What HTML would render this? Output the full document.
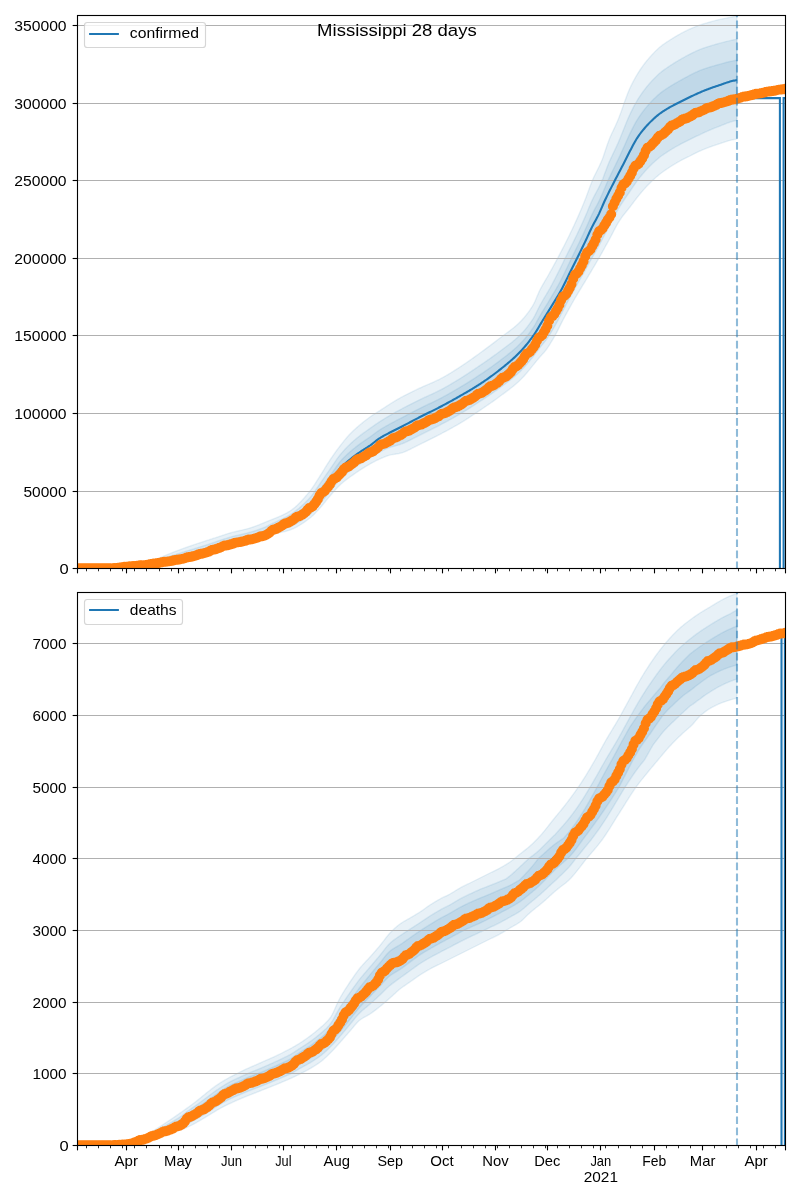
<!DOCTYPE html>
<html><head><meta charset="utf-8"><title>Mississippi 28 days</title>
<style>html,body{margin:0;padding:0;background:#fff}body{width:800px;height:1200px;overflow:hidden}svg{display:block;will-change:transform}text{font-family:"Liberation Sans",sans-serif;fill:#000}</style>
</head><body>
<svg width="800" height="1200" viewBox="0 0 800 1200">
<rect width="800" height="1200" fill="#fff"/>
<clipPath id="c1"><rect x="77.5" y="15.5" width="708" height="553"/></clipPath>
<g clip-path="url(#c1)">
<path d="M150,562 L151,561.56 L152,561.12 L153,560.68 L154,560.25 L155,559.81 L156,559.38 L157,558.95 L158,558.52 L159,558.1 L160,557.67 L161,557.25 L162,556.83 L163,556.41 L164,556 L165,555.59 L166,555.17 L167,554.77 L168,554.36 L169,553.96 L170,553.55 L171,553.16 L172,552.76 L173,552.36 L174,551.97 L175,551.58 L176,551.2 L177,550.81 L178,550.43 L179,550.05 L180,549.68 L181,549.3 L182,548.93 L183,548.57 L184,548.2 L185,547.84 L186,547.48 L187,547.13 L188,546.78 L189,546.43 L190,546.08 L191,545.73 L192,545.39 L193,545.05 L194,544.71 L195,544.38 L196,544.04 L197,543.71 L198,543.38 L199,543.05 L200,542.72 L201,542.4 L202,542.07 L203,541.75 L204,541.42 L205,541.1 L206,540.78 L207,540.45 L208,540.13 L209,539.81 L210,539.49 L211,539.17 L212,538.85 L213,538.52 L214,538.2 L215,537.88 L216,537.55 L217,537.23 L218,536.9 L219,536.58 L220,536.25 L221,535.92 L222,535.58 L223,535.25 L224,534.91 L225,534.57 L226,534.24 L227,533.92 L228,533.6 L229,533.29 L230,533 L231,532.72 L232,532.45 L233,532.19 L234,531.94 L235,531.7 L236,531.46 L237,531.23 L238,531 L239,530.77 L240,530.54 L241,530.32 L242,530.09 L243,529.85 L244,529.61 L245,529.37 L246,529.11 L247,528.85 L248,528.58 L249,528.3 L250,528 L251,527.69 L252,527.36 L253,527.03 L254,526.68 L255,526.32 L256,525.95 L257,525.57 L258,525.18 L259,524.79 L260,524.39 L261,523.98 L262,523.57 L263,523.16 L264,522.75 L265,522.33 L266,521.92 L267,521.5 L268,521.09 L269,520.69 L270,520.29 L271,519.89 L272,519.5 L273,519.1 L274,518.71 L275,518.31 L276,517.91 L277,517.5 L278,517.09 L279,516.66 L280,516.23 L281,515.79 L282,515.33 L283,514.85 L284,514.36 L285,513.86 L286,513.33 L287,512.78 L288,512.21 L289,511.62 L290,511 L291,510.34 L292,509.64 L293,508.88 L294,508.09 L295,507.25 L296,506.37 L297,505.45 L298,504.5 L299,503.51 L300,502.49 L301,501.44 L302,500.36 L303,499.26 L304,498.13 L305,496.98 L306,495.82 L307,494.63 L308,493.43 L309,492.22 L310,491 L311,489.73 L312,488.36 L313,486.93 L314,485.44 L315,483.9 L316,482.33 L317,480.74 L318,479.15 L319,477.56 L320,476 L321,474.43 L322,472.83 L323,471.21 L324,469.57 L325,467.93 L326,466.3 L327,464.68 L328,463.08 L329,461.52 L330,460 L331,458.51 L332,457.05 L333,455.59 L334,454.16 L335,452.75 L336,451.36 L337,449.98 L338,448.63 L339,447.3 L340,446 L341,444.71 L342,443.42 L343,442.15 L344,440.89 L345,439.65 L346,438.44 L347,437.27 L348,436.13 L349,435.04 L350,434 L351,433 L352,432.01 L353,431.05 L354,430.1 L355,429.17 L356,428.26 L357,427.37 L358,426.49 L359,425.63 L360,424.78 L361,423.95 L362,423.13 L363,422.32 L364,421.53 L365,420.75 L366,419.98 L367,419.22 L368,418.47 L369,417.73 L370,417 L371,416.29 L372,415.6 L373,414.94 L374,414.29 L375,413.66 L376,413.03 L377,412.4 L378,411.78 L379,411.14 L380,410.5 L381,409.85 L382,409.19 L383,408.53 L384,407.88 L385,407.22 L386,406.56 L387,405.91 L388,405.27 L389,404.63 L390,404 L391,403.38 L392,402.75 L393,402.13 L394,401.52 L395,400.91 L396,400.31 L397,399.71 L398,399.13 L399,398.56 L400,398 L401,397.45 L402,396.91 L403,396.38 L404,395.85 L405,395.33 L406,394.82 L407,394.31 L408,393.8 L409,393.3 L410,392.81 L411,392.31 L412,391.83 L413,391.34 L414,390.86 L415,390.38 L416,389.9 L417,389.42 L418,388.95 L419,388.47 L420,388 L421,387.53 L422,387.07 L423,386.62 L424,386.18 L425,385.74 L426,385.31 L427,384.88 L428,384.46 L429,384.03 L430,383.6 L431,383.17 L432,382.74 L433,382.3 L434,381.86 L435,381.41 L436,380.95 L437,380.48 L438,380 L439,379.51 L440,379 L441,378.48 L442,377.95 L443,377.4 L444,376.85 L445,376.28 L446,375.71 L447,375.13 L448,374.54 L449,373.94 L450,373.33 L451,372.72 L452,372.1 L453,371.47 L454,370.84 L455,370.21 L456,369.57 L457,368.93 L458,368.29 L459,367.65 L460,367 L461,366.35 L462,365.69 L463,365.03 L464,364.35 L465,363.67 L466,362.99 L467,362.3 L468,361.6 L469,360.9 L470,360.19 L471,359.49 L472,358.77 L473,358.06 L474,357.34 L475,356.62 L476,355.9 L477,355.17 L478,354.45 L479,353.72 L480,353 L481,352.27 L482,351.55 L483,350.82 L484,350.08 L485,349.35 L486,348.61 L487,347.87 L488,347.12 L489,346.37 L490,345.63 L491,344.87 L492,344.12 L493,343.36 L494,342.6 L495,341.84 L496,341.08 L497,340.31 L498,339.54 L499,338.77 L500,338 L501,337.23 L502,336.48 L503,335.73 L504,335 L505,334.27 L506,333.54 L507,332.81 L508,332.07 L509,331.33 L510,330.58 L511,329.82 L512,329.04 L513,328.25 L514,327.44 L515,326.6 L516,325.74 L517,324.86 L518,323.94 L519,322.99 L520,322 L521,320.98 L522,319.92 L523,318.83 L524,317.7 L525,316.52 L526,315.3 L527,314.02 L528,312.7 L529,311.32 L530,309.88 L531,308.37 L532,306.81 L533,305.17 L534,303.35 L535,301.24 L536,298.94 L537,296.54 L538,294.16 L539,291.88 L540,289.8 L541,287.89 L542,286.06 L543,284.29 L544,282.57 L545,280.87 L546,279.19 L547,277.49 L548,275.77 L549,274 L550,272.2 L551,270.39 L552,268.58 L553,266.75 L554,264.92 L555,263.07 L556,261.21 L557,259.34 L558,257.46 L559,255.57 L560,253.67 L561,251.76 L562,249.84 L563,247.91 L564,245.96 L565,243.99 L566,242.01 L567,240 L568,237.98 L569,235.94 L570,233.88 L571,231.81 L572,229.72 L573,227.61 L574,225.47 L575,223.3 L576,221.11 L577,218.88 L578,216.63 L579,214.35 L580,212.04 L581,209.7 L582,207.33 L583,204.92 L584,202.48 L585,200 L586,197.43 L587,194.76 L588,192.01 L589,189.26 L590,186.53 L591,183.88 L592,181.36 L593,179.01 L594,176.8 L595,174.71 L596,172.69 L597,170.7 L598,168.71 L599,166.69 L600,164.58 L601,162.37 L602,160 L603,157.4 L604,154.55 L605,151.57 L606,148.53 L607,145.53 L608,142.65 L609,140 L610,137.57 L611,135.27 L612,133.07 L613,130.94 L614,128.84 L615,126.73 L616,124.58 L617,122.34 L618,120 L619,117.51 L620,114.87 L621,112.13 L622,109.31 L623,106.45 L624,103.58 L625,100.74 L626,97.95 L627,95.25 L628,92.67 L629,90.24 L630,88 L631,85.9 L632,83.88 L633,81.92 L634,80.04 L635,78.22 L636,76.46 L637,74.76 L638,73.12 L639,71.53 L640,70 L641,68.51 L642,67.08 L643,65.68 L644,64.34 L645,63.03 L646,61.75 L647,60.52 L648,59.32 L649,58.14 L650,57 L651,55.88 L652,54.78 L653,53.7 L654,52.64 L655,51.62 L656,50.62 L657,49.66 L658,48.73 L659,47.85 L660,47 L661,46.2 L662,45.42 L663,44.68 L664,43.97 L665,43.28 L666,42.6 L667,41.94 L668,41.29 L669,40.65 L670,40 L671,39.36 L672,38.72 L673,38.1 L674,37.48 L675,36.87 L676,36.28 L677,35.69 L678,35.12 L679,34.55 L680,34 L681,33.46 L682,32.92 L683,32.4 L684,31.88 L685,31.37 L686,30.88 L687,30.39 L688,29.91 L689,29.45 L690,29 L691,28.56 L692,28.12 L693,27.7 L694,27.28 L695,26.87 L696,26.48 L697,26.09 L698,25.71 L699,25.35 L700,25 L701,24.66 L702,24.34 L703,24.02 L704,23.72 L705,23.42 L706,23.13 L707,22.84 L708,22.56 L709,22.28 L710,22 L711,21.72 L712,21.45 L713,21.17 L714,20.9 L715,20.63 L716,20.37 L717,20.12 L718,19.87 L719,19.63 L720,19.4 L721,19.18 L722,18.97 L723,18.76 L724,18.56 L725,18.37 L726,18.17 L727,17.98 L728,17.79 L729,17.6 L730,17.4 L731,17.2 L732,17 L733,16.8 L734,16.6 L735,16.4 L736,16.2 L737,16 L737,139 L736,139.16 L735,139.33 L734,139.52 L733,139.72 L732,139.94 L731,140.16 L730,140.4 L729,140.66 L728,140.94 L727,141.24 L726,141.56 L725,141.89 L724,142.23 L723,142.58 L722,142.92 L721,143.27 L720,143.6 L719,143.93 L718,144.26 L717,144.59 L716,144.92 L715,145.25 L714,145.59 L713,145.93 L712,146.28 L711,146.64 L710,147 L709,147.37 L708,147.74 L707,148.12 L706,148.51 L705,148.9 L704,149.3 L703,149.71 L702,150.13 L701,150.56 L700,151 L699,151.46 L698,151.93 L697,152.42 L696,152.92 L695,153.43 L694,153.95 L693,154.46 L692,154.98 L691,155.5 L690,156 L689,156.5 L688,156.99 L687,157.47 L686,157.96 L685,158.44 L684,158.93 L683,159.43 L682,159.94 L681,160.46 L680,161 L679,161.55 L678,162.12 L677,162.69 L676,163.28 L675,163.87 L674,164.48 L673,165.1 L672,165.72 L671,166.36 L670,167 L669,167.65 L668,168.3 L667,168.97 L666,169.64 L665,170.32 L664,171.02 L663,171.74 L662,172.47 L661,173.22 L660,174 L659,174.8 L658,175.63 L657,176.48 L656,177.35 L655,178.25 L654,179.16 L653,180.1 L652,181.05 L651,182.02 L650,183 L649,184 L648,185.03 L647,186.08 L646,187.15 L645,188.25 L644,189.36 L643,190.5 L642,191.65 L641,192.82 L640,194 L639,195.21 L638,196.46 L637,197.74 L636,199.04 L635,200.36 L634,201.7 L633,203.03 L632,204.37 L631,205.69 L630,207 L629,208.28 L628,209.53 L627,210.77 L626,212 L625,213.23 L624,214.49 L623,215.79 L622,217.13 L621,218.53 L620,220 L619,221.57 L618,223.23 L617,224.97 L616,226.79 L615,228.65 L614,230.54 L613,232.46 L612,234.38 L611,236.28 L610,238.16 L609,240 L608,241.81 L607,243.63 L606,245.45 L605,247.26 L604,249.08 L603,250.89 L602,252.68 L601,254.47 L600,256.24 L599,258 L598,259.74 L597,261.47 L596,263.18 L595,264.88 L594,266.58 L593,268.27 L592,269.95 L591,271.63 L590,273.3 L589,274.98 L588,276.65 L587,278.32 L586,280 L585,281.67 L584,283.33 L583,284.98 L582,286.62 L581,288.27 L580,289.91 L579,291.56 L578,293.21 L577,294.88 L576,296.57 L575,298.27 L574,300 L573,301.75 L572,303.51 L571,305.29 L570,307.08 L569,308.89 L568,310.71 L567,312.55 L566,314.39 L565,316.25 L564,318.12 L563,320 L562,321.92 L561,323.9 L560,325.91 L559,327.92 L558,329.93 L557,331.89 L556,333.79 L555,335.6 L554,337.36 L553,339.09 L552,340.8 L551,342.48 L550,344.11 L549,345.68 L548,347.2 L547,348.64 L546,350 L545,351.26 L544,352.44 L543,353.55 L542,354.64 L541,355.73 L540,356.86 L539,358.03 L538,359.22 L537,360.42 L536,361.65 L535,362.88 L534,364.12 L533,365.37 L532,366.61 L531,367.85 L530,369.09 L529,370.32 L528,371.53 L527,372.72 L526,373.9 L525,375.05 L524,376.17 L523,377.26 L522,378.31 L521,379.33 L520,380.3 L519,381.24 L518,382.15 L517,383.05 L516,383.92 L515,384.77 L514,385.61 L513,386.43 L512,387.24 L511,388.03 L510,388.81 L509,389.58 L508,390.34 L507,391.1 L506,391.85 L505,392.59 L504,393.33 L503,394.07 L502,394.81 L501,395.56 L500,396.3 L499,397.04 L498,397.78 L497,398.51 L496,399.24 L495,399.96 L494,400.67 L493,401.38 L492,402.08 L491,402.78 L490,403.48 L489,404.17 L488,404.86 L487,405.55 L486,406.24 L485,406.92 L484,407.6 L483,408.27 L482,408.95 L481,409.63 L480,410.3 L479,410.97 L478,411.65 L477,412.32 L476,413 L475,413.67 L474,414.34 L473,415.01 L472,415.67 L471,416.34 L470,417 L469,417.65 L468,418.3 L467,418.95 L466,419.59 L465,420.22 L464,420.85 L463,421.48 L462,422.09 L461,422.7 L460,423.3 L459,423.89 L458,424.48 L457,425.06 L456,425.63 L455,426.2 L454,426.77 L453,427.33 L452,427.88 L451,428.43 L450,428.98 L449,429.52 L448,430.06 L447,430.6 L446,431.13 L445,431.67 L444,432.2 L443,432.72 L442,433.25 L441,433.78 L440,434.3 L439,434.82 L438,435.34 L437,435.86 L436,436.38 L435,436.89 L434,437.4 L433,437.91 L432,438.42 L431,438.92 L430,439.43 L429,439.92 L428,440.42 L427,440.92 L426,441.41 L425,441.9 L424,442.38 L423,442.87 L422,443.35 L421,443.82 L420,444.3 L419,444.78 L418,445.28 L417,445.78 L416,446.29 L415,446.81 L414,447.33 L413,447.85 L412,448.36 L411,448.87 L410,449.38 L409,449.87 L408,450.34 L407,450.8 L406,451.24 L405,451.65 L404,452.04 L403,452.41 L402,452.74 L401,453.04 L400,453.3 L399,453.53 L398,453.72 L397,453.89 L396,454.04 L395,454.19 L394,454.34 L393,454.49 L392,454.66 L391,454.86 L390,455.08 L389,455.34 L388,455.64 L387,455.98 L386,456.34 L385,456.73 L384,457.13 L383,457.56 L382,457.99 L381,458.42 L380,458.86 L379,459.31 L378,459.77 L377,460.25 L376,460.75 L375,461.27 L374,461.79 L373,462.33 L372,462.88 L371,463.44 L370,464 L369,464.57 L368,465.15 L367,465.74 L366,466.34 L365,466.94 L364,467.56 L363,468.18 L362,468.81 L361,469.45 L360,470.1 L359,470.76 L358,471.42 L357,472.09 L356,472.77 L355,473.46 L354,474.15 L353,474.85 L352,475.56 L351,476.28 L350,477 L349,477.73 L348,478.46 L347,479.21 L346,479.97 L345,480.75 L344,481.55 L343,482.37 L342,483.21 L341,484.09 L340,485 L339,485.96 L338,486.96 L337,488.01 L336,489.1 L335,490.22 L334,491.36 L333,492.52 L332,493.68 L331,494.85 L330,496 L329,497.17 L328,498.37 L327,499.59 L326,500.83 L325,502.07 L324,503.31 L323,504.53 L322,505.72 L321,506.88 L320,508 L319,509.09 L318,510.19 L317,511.28 L316,512.35 L315,513.4 L314,514.42 L313,515.39 L312,516.32 L311,517.19 L310,518 L309,518.77 L308,519.52 L307,520.26 L306,520.99 L305,521.7 L304,522.4 L303,523.08 L302,523.75 L301,524.39 L300,525.02 L299,525.63 L298,526.21 L297,526.77 L296,527.31 L295,527.83 L294,528.32 L293,528.78 L292,529.21 L291,529.62 L290,530 L289,530.35 L288,530.66 L287,530.95 L286,531.22 L285,531.46 L284,531.7 L283,531.92 L282,532.14 L281,532.35 L280,532.57 L279,532.79 L278,533.03 L277,533.27 L276,533.54 L275,533.83 L274,534.15 L273,534.5 L272,534.94 L271,535.47 L270,536.03 L269,536.56 L268,537 L267,537.36 L266,537.7 L265,538.03 L264,538.34 L263,538.64 L262,538.92 L261,539.2 L260,539.46 L259,539.72 L258,539.96 L257,540.2 L256,540.44 L255,540.67 L254,540.9 L253,541.12 L252,541.35 L251,541.57 L250,541.8 L249,542.02 L248,542.24 L247,542.45 L246,542.65 L245,542.85 L244,543.04 L243,543.23 L242,543.42 L241,543.6 L240,543.79 L239,543.98 L238,544.16 L237,544.36 L236,544.55 L235,544.75 L234,544.95 L233,545.17 L232,545.39 L231,545.62 L230,545.85 L229,546.09 L228,546.33 L227,546.58 L226,546.84 L225,547.1 L224,547.36 L223,547.63 L222,547.9 L221,548.17 L220,548.44 L219,548.72 L218,549 L217,549.28 L216,549.57 L215,549.85 L214,550.14 L213,550.42 L212,550.71 L211,551 L210,551.29 L209,551.57 L208,551.86 L207,552.14 L206,552.43 L205,552.73 L204,553.03 L203,553.33 L202,553.63 L201,553.94 L200,554.25 L199,554.56 L198,554.88 L197,555.19 L196,555.51 L195,555.82 L194,556.13 L193,556.44 L192,556.75 L191,557.06 L190,557.36 L189,557.66 L188,557.96 L187,558.25 L186,558.54 L185,558.82 L184,559.1 L183,559.37 L182,559.63 L181,559.89 L180,560.15 L179,560.41 L178,560.66 L177,560.92 L176,561.17 L175,561.42 L174,561.67 L173,561.92 L172,562.16 L171,562.41 L170,562.65 L169,562.89 L168,563.13 L167,563.36 L166,563.6 L165,563.83 L164,564.06 L163,564.28 L162,564.51 L161,564.73 L160,564.95 L159,565.16 L158,565.38 L157,565.59 L156,565.8 L155,566.01 L154,566.21 L153,566.41 L152,566.61 L151,566.81 L150,567Z" fill="#1f77b4" fill-opacity="0.1" stroke="#1f77b4" stroke-opacity="0.1" stroke-width="1.39" stroke-linejoin="round"/>
<path d="M150,562.51 L151,562.18 L152,561.85 L153,561.52 L154,561.18 L155,560.85 L156,560.53 L157,560.2 L158,559.88 L159,559.56 L160,559.24 L161,558.93 L162,558.62 L163,558.3 L164,557.99 L165,557.69 L166,557.38 L167,557.07 L168,556.77 L169,556.46 L170,556.16 L171,555.85 L172,555.55 L173,555.24 L174,554.94 L175,554.64 L176,554.33 L177,554.03 L178,553.72 L179,553.41 L180,553.1 L181,552.8 L182,552.49 L183,552.18 L184,551.87 L185,551.56 L186,551.26 L187,550.95 L188,550.64 L189,550.33 L190,550.02 L191,549.72 L192,549.41 L193,549.1 L194,548.79 L195,548.48 L196,548.17 L197,547.86 L198,547.55 L199,547.24 L200,546.93 L201,546.62 L202,546.31 L203,545.99 L204,545.68 L205,545.36 L206,545.05 L207,544.73 L208,544.42 L209,544.09 L210,543.76 L211,543.43 L212,543.08 L213,542.74 L214,542.4 L215,542.05 L216,541.7 L217,541.36 L218,541.02 L219,540.68 L220,540.35 L221,540.02 L222,539.69 L223,539.36 L224,539.03 L225,538.7 L226,538.38 L227,538.06 L228,537.76 L229,537.46 L230,537.17 L231,536.89 L232,536.62 L233,536.36 L234,536.11 L235,535.86 L236,535.62 L237,535.39 L238,535.16 L239,534.93 L240,534.71 L241,534.48 L242,534.25 L243,534.02 L244,533.79 L245,533.55 L246,533.31 L247,533.05 L248,532.79 L249,532.52 L250,532.24 L251,531.95 L252,531.65 L253,531.35 L254,531.04 L255,530.72 L256,530.4 L257,530.07 L258,529.73 L259,529.38 L260,529.02 L261,528.65 L262,528.28 L263,527.89 L264,527.49 L265,527.08 L266,526.63 L267,526.14 L268,525.65 L269,525.17 L270,524.68 L271,524.18 L272,523.7 L273,523.22 L274,522.76 L275,522.3 L276,521.84 L277,521.38 L278,520.93 L279,520.47 L280,520 L281,519.53 L282,519.06 L283,518.57 L284,518.07 L285,517.56 L286,517.04 L287,516.5 L288,515.94 L289,515.36 L290,514.76 L291,514.13 L292,513.48 L293,512.81 L294,512.1 L295,511.37 L296,510.62 L297,509.84 L298,509.03 L299,508.21 L300,507.35 L301,506.48 L302,505.58 L303,504.65 L304,503.71 L305,502.74 L306,501.75 L307,500.73 L308,499.7 L309,498.64 L310,497.56 L311,496.41 L312,495.17 L313,493.84 L314,492.44 L315,490.99 L316,489.51 L317,488.01 L318,486.52 L319,485.04 L320,483.6 L321,482.18 L322,480.74 L323,479.3 L324,477.86 L325,476.41 L326,474.96 L327,473.51 L328,472.06 L329,470.63 L330,469.2 L331,467.76 L332,466.29 L333,464.81 L334,463.33 L335,461.85 L336,460.39 L337,458.96 L338,457.58 L339,456.26 L340,455 L341,453.79 L342,452.62 L343,451.46 L344,450.34 L345,449.25 L346,448.18 L347,447.14 L348,446.13 L349,445.15 L350,444.2 L351,443.27 L352,442.37 L353,441.47 L354,440.6 L355,439.74 L356,438.9 L357,438.07 L358,437.26 L359,436.46 L360,435.67 L361,434.89 L362,434.14 L363,433.4 L364,432.67 L365,431.95 L366,431.24 L367,430.53 L368,429.82 L369,429.11 L370,428.4 L371,427.69 L372,426.97 L373,426.27 L374,425.56 L375,424.86 L376,424.17 L377,423.49 L378,422.81 L379,422.15 L380,421.5 L381,420.86 L382,420.23 L383,419.6 L384,418.99 L385,418.38 L386,417.77 L387,417.17 L388,416.58 L389,415.99 L390,415.4 L391,414.82 L392,414.24 L393,413.67 L394,413.1 L395,412.54 L396,411.98 L397,411.43 L398,410.88 L399,410.34 L400,409.8 L401,409.27 L402,408.74 L403,408.21 L404,407.68 L405,407.16 L406,406.64 L407,406.12 L408,405.61 L409,405.1 L410,404.59 L411,404.08 L412,403.57 L413,403.07 L414,402.57 L415,402.07 L416,401.57 L417,401.08 L418,400.58 L419,400.09 L420,399.6 L421,399.12 L422,398.64 L423,398.17 L424,397.7 L425,397.24 L426,396.78 L427,396.33 L428,395.88 L429,395.43 L430,394.97 L431,394.52 L432,394.06 L433,393.6 L434,393.14 L435,392.67 L436,392.19 L437,391.71 L438,391.21 L439,390.71 L440,390.2 L441,389.68 L442,389.15 L443,388.61 L444,388.06 L445,387.51 L446,386.95 L447,386.38 L448,385.81 L449,385.23 L450,384.65 L451,384.06 L452,383.47 L453,382.87 L454,382.27 L455,381.66 L456,381.05 L457,380.44 L458,379.83 L459,379.22 L460,378.6 L461,377.98 L462,377.36 L463,376.73 L464,376.09 L465,375.45 L466,374.81 L467,374.16 L468,373.51 L469,372.86 L470,372.2 L471,371.53 L472,370.87 L473,370.2 L474,369.52 L475,368.84 L476,368.16 L477,367.48 L478,366.79 L479,366.09 L480,365.4 L481,364.73 L482,364.06 L483,363.38 L484,362.7 L485,362.01 L486,361.32 L487,360.63 L488,359.93 L489,359.23 L490,358.53 L491,357.82 L492,357.1 L493,356.38 L494,355.66 L495,354.93 L496,354.2 L497,353.46 L498,352.72 L499,351.98 L500,351.23 L501,350.48 L502,349.74 L503,349 L504,348.26 L505,347.53 L506,346.79 L507,346.05 L508,345.3 L509,344.54 L510,343.77 L511,342.99 L512,342.2 L513,341.39 L514,340.57 L515,339.72 L516,338.85 L517,337.96 L518,337.04 L519,336.09 L520,335.12 L521,334.11 L522,333.07 L523,332 L524,330.86 L525,329.69 L526,328.47 L527,327.22 L528,325.93 L529,324.59 L530,323.21 L531,321.78 L532,320.3 L533,318.78 L534,317.14 L535,315.3 L536,313.32 L537,311.27 L538,309.21 L539,307.2 L540,305.29 L541,303.48 L542,301.72 L543,300 L544,298.33 L545,296.67 L546,295.01 L547,293.35 L548,291.67 L549,289.97 L550,288.25 L551,286.36 L552,284.45 L553,282.54 L554,280.63 L555,278.71 L556,276.78 L557,274.84 L558,272.88 L559,270.9 L560,268.9 L561,266.87 L562,264.8 L563,262.7 L564,260.56 L565,258.4 L566,256.46 L567,254.5 L568,252.54 L569,250.58 L570,248.61 L571,246.63 L572,244.64 L573,242.64 L574,240.62 L575,238.59 L576,236.53 L577,234.45 L578,232.36 L579,230.25 L580,228.12 L581,225.97 L582,223.8 L583,221.61 L584,219.4 L585,217.15 L586,214.85 L587,212.46 L588,210.03 L589,207.6 L590,205.19 L591,202.85 L592,200.6 L593,198.49 L594,196.51 L595,194.61 L596,192.77 L597,190.93 L598,189.05 L599,187.1 L600,185.05 L601,182.89 L602,180.63 L603,178.18 L604,175.54 L605,172.86 L606,170.19 L607,167.55 L608,165 L609,162.58 L610,160.29 L611,158.09 L612,155.95 L613,153.84 L614,151.76 L615,149.67 L616,147.55 L617,145.4 L618,143.19 L619,140.9 L620,138.52 L621,136.09 L622,133.6 L623,131.09 L624,128.57 L625,126.05 L626,123.54 L627,121.08 L628,118.67 L629,116.36 L630,114.19 L631,112.11 L632,110.07 L633,108.09 L634,106.16 L635,104.29 L636,102.49 L637,100.77 L638,99.12 L639,97.54 L640,96.01 L641,94.54 L642,93.11 L643,91.72 L644,90.38 L645,89.07 L646,87.79 L647,86.55 L648,85.34 L649,84.15 L650,83 L651,81.88 L652,80.79 L653,79.71 L654,78.66 L655,77.64 L656,76.64 L657,75.68 L658,74.74 L659,73.84 L660,72.99 L661,72.16 L662,71.37 L663,70.61 L664,69.87 L665,69.16 L666,68.46 L667,67.77 L668,67.09 L669,66.42 L670,65.76 L671,65.11 L672,64.46 L673,63.82 L674,63.19 L675,62.57 L676,61.96 L677,61.35 L678,60.76 L679,60.17 L680,59.59 L681,59.02 L682,58.45 L683,57.88 L684,57.32 L685,56.76 L686,56.21 L687,55.67 L688,55.14 L689,54.62 L690,54.11 L691,53.6 L692,53.1 L693,52.61 L694,52.13 L695,51.65 L696,51.18 L697,50.72 L698,50.27 L699,49.83 L700,49.4 L701,49.03 L702,48.67 L703,48.32 L704,47.98 L705,47.64 L706,47.32 L707,46.99 L708,46.67 L709,46.36 L710,46.05 L711,45.74 L712,45.44 L713,45.14 L714,44.84 L715,44.55 L716,44.27 L717,43.98 L718,43.71 L719,43.43 L720,43.17 L721,42.9 L722,42.64 L723,42.38 L724,42.12 L725,41.86 L726,41.61 L727,41.37 L728,41.13 L729,40.89 L730,40.67 L731,40.44 L732,40.23 L733,40.01 L734,39.8 L735,39.6 L736,39.4 L737,39.2 L737,120.3 L736,120.53 L735,120.77 L734,121.03 L733,121.29 L732,121.58 L731,121.87 L730,122.17 L729,122.5 L728,122.85 L727,123.21 L726,123.6 L725,124 L724,124.4 L723,124.81 L722,125.22 L721,125.62 L720,126.02 L719,126.41 L718,126.8 L717,127.19 L716,127.58 L715,127.97 L714,128.37 L713,128.77 L712,129.17 L711,129.59 L710,130.01 L709,130.44 L708,130.87 L707,131.31 L706,131.76 L705,132.21 L704,132.67 L703,133.14 L702,133.61 L701,134.1 L700,134.59 L699,135.04 L698,135.51 L697,135.98 L696,136.47 L695,136.97 L694,137.47 L693,137.97 L692,138.48 L691,138.98 L690,139.48 L689,139.97 L688,140.46 L687,140.95 L686,141.44 L685,141.93 L684,142.43 L683,142.93 L682,143.44 L681,143.95 L680,144.48 L679,145.02 L678,145.56 L677,146.11 L676,146.68 L675,147.25 L674,147.83 L673,148.42 L672,149.02 L671,149.63 L670,150.25 L669,150.87 L668,151.5 L667,152.15 L666,152.8 L665,153.47 L664,154.15 L663,154.84 L662,155.56 L661,156.3 L660,157.06 L659,157.85 L658,158.67 L657,159.51 L656,160.38 L655,161.27 L654,162.18 L653,163.11 L652,164.06 L651,165.03 L650,166.01 L649,167.02 L648,168.06 L647,169.12 L646,170.2 L645,171.31 L644,172.44 L643,173.59 L642,174.76 L641,175.96 L640,177.18 L639,178.44 L638,179.74 L637,181.09 L636,182.48 L635,183.92 L634,185.38 L633,186.86 L632,188.35 L631,189.84 L630,191.32 L629,192.79 L628,194.25 L627,195.71 L626,197.16 L625,198.6 L624,200.06 L623,201.53 L622,203.03 L621,204.57 L620,206.16 L619,207.83 L618,209.56 L617,211.35 L616,213.2 L615,215.08 L614,217 L613,218.92 L612,220.85 L611,222.77 L610,224.68 L609,226.56 L608,228.43 L607,230.3 L606,232.19 L605,234.09 L604,236.01 L603,237.95 L602,239.89 L601,241.82 L600,243.74 L599,245.61 L598,247.44 L597,249.22 L596,250.97 L595,252.7 L594,254.43 L593,256.18 L592,257.94 L591,259.72 L590,261.52 L589,263.33 L588,265.14 L587,266.96 L586,268.77 L585,270.56 L584,272.34 L583,274.11 L582,275.87 L581,277.62 L580,279.38 L579,281.13 L578,282.9 L577,284.67 L576,286.45 L575,288.24 L574,290.05 L573,291.87 L572,293.7 L571,295.55 L570,297.4 L569,299.26 L568,301.14 L567,303.03 L566,304.94 L565,306.85 L564,308.76 L563,310.67 L562,312.59 L561,314.53 L560,316.48 L559,318.41 L558,320.33 L557,322.2 L556,324.02 L555,325.78 L554,327.5 L553,329.2 L552,330.89 L551,332.54 L550,334.14 L549,335.7 L548,337.21 L547,338.68 L546,340.08 L545,341.42 L544,342.69 L543,343.92 L542,345.14 L541,346.37 L540,347.63 L539,348.92 L538,350.23 L537,351.54 L536,352.85 L535,354.16 L534,355.45 L533,356.72 L532,357.98 L531,359.23 L530,360.47 L529,361.7 L528,362.91 L527,364.1 L526,365.26 L525,366.4 L524,367.51 L523,368.59 L522,369.64 L521,370.65 L520,371.63 L519,372.57 L518,373.49 L517,374.39 L516,375.26 L515,376.12 L514,376.96 L513,377.79 L512,378.6 L511,379.4 L510,380.18 L509,380.96 L508,381.73 L507,382.48 L506,383.23 L505,383.98 L504,384.72 L503,385.46 L502,386.2 L501,386.93 L500,387.67 L499,388.41 L498,389.13 L497,389.86 L496,390.57 L495,391.28 L494,391.99 L493,392.68 L492,393.38 L491,394.06 L490,394.75 L489,395.43 L488,396.1 L487,396.77 L486,397.43 L485,398.1 L484,398.76 L483,399.41 L482,400.06 L481,400.71 L480,401.36 L479,402.02 L478,402.69 L477,403.35 L476,404.01 L475,404.66 L474,405.31 L473,405.96 L472,406.61 L471,407.25 L470,407.89 L469,408.52 L468,409.15 L467,409.77 L466,410.39 L465,411.01 L464,411.62 L463,412.23 L462,412.83 L461,413.43 L460,414.02 L459,414.6 L458,415.18 L457,415.76 L456,416.33 L455,416.9 L454,417.46 L453,418.02 L452,418.58 L451,419.13 L450,419.68 L449,420.22 L448,420.77 L447,421.31 L446,421.84 L445,422.38 L444,422.91 L443,423.44 L442,423.97 L441,424.49 L440,425.02 L439,425.54 L438,426.06 L437,426.57 L436,427.09 L435,427.6 L434,428.1 L433,428.61 L432,429.11 L431,429.61 L430,430.11 L429,430.61 L428,431.1 L427,431.6 L426,432.09 L425,432.58 L424,433.07 L423,433.56 L422,434.04 L421,434.53 L420,435.02 L419,435.51 L418,436.01 L417,436.52 L416,437.04 L415,437.56 L414,438.08 L413,438.6 L412,439.13 L411,439.64 L410,440.15 L409,440.66 L408,441.15 L407,441.64 L406,442.1 L405,442.56 L404,442.99 L403,443.41 L402,443.81 L401,444.18 L400,444.53 L399,444.85 L398,445.15 L397,445.43 L396,445.7 L395,445.96 L394,446.23 L393,446.5 L392,446.78 L391,447.08 L390,447.4 L389,447.75 L388,448.13 L387,448.53 L386,448.94 L385,449.38 L384,449.83 L383,450.3 L382,450.78 L381,451.27 L380,451.77 L379,452.29 L378,452.83 L377,453.41 L376,454 L375,454.6 L374,455.22 L373,455.85 L372,456.47 L371,457.09 L370,457.71 L369,458.32 L368,458.93 L367,459.54 L366,460.14 L365,460.76 L364,461.38 L363,462 L362,462.64 L361,463.29 L360,463.95 L359,464.62 L358,465.3 L357,465.99 L356,466.68 L355,467.39 L354,468.1 L353,468.82 L352,469.56 L351,470.3 L350,471.05 L349,471.81 L348,472.57 L347,473.34 L346,474.13 L345,474.93 L344,475.76 L343,476.61 L342,477.5 L341,478.42 L340,479.39 L339,480.42 L338,481.54 L337,482.72 L336,483.95 L335,485.22 L334,486.5 L333,487.8 L332,489.09 L331,490.35 L330,491.58 L329,492.79 L328,494.01 L327,495.23 L326,496.45 L325,497.67 L324,498.88 L323,500.08 L322,501.26 L321,502.43 L320,503.58 L319,504.73 L318,505.9 L317,507.07 L316,508.24 L315,509.39 L314,510.51 L313,511.58 L312,512.6 L311,513.54 L310,514.4 L309,515.2 L308,515.97 L307,516.73 L306,517.47 L305,518.19 L304,518.89 L303,519.57 L302,520.23 L301,520.87 L300,521.5 L299,522.1 L298,522.69 L297,523.25 L296,523.8 L295,524.34 L294,524.85 L293,525.35 L292,525.83 L291,526.29 L290,526.74 L289,527.16 L288,527.56 L287,527.93 L286,528.29 L285,528.63 L284,528.96 L283,529.28 L282,529.59 L281,529.9 L280,530.22 L279,530.54 L278,530.87 L277,531.21 L276,531.57 L275,531.94 L274,532.34 L273,532.77 L272,533.26 L271,533.82 L270,534.41 L269,534.97 L268,535.47 L267,535.92 L266,536.34 L265,536.73 L264,537.07 L263,537.39 L262,537.7 L261,537.99 L260,538.27 L259,538.54 L258,538.8 L257,539.05 L256,539.3 L255,539.54 L254,539.77 L253,540 L252,540.24 L251,540.47 L250,540.71 L249,540.95 L248,541.18 L247,541.4 L246,541.61 L245,541.82 L244,542.03 L243,542.23 L242,542.43 L241,542.63 L240,542.83 L239,543.02 L238,543.23 L237,543.43 L236,543.64 L235,543.85 L234,544.07 L233,544.3 L232,544.53 L231,544.77 L230,545.02 L229,545.28 L228,545.54 L227,545.8 L226,546.07 L225,546.35 L224,546.63 L223,546.91 L222,547.2 L221,547.49 L220,547.78 L219,548.08 L218,548.39 L217,548.7 L216,549.01 L215,549.33 L214,549.64 L213,549.96 L212,550.28 L211,550.6 L210,550.91 L209,551.21 L208,551.51 L207,551.81 L206,552.1 L205,552.4 L204,552.7 L203,553 L202,553.3 L201,553.6 L200,553.91 L199,554.21 L198,554.51 L197,554.82 L196,555.12 L195,555.42 L194,555.71 L193,556.01 L192,556.3 L191,556.59 L190,556.88 L189,557.16 L188,557.44 L187,557.72 L186,557.99 L185,558.25 L184,558.51 L183,558.77 L182,559.02 L181,559.26 L180,559.5 L179,559.74 L178,559.98 L177,560.21 L176,560.44 L175,560.67 L174,560.9 L173,561.12 L172,561.34 L171,561.55 L170,561.77 L169,561.98 L168,562.19 L167,562.4 L166,562.61 L165,562.81 L164,563.01 L163,563.21 L162,563.41 L161,563.61 L160,563.81 L159,564.01 L158,564.2 L157,564.4 L156,564.59 L155,564.79 L154,564.98 L153,565.17 L152,565.36 L151,565.55 L150,565.73Z" fill="#1f77b4" fill-opacity="0.1" stroke="#1f77b4" stroke-opacity="0.1" stroke-width="1.39" stroke-linejoin="round"/>
<path d="M150,562.89 L151,562.64 L152,562.39 L153,562.14 L154,561.89 L155,561.64 L156,561.39 L157,561.14 L158,560.9 L159,560.66 L160,560.42 L161,560.19 L162,559.96 L163,559.72 L164,559.49 L165,559.26 L166,559.03 L167,558.8 L168,558.57 L169,558.34 L170,558.11 L171,557.87 L172,557.64 L173,557.4 L174,557.17 L175,556.92 L176,556.68 L177,556.43 L178,556.18 L179,555.93 L180,555.67 L181,555.42 L182,555.15 L183,554.89 L184,554.63 L185,554.36 L186,554.09 L187,553.81 L188,553.54 L189,553.26 L190,552.98 L191,552.7 L192,552.42 L193,552.13 L194,551.85 L195,551.56 L196,551.27 L197,550.97 L198,550.68 L199,550.38 L200,550.08 L201,549.78 L202,549.48 L203,549.18 L204,548.87 L205,548.56 L206,548.25 L207,547.94 L208,547.63 L209,547.3 L210,546.97 L211,546.62 L212,546.26 L213,545.9 L214,545.54 L215,545.18 L216,544.82 L217,544.46 L218,544.1 L219,543.76 L220,543.42 L221,543.1 L222,542.77 L223,542.44 L224,542.12 L225,541.8 L226,541.48 L227,541.17 L228,540.87 L229,540.58 L230,540.29 L231,540.01 L232,539.74 L233,539.48 L234,539.23 L235,538.99 L236,538.75 L237,538.51 L238,538.28 L239,538.06 L240,537.83 L241,537.61 L242,537.38 L243,537.15 L244,536.92 L245,536.69 L246,536.45 L247,536.2 L248,535.95 L249,535.69 L250,535.42 L251,535.14 L252,534.87 L253,534.59 L254,534.31 L255,534.03 L256,533.74 L257,533.44 L258,533.14 L259,532.82 L260,532.5 L261,532.16 L262,531.8 L263,531.43 L264,531.05 L265,530.64 L266,530.17 L267,529.63 L268,529.08 L269,528.53 L270,527.97 L271,527.4 L272,526.85 L273,526.31 L274,525.79 L275,525.29 L276,524.79 L277,524.29 L278,523.8 L279,523.32 L280,522.83 L281,522.35 L282,521.86 L283,521.36 L284,520.86 L285,520.35 L286,519.82 L287,519.29 L288,518.74 L289,518.17 L290,517.58 L291,516.98 L292,516.37 L293,515.75 L294,515.11 L295,514.47 L296,513.81 L297,513.13 L298,512.44 L299,511.73 L300,511 L301,510.26 L302,509.49 L303,508.7 L304,507.89 L305,507.05 L306,506.19 L307,505.31 L308,504.39 L309,503.45 L310,502.48 L311,501.43 L312,500.27 L313,499.01 L314,497.69 L315,496.3 L316,494.89 L317,493.46 L318,492.04 L319,490.65 L320,489.3 L321,487.99 L322,486.68 L323,485.37 L324,484.07 L325,482.76 L326,481.45 L327,480.13 L328,478.8 L329,477.46 L330,476.1 L331,474.7 L332,473.23 L333,471.72 L334,470.2 L335,468.67 L336,467.17 L337,465.7 L338,464.3 L339,462.97 L340,461.75 L341,460.61 L342,459.51 L343,458.45 L344,457.43 L345,456.44 L346,455.48 L347,454.54 L348,453.63 L349,452.73 L350,451.85 L351,450.98 L352,450.13 L353,449.3 L354,448.48 L355,447.67 L356,446.88 L357,446.1 L358,445.33 L359,444.58 L360,443.83 L361,443.11 L362,442.4 L363,441.7 L364,441.02 L365,440.35 L366,439.68 L367,439.01 L368,438.33 L369,437.65 L370,436.95 L371,436.23 L372,435.5 L373,434.76 L374,434.01 L375,433.27 L376,432.53 L377,431.8 L378,431.09 L379,430.41 L380,429.75 L381,429.12 L382,428.51 L383,427.91 L384,427.32 L385,426.74 L386,426.18 L387,425.61 L388,425.06 L389,424.5 L390,423.95 L391,423.4 L392,422.86 L393,422.32 L394,421.79 L395,421.26 L396,420.74 L397,420.21 L398,419.69 L399,419.17 L400,418.65 L401,418.13 L402,417.6 L403,417.08 L404,416.56 L405,416.03 L406,415.51 L407,414.98 L408,414.46 L409,413.94 L410,413.42 L411,412.9 L412,412.38 L413,411.86 L414,411.35 L415,410.84 L416,410.32 L417,409.81 L418,409.31 L419,408.8 L420,408.3 L421,407.8 L422,407.31 L423,406.82 L424,406.34 L425,405.86 L426,405.39 L427,404.92 L428,404.44 L429,403.97 L430,403.5 L431,403.03 L432,402.55 L433,402.08 L434,401.6 L435,401.11 L436,400.62 L437,400.13 L438,399.63 L439,399.12 L440,398.6 L441,398.08 L442,397.55 L443,397.01 L444,396.47 L445,395.93 L446,395.38 L447,394.82 L448,394.27 L449,393.7 L450,393.14 L451,392.57 L452,391.99 L453,391.42 L454,390.84 L455,390.25 L456,389.67 L457,389.08 L458,388.49 L459,387.89 L460,387.3 L461,386.7 L462,386.1 L463,385.5 L464,384.9 L465,384.29 L466,383.68 L467,383.06 L468,382.45 L469,381.82 L470,381.2 L471,380.57 L472,379.94 L473,379.3 L474,378.66 L475,378.01 L476,377.36 L477,376.7 L478,376.04 L479,375.37 L480,374.7 L481,374.04 L482,373.38 L483,372.72 L484,372.05 L485,371.37 L486,370.69 L487,370 L488,369.31 L489,368.61 L490,367.91 L491,367.2 L492,366.49 L493,365.77 L494,365.04 L495,364.31 L496,363.58 L497,362.83 L498,362.08 L499,361.33 L500,360.57 L501,359.81 L502,359.04 L503,358.28 L504,357.52 L505,356.75 L506,355.98 L507,355.2 L508,354.42 L509,353.62 L510,352.82 L511,352 L512,351.17 L513,350.32 L514,349.46 L515,348.58 L516,347.68 L517,346.76 L518,345.81 L519,344.85 L520,343.85 L521,342.83 L522,341.77 L523,340.69 L524,339.57 L525,338.42 L526,337.24 L527,336.02 L528,334.76 L529,333.47 L530,332.13 L531,330.76 L532,329.36 L533,327.92 L534,326.4 L535,324.76 L536,323.01 L537,321.21 L538,319.37 L539,317.54 L540,315.76 L541,314.03 L542,312.33 L543,310.66 L544,309.03 L545,307.4 L546,305.78 L547,304.16 L548,302.52 L549,300.86 L550,299.19 L551,297.52 L552,295.83 L553,294.15 L554,292.47 L555,290.8 L556,289.12 L557,287.35 L558,285.56 L559,283.74 L560,281.89 L561,280 L562,278.05 L563,276.05 L564,274 L565,271.91 L566,269.8 L567,267.68 L568,265.55 L569,263.45 L570,261.35 L571,259.24 L572,257.2 L573,255.19 L574,253.18 L575,251.15 L576,249.12 L577,247.06 L578,245 L579,242.93 L580,240.85 L581,238.76 L582,236.65 L583,234.53 L584,232.39 L585,230.24 L586,228.03 L587,225.77 L588,223.47 L589,221.17 L590,218.9 L591,216.67 L592,214.52 L593,212.48 L594,210.56 L595,208.7 L596,206.88 L597,205.03 L598,203.13 L599,201.12 L600,199 L601,196.79 L602,194.5 L603,192.15 L604,189.77 L605,187.41 L606,185.1 L607,182.83 L608,180.62 L609,178.4 L610,176.26 L611,174.15 L612,172.09 L613,170.04 L614,168 L615,165.96 L616,163.91 L617,161.85 L618,159.77 L619,157.66 L620,155.51 L621,153.33 L622,151.12 L623,148.9 L624,146.67 L625,144.42 L626,142.17 L627,139.92 L628,137.68 L629,135.5 L630,133.42 L631,131.4 L632,129.4 L633,127.44 L634,125.52 L635,123.66 L636,121.87 L637,120.17 L638,118.57 L639,117.03 L640,115.56 L641,114.13 L642,112.76 L643,111.43 L644,110.13 L645,108.87 L646,107.63 L647,106.43 L648,105.26 L649,104.11 L650,103 L651,101.93 L652,100.88 L653,99.86 L654,98.86 L655,97.88 L656,96.92 L657,96 L658,95.1 L659,94.24 L660,93.41 L661,92.62 L662,91.86 L663,91.13 L664,90.42 L665,89.73 L666,89.05 L667,88.39 L668,87.74 L669,87.1 L670,86.47 L671,85.85 L672,85.24 L673,84.64 L674,84.05 L675,83.46 L676,82.88 L677,82.31 L678,81.75 L679,81.19 L680,80.63 L681,80.08 L682,79.52 L683,78.97 L684,78.42 L685,77.87 L686,77.32 L687,76.79 L688,76.26 L689,75.73 L690,75.22 L691,74.71 L692,74.21 L693,73.71 L694,73.21 L695,72.72 L696,72.24 L697,71.77 L698,71.3 L699,70.85 L700,70.4 L701,70.03 L702,69.68 L703,69.32 L704,68.98 L705,68.64 L706,68.31 L707,67.98 L708,67.66 L709,67.34 L710,67.03 L711,66.73 L712,66.43 L713,66.14 L714,65.85 L715,65.57 L716,65.29 L717,65.01 L718,64.74 L719,64.47 L720,64.19 L721,63.92 L722,63.63 L723,63.35 L724,63.07 L725,62.79 L726,62.52 L727,62.26 L728,62 L729,61.76 L730,61.53 L731,61.32 L732,61.11 L733,60.91 L734,60.72 L735,60.54 L736,60.36 L737,60.2 L737,99.47 L736,99.65 L735,99.84 L734,100.05 L733,100.27 L732,100.5 L731,100.75 L730,101 L729,101.28 L728,101.58 L727,101.9 L726,102.23 L725,102.58 L724,102.93 L723,103.29 L722,103.64 L721,104 L720,104.34 L719,104.67 L718,105 L717,105.34 L716,105.67 L715,106 L714,106.34 L713,106.68 L712,107.02 L711,107.38 L710,107.74 L709,108.11 L708,108.49 L707,108.87 L706,109.26 L705,109.66 L704,110.06 L703,110.47 L702,110.88 L701,111.31 L700,111.74 L699,112.18 L698,112.63 L697,113.09 L696,113.56 L695,114.04 L694,114.52 L693,115.01 L692,115.49 L691,115.98 L690,116.47 L689,116.96 L688,117.45 L687,117.94 L686,118.44 L685,118.93 L684,119.44 L683,119.94 L682,120.45 L681,120.96 L680,121.47 L679,121.98 L678,122.5 L677,123.02 L676,123.55 L675,124.09 L674,124.64 L673,125.2 L672,125.76 L671,126.33 L670,126.91 L669,127.5 L668,128.1 L667,128.72 L666,129.35 L665,129.99 L664,130.64 L663,131.31 L662,132.01 L661,132.72 L660,133.47 L659,134.24 L658,135.04 L657,135.87 L656,136.73 L655,137.62 L654,138.52 L653,139.45 L652,140.4 L651,141.36 L650,142.35 L649,143.37 L648,144.42 L647,145.49 L646,146.59 L645,147.71 L644,148.87 L643,150.04 L642,151.25 L641,152.48 L640,153.76 L639,155.08 L638,156.46 L637,157.9 L636,159.42 L635,161.01 L634,162.65 L633,164.34 L632,166.05 L631,167.77 L630,169.48 L629,171.21 L628,172.97 L627,174.74 L626,176.49 L625,178.22 L624,179.94 L623,181.66 L622,183.39 L621,185.13 L620,186.89 L619,188.69 L618,190.52 L617,192.38 L616,194.27 L615,196.19 L614,198.13 L613,200.07 L612,202.01 L611,203.96 L610,205.9 L609,207.84 L608,209.78 L607,211.74 L606,213.73 L605,215.74 L604,217.8 L603,219.92 L602,222.07 L601,224.21 L600,226.31 L599,228.35 L598,230.3 L597,232.16 L596,233.96 L595,235.74 L594,237.52 L593,239.33 L592,241.21 L591,243.14 L590,245.11 L589,247.11 L588,249.12 L587,251.13 L586,253.12 L585,255.09 L584,257.03 L583,258.96 L582,260.89 L581,262.8 L580,264.71 L579,266.62 L578,268.53 L577,270.44 L576,272.35 L575,274.27 L574,276.19 L573,278.12 L572,280.04 L571,281.97 L570,283.91 L569,285.85 L568,287.81 L567,289.79 L566,291.77 L565,293.76 L564,295.73 L563,297.68 L562,299.6 L561,301.49 L560,303.34 L559,305.17 L558,306.95 L557,308.71 L556,310.43 L555,312.11 L554,313.77 L553,315.43 L552,317.09 L551,318.74 L550,320.37 L549,321.98 L548,323.56 L547,325.12 L546,326.65 L545,328.15 L544,329.62 L543,331.07 L542,332.53 L541,334.01 L540,335.51 L539,337.03 L538,338.55 L537,340.05 L536,341.54 L535,342.99 L534,344.4 L533,345.76 L532,347.1 L531,348.42 L530,349.72 L529,351 L528,352.26 L527,353.49 L526,354.7 L525,355.88 L524,357.04 L523,358.16 L522,359.25 L521,360.31 L520,361.34 L519,362.34 L518,363.31 L517,364.26 L516,365.2 L515,366.11 L514,367.01 L513,367.89 L512,368.76 L511,369.61 L510,370.45 L509,371.28 L508,372.1 L507,372.91 L506,373.71 L505,374.5 L504,375.29 L503,376.08 L502,376.86 L501,377.63 L500,378.41 L499,379.18 L498,379.95 L497,380.71 L496,381.46 L495,382.21 L494,382.94 L493,383.68 L492,384.4 L491,385.12 L490,385.84 L489,386.54 L488,387.24 L487,387.94 L486,388.63 L485,389.32 L484,390 L483,390.68 L482,391.35 L481,392.02 L480,392.68 L479,393.34 L478,393.99 L477,394.64 L476,395.28 L475,395.92 L474,396.55 L473,397.18 L472,397.81 L471,398.43 L470,399.04 L469,399.66 L468,400.26 L467,400.87 L466,401.47 L465,402.07 L464,402.66 L463,403.25 L462,403.84 L461,404.43 L460,405.01 L459,405.59 L458,406.16 L457,406.74 L456,407.31 L455,407.87 L454,408.43 L453,408.99 L452,409.55 L451,410.1 L450,410.65 L449,411.2 L448,411.74 L447,412.29 L446,412.83 L445,413.36 L444,413.9 L443,414.43 L442,414.96 L441,415.48 L440,416.01 L439,416.53 L438,417.05 L437,417.56 L436,418.07 L435,418.58 L434,419.08 L433,419.58 L432,420.08 L431,420.57 L430,421.07 L429,421.56 L428,422.06 L427,422.55 L426,423.04 L425,423.53 L424,424.03 L423,424.52 L422,425.01 L421,425.51 L420,426.01 L419,426.51 L418,427.02 L417,427.54 L416,428.06 L415,428.58 L414,429.11 L413,429.63 L412,430.16 L411,430.68 L410,431.2 L409,431.72 L408,432.23 L407,432.74 L406,433.24 L405,433.73 L404,434.21 L403,434.68 L402,435.14 L401,435.58 L400,436.01 L399,436.43 L398,436.83 L397,437.21 L396,437.59 L395,437.97 L394,438.35 L393,438.73 L392,439.13 L391,439.53 L390,439.95 L389,440.39 L388,440.83 L387,441.29 L386,441.76 L385,442.24 L384,442.74 L383,443.25 L382,443.78 L381,444.32 L380,444.88 L379,445.47 L378,446.1 L377,446.76 L376,447.44 L375,448.14 L374,448.84 L373,449.55 L372,450.25 L371,450.94 L370,451.61 L369,452.25 L368,452.89 L367,453.51 L366,454.13 L365,454.75 L364,455.38 L363,456.01 L362,456.65 L361,457.3 L360,457.97 L359,458.66 L358,459.35 L357,460.06 L356,460.77 L355,461.49 L354,462.23 L353,462.97 L352,463.73 L351,464.49 L350,465.27 L349,466.06 L348,466.85 L347,467.64 L346,468.45 L345,469.28 L344,470.14 L343,471.03 L342,471.95 L341,472.92 L340,473.94 L339,475.06 L338,476.27 L337,477.58 L336,478.95 L335,480.36 L334,481.79 L333,483.22 L332,484.63 L331,485.99 L330,487.29 L329,488.54 L328,489.77 L327,490.99 L326,492.2 L325,493.39 L324,494.58 L323,495.76 L322,496.94 L321,498.11 L320,499.29 L319,500.49 L318,501.73 L317,502.99 L316,504.26 L315,505.51 L314,506.72 L313,507.89 L312,508.98 L311,509.99 L310,510.9 L309,511.73 L308,512.53 L307,513.31 L306,514.06 L305,514.78 L304,515.48 L303,516.16 L302,516.82 L301,517.45 L300,518.07 L299,518.68 L298,519.27 L297,519.84 L296,520.4 L295,520.95 L294,521.49 L293,522.02 L292,522.54 L291,523.06 L290,523.57 L289,524.07 L288,524.54 L287,525 L286,525.45 L285,525.88 L284,526.3 L283,526.71 L282,527.12 L281,527.53 L280,527.94 L279,528.35 L278,528.78 L277,529.21 L276,529.65 L275,530.11 L274,530.59 L273,531.08 L272,531.63 L271,532.22 L270,532.84 L269,533.43 L268,533.99 L267,534.51 L266,535.02 L265,535.46 L264,535.84 L263,536.19 L262,536.52 L261,536.83 L260,537.12 L259,537.41 L258,537.68 L257,537.94 L256,538.19 L255,538.44 L254,538.68 L253,538.92 L252,539.16 L251,539.41 L250,539.66 L249,539.9 L248,540.14 L247,540.38 L246,540.6 L245,540.82 L244,541.04 L243,541.26 L242,541.47 L241,541.68 L240,541.89 L239,542.1 L238,542.32 L237,542.53 L236,542.75 L235,542.98 L234,543.21 L233,543.45 L232,543.7 L231,543.95 L230,544.22 L229,544.49 L228,544.76 L227,545.04 L226,545.33 L225,545.62 L224,545.92 L223,546.22 L222,546.52 L221,546.83 L220,547.14 L219,547.46 L218,547.79 L217,548.13 L216,548.47 L215,548.82 L214,549.17 L213,549.52 L212,549.86 L211,550.2 L210,550.54 L209,550.86 L208,551.18 L207,551.48 L206,551.78 L205,552.08 L204,552.38 L203,552.68 L202,552.98 L201,553.28 L200,553.57 L199,553.87 L198,554.16 L197,554.45 L196,554.74 L195,555.03 L194,555.31 L193,555.59 L192,555.87 L191,556.14 L190,556.41 L189,556.68 L188,556.94 L187,557.2 L186,557.45 L185,557.7 L184,557.95 L183,558.18 L182,558.42 L181,558.65 L180,558.87 L179,559.1 L178,559.31 L177,559.53 L176,559.74 L175,559.94 L174,560.14 L173,560.34 L172,560.54 L171,560.73 L170,560.91 L169,561.1 L168,561.28 L167,561.47 L166,561.65 L165,561.82 L164,562 L163,562.18 L162,562.35 L161,562.53 L160,562.71 L159,562.88 L158,563.06 L157,563.24 L156,563.42 L155,563.6 L154,563.79 L153,563.97 L152,564.15 L151,564.33 L150,564.51Z" fill="#1f77b4" fill-opacity="0.1" stroke="#1f77b4" stroke-opacity="0.1" stroke-width="1.39" stroke-linejoin="round"/>
<line x1="77.5" x2="785.5" y1="568.5" y2="568.5" stroke="#b0b0b0" stroke-width="1.111"/>
<line x1="77.5" x2="785.5" y1="491.5" y2="491.5" stroke="#b0b0b0" stroke-width="1.111"/>
<line x1="77.5" x2="785.5" y1="413.5" y2="413.5" stroke="#b0b0b0" stroke-width="1.111"/>
<line x1="77.5" x2="785.5" y1="335.5" y2="335.5" stroke="#b0b0b0" stroke-width="1.111"/>
<line x1="77.5" x2="785.5" y1="258.5" y2="258.5" stroke="#b0b0b0" stroke-width="1.111"/>
<line x1="77.5" x2="785.5" y1="180.5" y2="180.5" stroke="#b0b0b0" stroke-width="1.111"/>
<line x1="77.5" x2="785.5" y1="103.5" y2="103.5" stroke="#b0b0b0" stroke-width="1.111"/>
<line x1="77.5" x2="785.5" y1="25.5" y2="25.5" stroke="#b0b0b0" stroke-width="1.111"/>
<path d="M77.96,567.4 L78.96,567.4 L79.96,567.4 L80.96,567.4 L81.96,567.4 L82.96,567.4 L83.96,567.39 L84.96,567.39 L85.96,567.39 L86.96,567.39 L87.96,567.38 L88.96,567.38 L89.96,567.38 L90.96,567.37 L91.96,567.37 L92.96,567.37 L93.96,567.36 L94.96,567.35 L95.96,567.35 L96.96,567.34 L97.96,567.34 L98.96,567.33 L99.96,567.32 L100.96,567.32 L101.96,567.31 L102.96,567.3 L103.96,567.29 L104.96,567.28 L105.96,567.27 L106.96,567.26 L107.96,567.25 L108.96,567.24 L109.96,567.23 L110.96,567.22 L111.96,567.21 L112.96,567.19 L113.96,567.15 L114.96,567.09 L115.96,567.01 L116.96,566.91 L117.96,566.8 L118.96,566.67 L119.96,566.54 L120.96,566.4 L121.96,566.26 L122.96,566.13 L123.96,565.99 L124.96,565.87 L125.96,565.76 L126.96,565.65 L127.96,565.56 L128.96,565.47 L129.96,565.38 L130.96,565.29 L131.96,565.21 L132.96,565.13 L133.96,565.04 L134.96,564.96 L135.96,564.88 L136.96,564.79 L137.96,564.71 L138.96,564.62 L139.96,564.53 L140.96,564.43 L141.96,564.33 L142.96,564.23 L143.96,564.12 L144.96,564 L145.96,563.88 L146.96,563.74 L147.96,563.6 L148.96,563.44 L149.96,563.28 L150.96,563.12 L151.96,562.95 L152.96,562.77 L153.96,562.6 L154.96,562.43 L155.96,562.26 L156.96,562.09 L157.96,561.93 L158.96,561.77 L159.96,561.61 L160.96,561.45 L161.96,561.3 L162.96,561.15 L163.96,561 L164.96,560.84 L165.96,560.69 L166.96,560.54 L167.96,560.38 L168.96,560.23 L169.96,560.07 L170.96,559.9 L171.96,559.74 L172.96,559.57 L173.96,559.4 L174.96,559.22 L175.96,559.04 L176.96,558.85 L177.96,558.66 L178.96,558.46 L179.96,558.25 L180.96,558.04 L181.96,557.83 L182.96,557.61 L183.96,557.39 L184.96,557.16 L185.96,556.93 L186.96,556.69 L187.96,556.45 L188.96,556.2 L189.96,555.95 L190.96,555.7 L191.96,555.44 L192.96,555.18 L193.96,554.91 L194.96,554.65 L195.96,554.37 L196.96,554.1 L197.96,553.82 L198.96,553.54 L199.96,553.25 L200.96,552.96 L201.96,552.67 L202.96,552.37 L203.96,552.08 L204.96,551.78 L205.96,551.47 L206.96,551.17 L207.96,550.86 L208.96,550.53 L209.96,550.18 L210.96,549.83 L211.96,549.46 L212.96,549.08 L213.96,548.7 L214.96,548.32 L215.96,547.94 L216.96,547.57 L217.96,547.21 L218.96,546.85 L219.96,546.51 L220.96,546.19 L221.96,545.86 L222.96,545.54 L223.96,545.22 L224.96,544.91 L225.96,544.6 L226.96,544.3 L227.96,544 L228.96,543.71 L229.96,543.42 L230.96,543.15 L231.96,542.88 L232.96,542.62 L233.96,542.36 L234.96,542.12 L235.96,541.88 L236.96,541.64 L237.96,541.41 L238.96,541.19 L239.96,540.96 L240.96,540.74 L241.96,540.52 L242.96,540.29 L243.96,540.07 L244.96,539.84 L245.96,539.6 L246.96,539.36 L247.96,539.12 L248.96,538.87 L249.96,538.61 L250.96,538.35 L251.96,538.1 L252.96,537.85 L253.96,537.6 L254.96,537.35 L255.96,537.09 L256.96,536.83 L257.96,536.56 L258.96,536.28 L259.96,535.98 L260.96,535.67 L261.96,535.34 L262.96,534.99 L263.96,534.62 L264.96,534.22 L265.96,533.73 L266.96,533.14 L267.96,532.52 L268.96,531.92 L269.96,531.29 L270.96,530.65 L271.96,530.02 L272.96,529.42 L273.96,528.85 L274.96,528.3 L275.96,527.75 L276.96,527.22 L277.96,526.7 L278.96,526.19 L279.96,525.68 L280.96,525.18 L281.96,524.67 L282.96,524.17 L283.96,523.66 L284.96,523.15 L285.96,522.63 L286.96,522.09 L287.96,521.55 L288.96,521 L289.96,520.42 L290.96,519.85 L291.96,519.28 L292.96,518.71 L293.96,518.15 L294.96,517.58 L295.96,517.02 L296.96,516.45 L297.96,515.87 L298.96,515.28 L299.96,514.68 L300.96,514.06 L301.96,513.43 L302.96,512.78 L303.96,512.1 L304.96,511.4 L305.96,510.67 L306.96,509.91 L307.96,509.12 L308.96,508.3 L309.96,507.44 L310.96,506.49 L311.96,505.41 L312.96,504.24 L313.96,502.99 L314.96,501.67 L315.96,500.33 L316.96,498.97 L317.96,497.62 L318.96,496.31 L319.96,495.05 L320.96,493.84 L321.96,492.66 L322.96,491.49 L323.96,490.33 L324.96,489.16 L325.96,487.99 L326.96,486.8 L327.96,485.59 L328.96,484.34 L329.96,483.05 L330.96,481.69 L331.96,480.23 L332.96,478.7 L333.96,477.13 L334.96,475.56 L335.96,474 L336.96,472.5 L337.96,471.06 L338.96,469.74 L339.96,468.54 L340.96,467.46 L341.96,466.44 L342.96,465.48 L343.96,464.55 L344.96,463.67 L345.96,462.81 L346.96,461.98 L347.96,461.16 L348.96,460.35 L349.96,459.53 L350.96,458.72 L351.96,457.93 L352.96,457.15 L353.96,456.38 L354.96,455.63 L355.96,454.89 L356.96,454.16 L357.96,453.44 L358.96,452.73 L359.96,452.03 L360.96,451.34 L361.96,450.68 L362.96,450.04 L363.96,449.4 L364.96,448.78 L365.96,448.15 L366.96,447.51 L367.96,446.87 L368.96,446.21 L369.96,445.53 L370.96,444.81 L371.96,444.06 L372.96,443.29 L373.96,442.5 L374.96,441.7 L375.96,440.92 L376.96,440.14 L377.96,439.4 L378.96,438.69 L379.96,438.03 L380.96,437.4 L381.96,436.81 L382.96,436.23 L383.96,435.67 L384.96,435.13 L385.96,434.6 L386.96,434.08 L387.96,433.56 L388.96,433.04 L389.96,432.52 L390.96,432 L391.96,431.49 L392.96,430.99 L393.96,430.5 L394.96,430 L395.96,429.51 L396.96,429.02 L397.96,428.53 L398.96,428.03 L399.96,427.52 L400.96,427.01 L401.96,426.49 L402.96,425.97 L403.96,425.45 L404.96,424.92 L405.96,424.4 L406.96,423.87 L407.96,423.34 L408.96,422.81 L409.96,422.27 L410.96,421.74 L411.96,421.21 L412.96,420.68 L413.96,420.15 L414.96,419.62 L415.96,419.1 L416.96,418.57 L417.96,418.05 L418.96,417.53 L419.96,417.02 L420.96,416.51 L421.96,416 L422.96,415.5 L423.96,415 L424.96,414.51 L425.96,414.01 L426.96,413.52 L427.96,413.03 L428.96,412.54 L429.96,412.05 L430.96,411.56 L431.96,411.06 L432.96,410.57 L433.96,410.07 L434.96,409.58 L435.96,409.07 L436.96,408.57 L437.96,408.06 L438.96,407.54 L439.96,407.02 L440.96,406.5 L441.96,405.97 L442.96,405.44 L443.96,404.9 L444.96,404.37 L445.96,403.83 L446.96,403.29 L447.96,402.74 L448.96,402.2 L449.96,401.65 L450.96,401.1 L451.96,400.54 L452.96,399.98 L453.96,399.43 L454.96,398.86 L455.96,398.3 L456.96,397.73 L457.96,397.17 L458.96,396.6 L459.96,396.02 L460.96,395.45 L461.96,394.88 L462.96,394.3 L463.96,393.72 L464.96,393.15 L465.96,392.57 L466.96,391.99 L467.96,391.4 L468.96,390.82 L469.96,390.23 L470.96,389.63 L471.96,389.03 L472.96,388.43 L473.96,387.82 L474.96,387.2 L475.96,386.58 L476.96,385.95 L477.96,385.32 L478.96,384.68 L479.96,384.03 L480.96,383.37 L481.96,382.71 L482.96,382.04 L483.96,381.36 L484.96,380.68 L485.96,379.99 L486.96,379.3 L487.96,378.59 L488.96,377.89 L489.96,377.17 L490.96,376.45 L491.96,375.72 L492.96,374.99 L493.96,374.24 L494.96,373.49 L495.96,372.74 L496.96,371.97 L497.96,371.2 L498.96,370.42 L499.96,369.63 L500.96,368.84 L501.96,368.04 L502.96,367.24 L503.96,366.44 L504.96,365.63 L505.96,364.81 L506.96,363.98 L507.96,363.15 L508.96,362.3 L509.96,361.45 L510.96,360.58 L511.96,359.7 L512.96,358.8 L513.96,357.89 L514.96,356.96 L515.96,356.02 L516.96,355.05 L517.96,354.07 L518.96,353.07 L519.96,352.04 L520.96,350.99 L521.96,349.91 L522.96,348.8 L523.96,347.66 L524.96,346.49 L525.96,345.29 L526.96,344.07 L527.96,342.82 L528.96,341.54 L529.96,340.23 L530.96,338.9 L531.96,337.54 L532.96,336.16 L533.96,334.74 L534.96,333.25 L535.96,331.7 L536.96,330.09 L537.96,328.44 L538.96,326.76 L539.96,325.07 L540.96,323.38 L541.96,321.71 L542.96,320.06 L543.96,318.45 L544.96,316.83 L545.96,315.21 L546.96,313.6 L547.96,311.98 L548.96,310.37 L549.96,308.74 L550.96,307.11 L551.96,305.48 L552.96,303.84 L553.96,302.22 L554.96,300.6 L555.96,298.99 L556.96,297.36 L557.96,295.71 L558.96,294.02 L559.96,292.3 L560.96,290.53 L561.96,288.68 L562.96,286.77 L563.96,284.79 L564.96,282.76 L565.96,280.72 L566.96,278.66 L567.96,276.61 L568.96,274.58 L569.96,272.57 L570.96,270.57 L571.96,268.56 L572.96,266.56 L573.96,264.54 L574.96,262.53 L575.96,260.51 L576.96,258.48 L577.96,256.45 L578.96,254.42 L579.96,252.38 L580.96,250.34 L581.96,248.29 L582.96,246.23 L583.96,244.16 L584.96,242.08 L585.96,239.97 L586.96,237.82 L587.96,235.64 L588.96,233.47 L589.96,231.31 L590.96,229.19 L591.96,227.13 L592.96,225.16 L593.96,223.28 L594.96,221.46 L595.96,219.65 L596.96,217.81 L597.96,215.88 L598.96,213.84 L599.96,211.66 L600.96,209.39 L601.96,207.08 L602.96,204.77 L603.96,202.49 L604.96,200.3 L605.96,198.19 L606.96,196.12 L607.96,194.09 L608.96,192.07 L609.96,190.09 L610.96,188.11 L611.96,186.15 L612.96,184.2 L613.96,182.24 L614.96,180.28 L615.96,178.33 L616.96,176.4 L617.96,174.48 L618.96,172.57 L619.96,170.66 L620.96,168.76 L621.96,166.85 L622.96,164.93 L623.96,163 L624.96,161.06 L625.96,159.09 L626.96,157.07 L627.96,155.04 L628.96,153.03 L629.96,151.08 L630.96,149.17 L631.96,147.25 L632.96,145.35 L633.96,143.49 L634.96,141.69 L635.96,139.96 L636.96,138.33 L637.96,136.81 L638.96,135.37 L639.96,133.99 L640.96,132.67 L641.96,131.4 L642.96,130.17 L643.96,128.97 L644.96,127.8 L645.96,126.65 L646.96,125.54 L647.96,124.45 L648.96,123.4 L649.96,122.38 L650.96,121.38 L651.96,120.41 L652.96,119.47 L653.96,118.55 L654.96,117.64 L655.96,116.76 L656.96,115.91 L657.96,115.08 L658.96,114.29 L659.96,113.53 L660.96,112.8 L661.96,112.1 L662.96,111.43 L663.96,110.78 L664.96,110.15 L665.96,109.53 L666.96,108.92 L667.96,108.33 L668.96,107.75 L669.96,107.19 L670.96,106.64 L671.96,106.1 L672.96,105.57 L673.96,105.04 L674.96,104.52 L675.96,104.01 L676.96,103.5 L677.96,103.01 L678.96,102.52 L679.96,102.02 L680.96,101.52 L681.96,101.01 L682.96,100.51 L683.96,100 L684.96,99.49 L685.96,98.99 L686.96,98.49 L687.96,97.99 L688.96,97.5 L689.96,97.02 L690.96,96.54 L691.96,96.06 L692.96,95.59 L693.96,95.12 L694.96,94.65 L695.96,94.19 L696.96,93.74 L697.96,93.29 L698.96,92.85 L699.96,92.42 L700.96,91.99 L701.96,91.57 L702.96,91.16 L703.96,90.74 L704.96,90.34 L705.96,89.94 L706.96,89.55 L707.96,89.16 L708.96,88.79 L709.96,88.41 L710.96,88.05 L711.96,87.7 L712.96,87.35 L713.96,87.01 L714.96,86.68 L715.96,86.35 L716.96,86.02 L717.96,85.68 L718.96,85.35 L719.96,85.01 L720.96,84.67 L721.96,84.31 L722.96,83.95 L723.96,83.59 L724.96,83.23 L725.96,82.87 L726.96,82.53 L727.96,82.2 L728.96,81.9 L729.96,81.61 L730.96,81.35 L731.96,81.09 L732.96,80.85 L733.96,80.62 L734.96,80.4 L735.96,80.2 L737,80" fill="none" stroke="#1f77b4" stroke-width="2.08" stroke-linejoin="round"/>
<path d="M737,98.1 L779.9,98.1 L779.9,570.5 M783.6,570.5 L783.6,98.1 L787.46,98.1" fill="none" stroke="#1f77b4" stroke-width="2.08" stroke-linejoin="miter"/>
<path d="M77.96,568.4 L79.69,568.4 L81.41,568.4 L83.14,568.4 L84.86,568.39 L86.59,568.39 L88.31,568.38 L90.04,568.38 L91.76,568.37 L93.49,568.36 L95.22,568.35 L96.94,568.34 L98.67,568.33 L100.39,568.32 L102.12,568.31 L103.84,568.29 L105.57,568.28 L107.3,568.26 L109.02,568.24 L110.75,568.22 L112.47,568.2 L114.2,568.14 L115.92,568.01 L117.65,567.83 L119.37,567.62 L121.1,567.38 L122.83,567.15 L124.55,566.92 L126.28,566.72 L128,566.56 L129.73,566.39 L131.45,566.31 L133.18,566.15 L134.9,566.01 L136.63,565.84 L138.36,565.6 L140.08,565.41 L141.81,565.34 L143.53,565.24 L145.26,565.03 L146.98,564.82 L148.71,564.52 L150.44,564.06 L152.16,563.72 L153.89,563.6 L155.61,563.43 L157.34,563.11 L159.06,562.84 L160.79,562.52 L162.51,562.09 L164.24,561.78 L165.97,561.68 L167.69,561.52 L169.42,561.24 L171.14,560.97 L172.87,560.63 L174.59,560.14 L176.32,559.76 L178.04,559.63 L179.77,559.42 L181.5,559.04 L183.22,558.68 L184.95,558.22 L186.67,557.56 L188.4,557.06 L190.12,556.9 L191.85,556.64 L193.58,556.16 L195.3,555.71 L197.03,555.15 L198.75,554.36 L200.48,553.78 L202.2,553.58 L203.93,553.28 L205.65,552.73 L207.38,552.21 L209.11,551.57 L210.83,550.57 L212.56,549.81 L214.28,549.56 L216.01,549.17 L217.73,548.48 L219.46,547.87 L221.18,547.2 L222.91,546.29 L224.64,545.66 L226.36,545.46 L228.09,545.15 L229.81,544.62 L231.54,544.14 L233.26,543.6 L234.99,542.91 L236.72,542.44 L238.44,542.29 L240.17,542.06 L241.89,541.65 L243.62,541.27 L245.34,540.81 L247.07,540.14 L248.79,539.62 L250.52,539.45 L252.25,539.19 L253.97,538.73 L255.7,538.3 L257.42,537.78 L259.15,536.98 L260.87,536.33 L262.6,536.1 L264.32,535.73 L266.05,534.96 L267.78,533.98 L269.5,532.74 L271.23,530.96 L272.95,529.79 L274.68,529.42 L276.4,528.86 L278.13,527.89 L279.86,527.02 L281.58,525.99 L283.31,524.57 L285.03,523.53 L286.76,523.17 L288.48,522.62 L290.21,521.59 L291.93,520.61 L293.66,519.46 L295.39,517.87 L297.11,516.71 L298.84,516.32 L300.56,515.7 L302.29,514.56 L304.01,513.45 L305.74,512.02 L307.46,509.85 L309.19,508.12 L310.92,507.47 L312.64,506.37 L314.37,504.15 L316.09,501.91 L317.82,499.15 L319.54,495.55 L321.27,493.08 L323,492.26 L324.72,491 L326.45,488.77 L328.17,486.75 L329.9,484.4 L331.62,481.28 L333.35,479.09 L335.07,478.38 L336.8,477.31 L338.53,475.45 L340.25,473.8 L341.98,471.9 L343.7,469.4 L345.43,467.7 L347.15,467.16 L348.88,466.34 L350.6,464.95 L352.33,463.73 L354.06,462.35 L355.78,460.56 L357.51,459.33 L359.23,458.92 L360.96,458.32 L362.68,457.28 L364.41,456.38 L366.14,455.32 L367.86,453.78 L369.59,452.55 L371.31,452.1 L373.04,451.38 L374.76,450.01 L376.49,448.72 L378.21,447.23 L379.94,445.42 L381.67,444.31 L383.39,443.96 L385.12,443.43 L386.84,442.51 L388.57,441.66 L390.29,440.6 L392.02,439.06 L393.74,437.93 L395.47,437.56 L397.2,436.99 L398.92,435.97 L400.65,435.06 L402.37,433.98 L404.1,432.51 L405.82,431.46 L407.55,431.12 L409.28,430.59 L411,429.65 L412.73,428.8 L414.45,427.77 L416.18,426.37 L417.9,425.38 L419.63,425.05 L421.35,424.56 L423.08,423.67 L424.81,422.88 L426.53,421.93 L428.26,420.64 L429.98,419.72 L431.71,419.41 L433.43,418.94 L435.16,418.09 L436.88,417.29 L438.61,416.31 L440.34,414.92 L442.06,413.9 L443.79,413.55 L445.51,413.03 L447.24,412.07 L448.96,411.18 L450.69,410.1 L452.42,408.59 L454.14,407.49 L455.87,407.13 L457.59,406.57 L459.32,405.57 L461.04,404.64 L462.77,403.52 L464.49,401.96 L466.22,400.84 L467.95,400.47 L469.67,399.9 L471.4,398.86 L473.12,397.89 L474.85,396.71 L476.57,395.06 L478.3,393.85 L480.02,393.45 L481.75,392.83 L483.48,391.71 L485.2,390.66 L486.93,389.39 L488.65,387.61 L490.38,386.31 L492.1,385.88 L493.83,385.2 L495.56,383.97 L497.28,382.81 L499.01,381.39 L500.73,379.37 L502.46,377.87 L504.18,377.36 L505.91,376.57 L507.63,375.1 L509.36,373.67 L511.09,371.87 L512.81,369.14 L514.54,367.05 L516.26,366.34 L517.99,365.25 L519.71,363.27 L521.44,361.44 L523.16,359.22 L524.89,356.08 L526.62,353.74 L528.34,352.95 L530.07,351.71 L531.79,349.43 L533.52,347.26 L535.24,344.58 L536.97,340.71 L538.7,337.8 L540.42,336.8 L542.15,335.25 L543.87,332.27 L545.6,329.34 L547.32,325.7 L549.05,320.71 L550.77,317.23 L552.5,316.07 L554.23,314.3 L555.95,311.13 L557.68,308.22 L559.4,304.75 L561.13,300.1 L562.85,296.82 L564.58,295.72 L566.3,294.02 L568.03,290.89 L569.76,287.86 L571.48,284.06 L573.21,278.68 L574.93,274.85 L576.66,273.6 L578.38,271.69 L580.11,268.25 L581.84,265.1 L583.56,261.33 L585.29,256.18 L587.01,252.51 L588.74,251.3 L590.46,249.45 L592.19,246.15 L593.91,243.14 L595.64,239.59 L597.37,234.74 L599.09,231.33 L600.82,230.2 L602.54,228.5 L604.27,225.47 L605.99,222.92 L607.72,219.79 L609.44,217.5 L611.17,214.2 L612.9,206.2 L614.62,202.5 L616.35,198.85 L618.07,195.73 L619.8,192.38 L621.52,187.76 L623.25,184.5 L624.98,183.42 L626.7,181.78 L628.43,178.75 L630.15,175.89 L631.88,172.58 L633.6,168.53 L635.33,165.85 L637.05,164.97 L638.78,163.61 L640.51,161.07 L642.23,158.51 L643.96,155.18 L645.68,150.84 L647.41,147.91 L649.13,147 L650.86,145.69 L652.58,143.64 L654.31,141.96 L656.04,140.11 L657.76,137.67 L659.49,135.84 L661.21,135.22 L662.94,134.26 L664.66,132.56 L666.39,131.03 L668.12,129.31 L669.84,127.06 L671.57,125.55 L673.29,125.08 L675.02,124.4 L676.74,123.29 L678.47,122.37 L680.19,121.33 L681.92,119.92 L683.65,118.94 L685.37,118.62 L687.1,118.12 L688.82,117.24 L690.55,116.41 L692.27,115.38 L694,113.93 L695.72,112.9 L697.45,112.57 L699.18,112.08 L700.9,111.24 L702.63,110.52 L704.35,109.7 L706.08,108.61 L707.8,107.83 L709.53,107.56 L711.26,107.15 L712.98,106.4 L714.71,105.69 L716.43,104.85 L718.16,103.76 L719.88,103.06 L721.61,102.84 L723.33,102.52 L725.06,101.96 L726.79,101.46 L728.51,100.88 L730.24,100.11 L731.96,99.59 L733.69,99.42 L735.41,99.16 L737.14,98.7 L738.86,98.27 L740.59,97.75 L742.32,97.04 L744.04,96.54 L745.77,96.38 L747.49,96.13 L749.22,95.7 L750.94,95.32 L752.67,94.87 L754.4,94.27 L756.12,93.86 L757.85,93.72 L759.57,93.51 L761.3,93.15 L763.02,92.82 L764.75,92.43 L766.47,91.9 L768.2,91.53 L769.93,91.4 L771.65,91.22 L773.38,90.89 L775.1,90.59 L776.83,90.24 L778.55,89.77 L780.28,89.44 L782,89.33 L783.73,89.16 L785.46,88.79" fill="none" stroke="#ff7f0e" stroke-width="3" stroke-linejoin="round" stroke-linecap="round"/>
<path d="M77.96,568.4h0M79.69,568.4h0M81.41,568.4h0M83.14,568.4h0M84.86,568.39h0M86.59,568.39h0M88.31,568.38h0M90.04,568.38h0M91.76,568.37h0M93.49,568.36h0M95.22,568.35h0M96.94,568.34h0M98.67,568.33h0M100.39,568.32h0M102.12,568.31h0M103.84,568.29h0M105.57,568.28h0M107.3,568.26h0M109.02,568.24h0M110.75,568.22h0M112.47,568.2h0M114.2,568.14h0M115.92,568.01h0M117.65,567.83h0M119.37,567.62h0M121.1,567.38h0M122.83,567.15h0M124.55,566.92h0M126.28,566.72h0M128,566.56h0M129.73,566.39h0M131.45,566.31h0M133.18,566.15h0M134.9,566.01h0M136.63,565.84h0M138.36,565.6h0M140.08,565.41h0M141.81,565.34h0M143.53,565.24h0M145.26,565.03h0M146.98,564.82h0M148.71,564.52h0M150.44,564.06h0M152.16,563.72h0M153.89,563.6h0M155.61,563.43h0M157.34,563.11h0M159.06,562.84h0M160.79,562.52h0M162.51,562.09h0M164.24,561.78h0M165.97,561.68h0M167.69,561.52h0M169.42,561.24h0M171.14,560.97h0M172.87,560.63h0M174.59,560.14h0M176.32,559.76h0M178.04,559.63h0M179.77,559.42h0M181.5,559.04h0M183.22,558.68h0M184.95,558.22h0M186.67,557.56h0M188.4,557.06h0M190.12,556.9h0M191.85,556.64h0M193.58,556.16h0M195.3,555.71h0M197.03,555.15h0M198.75,554.36h0M200.48,553.78h0M202.2,553.58h0M203.93,553.28h0M205.65,552.73h0M207.38,552.21h0M209.11,551.57h0M210.83,550.57h0M212.56,549.81h0M214.28,549.56h0M216.01,549.17h0M217.73,548.48h0M219.46,547.87h0M221.18,547.2h0M222.91,546.29h0M224.64,545.66h0M226.36,545.46h0M228.09,545.15h0M229.81,544.62h0M231.54,544.14h0M233.26,543.6h0M234.99,542.91h0M236.72,542.44h0M238.44,542.29h0M240.17,542.06h0M241.89,541.65h0M243.62,541.27h0M245.34,540.81h0M247.07,540.14h0M248.79,539.62h0M250.52,539.45h0M252.25,539.19h0M253.97,538.73h0M255.7,538.3h0M257.42,537.78h0M259.15,536.98h0M260.87,536.33h0M262.6,536.1h0M264.32,535.73h0M266.05,534.96h0M267.78,533.98h0M269.5,532.74h0M271.23,530.96h0M272.95,529.79h0M274.68,529.42h0M276.4,528.86h0M278.13,527.89h0M279.86,527.02h0M281.58,525.99h0M283.31,524.57h0M285.03,523.53h0M286.76,523.17h0M288.48,522.62h0M290.21,521.59h0M291.93,520.61h0M293.66,519.46h0M295.39,517.87h0M297.11,516.71h0M298.84,516.32h0M300.56,515.7h0M302.29,514.56h0M304.01,513.45h0M305.74,512.02h0M307.46,509.85h0M309.19,508.12h0M310.92,507.47h0M312.64,506.37h0M314.37,504.15h0M316.09,501.91h0M317.82,499.15h0M319.54,495.55h0M321.27,493.08h0M323,492.26h0M324.72,491h0M326.45,488.77h0M328.17,486.75h0M329.9,484.4h0M331.62,481.28h0M333.35,479.09h0M335.07,478.38h0M336.8,477.31h0M338.53,475.45h0M340.25,473.8h0M341.98,471.9h0M343.7,469.4h0M345.43,467.7h0M347.15,467.16h0M348.88,466.34h0M350.6,464.95h0M352.33,463.73h0M354.06,462.35h0M355.78,460.56h0M357.51,459.33h0M359.23,458.92h0M360.96,458.32h0M362.68,457.28h0M364.41,456.38h0M366.14,455.32h0M367.86,453.78h0M369.59,452.55h0M371.31,452.1h0M373.04,451.38h0M374.76,450.01h0M376.49,448.72h0M378.21,447.23h0M379.94,445.42h0M381.67,444.31h0M383.39,443.96h0M385.12,443.43h0M386.84,442.51h0M388.57,441.66h0M390.29,440.6h0M392.02,439.06h0M393.74,437.93h0M395.47,437.56h0M397.2,436.99h0M398.92,435.97h0M400.65,435.06h0M402.37,433.98h0M404.1,432.51h0M405.82,431.46h0M407.55,431.12h0M409.28,430.59h0M411,429.65h0M412.73,428.8h0M414.45,427.77h0M416.18,426.37h0M417.9,425.38h0M419.63,425.05h0M421.35,424.56h0M423.08,423.67h0M424.81,422.88h0M426.53,421.93h0M428.26,420.64h0M429.98,419.72h0M431.71,419.41h0M433.43,418.94h0M435.16,418.09h0M436.88,417.29h0M438.61,416.31h0M440.34,414.92h0M442.06,413.9h0M443.79,413.55h0M445.51,413.03h0M447.24,412.07h0M448.96,411.18h0M450.69,410.1h0M452.42,408.59h0M454.14,407.49h0M455.87,407.13h0M457.59,406.57h0M459.32,405.57h0M461.04,404.64h0M462.77,403.52h0M464.49,401.96h0M466.22,400.84h0M467.95,400.47h0M469.67,399.9h0M471.4,398.86h0M473.12,397.89h0M474.85,396.71h0M476.57,395.06h0M478.3,393.85h0M480.02,393.45h0M481.75,392.83h0M483.48,391.71h0M485.2,390.66h0M486.93,389.39h0M488.65,387.61h0M490.38,386.31h0M492.1,385.88h0M493.83,385.2h0M495.56,383.97h0M497.28,382.81h0M499.01,381.39h0M500.73,379.37h0M502.46,377.87h0M504.18,377.36h0M505.91,376.57h0M507.63,375.1h0M509.36,373.67h0M511.09,371.87h0M512.81,369.14h0M514.54,367.05h0M516.26,366.34h0M517.99,365.25h0M519.71,363.27h0M521.44,361.44h0M523.16,359.22h0M524.89,356.08h0M526.62,353.74h0M528.34,352.95h0M530.07,351.71h0M531.79,349.43h0M533.52,347.26h0M535.24,344.58h0M536.97,340.71h0M538.7,337.8h0M540.42,336.8h0M542.15,335.25h0M543.87,332.27h0M545.6,329.34h0M547.32,325.7h0M549.05,320.71h0M550.77,317.23h0M552.5,316.07h0M554.23,314.3h0M555.95,311.13h0M557.68,308.22h0M559.4,304.75h0M561.13,300.1h0M562.85,296.82h0M564.58,295.72h0M566.3,294.02h0M568.03,290.89h0M569.76,287.86h0M571.48,284.06h0M573.21,278.68h0M574.93,274.85h0M576.66,273.6h0M578.38,271.69h0M580.11,268.25h0M581.84,265.1h0M583.56,261.33h0M585.29,256.18h0M587.01,252.51h0M588.74,251.3h0M590.46,249.45h0M592.19,246.15h0M593.91,243.14h0M595.64,239.59h0M597.37,234.74h0M599.09,231.33h0M600.82,230.2h0M602.54,228.5h0M604.27,225.47h0M605.99,222.92h0M607.72,219.79h0M609.44,217.5h0M611.17,214.2h0M612.9,206.2h0M614.62,202.5h0M616.35,198.85h0M618.07,195.73h0M619.8,192.38h0M621.52,187.76h0M623.25,184.5h0M624.98,183.42h0M626.7,181.78h0M628.43,178.75h0M630.15,175.89h0M631.88,172.58h0M633.6,168.53h0M635.33,165.85h0M637.05,164.97h0M638.78,163.61h0M640.51,161.07h0M642.23,158.51h0M643.96,155.18h0M645.68,150.84h0M647.41,147.91h0M649.13,147h0M650.86,145.69h0M652.58,143.64h0M654.31,141.96h0M656.04,140.11h0M657.76,137.67h0M659.49,135.84h0M661.21,135.22h0M662.94,134.26h0M664.66,132.56h0M666.39,131.03h0M668.12,129.31h0M669.84,127.06h0M671.57,125.55h0M673.29,125.08h0M675.02,124.4h0M676.74,123.29h0M678.47,122.37h0M680.19,121.33h0M681.92,119.92h0M683.65,118.94h0M685.37,118.62h0M687.1,118.12h0M688.82,117.24h0M690.55,116.41h0M692.27,115.38h0M694,113.93h0M695.72,112.9h0M697.45,112.57h0M699.18,112.08h0M700.9,111.24h0M702.63,110.52h0M704.35,109.7h0M706.08,108.61h0M707.8,107.83h0M709.53,107.56h0M711.26,107.15h0M712.98,106.4h0M714.71,105.69h0M716.43,104.85h0M718.16,103.76h0M719.88,103.06h0M721.61,102.84h0M723.33,102.52h0M725.06,101.96h0M726.79,101.46h0M728.51,100.88h0M730.24,100.11h0M731.96,99.59h0M733.69,99.42h0M735.41,99.16h0M737.14,98.7h0M738.86,98.27h0M740.59,97.75h0M742.32,97.04h0M744.04,96.54h0M745.77,96.38h0M747.49,96.13h0M749.22,95.7h0M750.94,95.32h0M752.67,94.87h0M754.4,94.27h0M756.12,93.86h0M757.85,93.72h0M759.57,93.51h0M761.3,93.15h0M763.02,92.82h0M764.75,92.43h0M766.47,91.9h0M768.2,91.53h0M769.93,91.4h0M771.65,91.22h0M773.38,90.89h0M775.1,90.59h0M776.83,90.24h0M778.55,89.77h0M780.28,89.44h0M782,89.33h0M783.73,89.16h0M785.46,88.79h0" fill="none" stroke="#ff7f0e" stroke-width="10.1" stroke-linecap="round"/>
<line x1="737" x2="737" y1="569.2" y2="15.5" stroke="#1f77b4" stroke-opacity="0.5" stroke-width="2.08" stroke-dasharray="7.71 3.33"/>
</g>
<rect x="77.5" y="15.5" width="708" height="553" fill="none" stroke="#000" stroke-width="1.111"/>
<line x1="72.64" x2="77.5" y1="568.5" y2="568.5" stroke="#000" stroke-width="1.111"/>
<text x="68.65" y="573.6" font-size="14.4" text-anchor="end" textLength="9.19" lengthAdjust="spacingAndGlyphs">0</text>
<line x1="72.64" x2="77.5" y1="491.5" y2="491.5" stroke="#000" stroke-width="1.111"/>
<text x="66.6" y="496.6" font-size="14.4" text-anchor="end" textLength="43.09" lengthAdjust="spacingAndGlyphs">50000</text>
<line x1="72.64" x2="77.5" y1="413.5" y2="413.5" stroke="#000" stroke-width="1.111"/>
<text x="66.6" y="418.6" font-size="14.4" text-anchor="end" textLength="52.36" lengthAdjust="spacingAndGlyphs">100000</text>
<line x1="72.64" x2="77.5" y1="335.5" y2="335.5" stroke="#000" stroke-width="1.111"/>
<text x="66.6" y="340.6" font-size="14.4" text-anchor="end" textLength="52.36" lengthAdjust="spacingAndGlyphs">150000</text>
<line x1="72.64" x2="77.5" y1="258.5" y2="258.5" stroke="#000" stroke-width="1.111"/>
<text x="66.6" y="263.6" font-size="14.4" text-anchor="end" textLength="52.36" lengthAdjust="spacingAndGlyphs">200000</text>
<line x1="72.64" x2="77.5" y1="180.5" y2="180.5" stroke="#000" stroke-width="1.111"/>
<text x="66.6" y="185.6" font-size="14.4" text-anchor="end" textLength="52.36" lengthAdjust="spacingAndGlyphs">250000</text>
<line x1="72.64" x2="77.5" y1="103.5" y2="103.5" stroke="#000" stroke-width="1.111"/>
<text x="66.6" y="108.6" font-size="14.4" text-anchor="end" textLength="52.36" lengthAdjust="spacingAndGlyphs">300000</text>
<line x1="72.64" x2="77.5" y1="25.5" y2="25.5" stroke="#000" stroke-width="1.111"/>
<text x="66.6" y="30.6" font-size="14.4" text-anchor="end" textLength="52.36" lengthAdjust="spacingAndGlyphs">350000</text>
<line x1="77.5" x2="77.5" y1="568.5" y2="573.36" stroke="#000" stroke-width="1.111"/>
<line x1="785.5" x2="785.5" y1="568.5" y2="573.36" stroke="#000" stroke-width="1.111"/>
<line x1="126.5" x2="126.5" y1="568.5" y2="573.36" stroke="#000" stroke-width="1.111"/>
<line x1="178.5" x2="178.5" y1="568.5" y2="573.36" stroke="#000" stroke-width="1.111"/>
<line x1="231.5" x2="231.5" y1="568.5" y2="573.36" stroke="#000" stroke-width="1.111"/>
<line x1="283.5" x2="283.5" y1="568.5" y2="573.36" stroke="#000" stroke-width="1.111"/>
<line x1="336.5" x2="336.5" y1="568.5" y2="573.36" stroke="#000" stroke-width="1.111"/>
<line x1="390.5" x2="390.5" y1="568.5" y2="573.36" stroke="#000" stroke-width="1.111"/>
<line x1="442.5" x2="442.5" y1="568.5" y2="573.36" stroke="#000" stroke-width="1.111"/>
<line x1="495.5" x2="495.5" y1="568.5" y2="573.36" stroke="#000" stroke-width="1.111"/>
<line x1="547.5" x2="547.5" y1="568.5" y2="573.36" stroke="#000" stroke-width="1.111"/>
<line x1="600.5" x2="600.5" y1="568.5" y2="573.36" stroke="#000" stroke-width="1.111"/>
<line x1="654.5" x2="654.5" y1="568.5" y2="573.36" stroke="#000" stroke-width="1.111"/>
<line x1="702.5" x2="702.5" y1="568.5" y2="573.36" stroke="#000" stroke-width="1.111"/>
<line x1="756.5" x2="756.5" y1="568.5" y2="573.36" stroke="#000" stroke-width="1.111"/>
<line x1="86.5" x2="86.5" y1="568.5" y2="571.28" stroke="#000" stroke-width="0.83"/>
<line x1="98.5" x2="98.5" y1="568.5" y2="571.28" stroke="#000" stroke-width="0.83"/>
<line x1="110.5" x2="110.5" y1="568.5" y2="571.28" stroke="#000" stroke-width="0.83"/>
<line x1="122.5" x2="122.5" y1="568.5" y2="571.28" stroke="#000" stroke-width="0.83"/>
<line x1="134.5" x2="134.5" y1="568.5" y2="571.28" stroke="#000" stroke-width="0.83"/>
<line x1="146.5" x2="146.5" y1="568.5" y2="571.28" stroke="#000" stroke-width="0.83"/>
<line x1="159.5" x2="159.5" y1="568.5" y2="571.28" stroke="#000" stroke-width="0.83"/>
<line x1="171.5" x2="171.5" y1="568.5" y2="571.28" stroke="#000" stroke-width="0.83"/>
<line x1="183.5" x2="183.5" y1="568.5" y2="571.28" stroke="#000" stroke-width="0.83"/>
<line x1="195.5" x2="195.5" y1="568.5" y2="571.28" stroke="#000" stroke-width="0.83"/>
<line x1="207.5" x2="207.5" y1="568.5" y2="571.28" stroke="#000" stroke-width="0.83"/>
<line x1="219.5" x2="219.5" y1="568.5" y2="571.28" stroke="#000" stroke-width="0.83"/>
<line x1="231.5" x2="231.5" y1="568.5" y2="571.28" stroke="#000" stroke-width="0.83"/>
<line x1="243.5" x2="243.5" y1="568.5" y2="571.28" stroke="#000" stroke-width="0.83"/>
<line x1="255.5" x2="255.5" y1="568.5" y2="571.28" stroke="#000" stroke-width="0.83"/>
<line x1="267.5" x2="267.5" y1="568.5" y2="571.28" stroke="#000" stroke-width="0.83"/>
<line x1="279.5" x2="279.5" y1="568.5" y2="571.28" stroke="#000" stroke-width="0.83"/>
<line x1="291.5" x2="291.5" y1="568.5" y2="571.28" stroke="#000" stroke-width="0.83"/>
<line x1="304.5" x2="304.5" y1="568.5" y2="571.28" stroke="#000" stroke-width="0.83"/>
<line x1="316.5" x2="316.5" y1="568.5" y2="571.28" stroke="#000" stroke-width="0.83"/>
<line x1="328.5" x2="328.5" y1="568.5" y2="571.28" stroke="#000" stroke-width="0.83"/>
<line x1="340.5" x2="340.5" y1="568.5" y2="571.28" stroke="#000" stroke-width="0.83"/>
<line x1="352.5" x2="352.5" y1="568.5" y2="571.28" stroke="#000" stroke-width="0.83"/>
<line x1="364.5" x2="364.5" y1="568.5" y2="571.28" stroke="#000" stroke-width="0.83"/>
<line x1="376.5" x2="376.5" y1="568.5" y2="571.28" stroke="#000" stroke-width="0.83"/>
<line x1="388.5" x2="388.5" y1="568.5" y2="571.28" stroke="#000" stroke-width="0.83"/>
<line x1="400.5" x2="400.5" y1="568.5" y2="571.28" stroke="#000" stroke-width="0.83"/>
<line x1="412.5" x2="412.5" y1="568.5" y2="571.28" stroke="#000" stroke-width="0.83"/>
<line x1="424.5" x2="424.5" y1="568.5" y2="571.28" stroke="#000" stroke-width="0.83"/>
<line x1="436.5" x2="436.5" y1="568.5" y2="571.28" stroke="#000" stroke-width="0.83"/>
<line x1="448.5" x2="448.5" y1="568.5" y2="571.28" stroke="#000" stroke-width="0.83"/>
<line x1="461.5" x2="461.5" y1="568.5" y2="571.28" stroke="#000" stroke-width="0.83"/>
<line x1="473.5" x2="473.5" y1="568.5" y2="571.28" stroke="#000" stroke-width="0.83"/>
<line x1="485.5" x2="485.5" y1="568.5" y2="571.28" stroke="#000" stroke-width="0.83"/>
<line x1="497.5" x2="497.5" y1="568.5" y2="571.28" stroke="#000" stroke-width="0.83"/>
<line x1="509.5" x2="509.5" y1="568.5" y2="571.28" stroke="#000" stroke-width="0.83"/>
<line x1="521.5" x2="521.5" y1="568.5" y2="571.28" stroke="#000" stroke-width="0.83"/>
<line x1="533.5" x2="533.5" y1="568.5" y2="571.28" stroke="#000" stroke-width="0.83"/>
<line x1="545.5" x2="545.5" y1="568.5" y2="571.28" stroke="#000" stroke-width="0.83"/>
<line x1="557.5" x2="557.5" y1="568.5" y2="571.28" stroke="#000" stroke-width="0.83"/>
<line x1="569.5" x2="569.5" y1="568.5" y2="571.28" stroke="#000" stroke-width="0.83"/>
<line x1="581.5" x2="581.5" y1="568.5" y2="571.28" stroke="#000" stroke-width="0.83"/>
<line x1="593.5" x2="593.5" y1="568.5" y2="571.28" stroke="#000" stroke-width="0.83"/>
<line x1="605.5" x2="605.5" y1="568.5" y2="571.28" stroke="#000" stroke-width="0.83"/>
<line x1="618.5" x2="618.5" y1="568.5" y2="571.28" stroke="#000" stroke-width="0.83"/>
<line x1="630.5" x2="630.5" y1="568.5" y2="571.28" stroke="#000" stroke-width="0.83"/>
<line x1="642.5" x2="642.5" y1="568.5" y2="571.28" stroke="#000" stroke-width="0.83"/>
<line x1="654.5" x2="654.5" y1="568.5" y2="571.28" stroke="#000" stroke-width="0.83"/>
<line x1="666.5" x2="666.5" y1="568.5" y2="571.28" stroke="#000" stroke-width="0.83"/>
<line x1="678.5" x2="678.5" y1="568.5" y2="571.28" stroke="#000" stroke-width="0.83"/>
<line x1="690.5" x2="690.5" y1="568.5" y2="571.28" stroke="#000" stroke-width="0.83"/>
<line x1="702.5" x2="702.5" y1="568.5" y2="571.28" stroke="#000" stroke-width="0.83"/>
<line x1="714.5" x2="714.5" y1="568.5" y2="571.28" stroke="#000" stroke-width="0.83"/>
<line x1="726.5" x2="726.5" y1="568.5" y2="571.28" stroke="#000" stroke-width="0.83"/>
<line x1="738.5" x2="738.5" y1="568.5" y2="571.28" stroke="#000" stroke-width="0.83"/>
<line x1="750.5" x2="750.5" y1="568.5" y2="571.28" stroke="#000" stroke-width="0.83"/>
<line x1="763.5" x2="763.5" y1="568.5" y2="571.28" stroke="#000" stroke-width="0.83"/>
<line x1="775.5" x2="775.5" y1="568.5" y2="571.28" stroke="#000" stroke-width="0.83"/>
<rect x="84.5" y="22.5" width="121" height="25" rx="2.8" ry="2.8" fill="#fff" fill-opacity="0.8" stroke="#ccc" stroke-opacity="0.8" stroke-width="1.15"/>
<line x1="90.1" x2="117.9" y1="34" y2="34" stroke="#1f77b4" stroke-width="2.0" stroke-linecap="square"/>
<text x="129.83" y="38.4" font-size="14.4" text-anchor="start" textLength="69.09" lengthAdjust="spacingAndGlyphs">confirmed</text>
<clipPath id="c2"><rect x="77.5" y="592.5" width="708" height="553"/></clipPath>
<g clip-path="url(#c2)">
<path d="M150,1133 L151,1132.38 L152,1131.75 L153,1131.12 L154,1130.49 L155,1129.85 L156,1129.21 L157,1128.57 L158,1127.93 L159,1127.28 L160,1126.63 L161,1125.98 L162,1125.32 L163,1124.66 L164,1124 L165,1123.34 L166,1122.67 L167,1122.01 L168,1121.34 L169,1120.66 L170,1119.99 L171,1119.31 L172,1118.63 L173,1117.95 L174,1117.26 L175,1116.57 L176,1115.88 L177,1115.19 L178,1114.5 L179,1113.8 L180,1113.1 L181,1112.4 L182,1111.7 L183,1110.99 L184,1110.29 L185,1109.58 L186,1108.86 L187,1108.15 L188,1107.44 L189,1106.72 L190,1106 L191,1105.27 L192,1104.53 L193,1103.78 L194,1103.01 L195,1102.24 L196,1101.45 L197,1100.66 L198,1099.86 L199,1099.05 L200,1098.24 L201,1097.43 L202,1096.62 L203,1095.8 L204,1094.99 L205,1094.18 L206,1093.37 L207,1092.56 L208,1091.76 L209,1090.96 L210,1090.18 L211,1089.4 L212,1088.63 L213,1087.88 L214,1087.13 L215,1086.4 L216,1085.69 L217,1084.99 L218,1084.31 L219,1083.64 L220,1083 L221,1082.37 L222,1081.75 L223,1081.15 L224,1080.55 L225,1079.96 L226,1079.39 L227,1078.82 L228,1078.25 L229,1077.7 L230,1077.15 L231,1076.61 L232,1076.08 L233,1075.55 L234,1075.03 L235,1074.52 L236,1074.01 L237,1073.5 L238,1073 L239,1072.5 L240,1072 L241,1071.51 L242,1071.03 L243,1070.55 L244,1070.08 L245,1069.62 L246,1069.17 L247,1068.72 L248,1068.27 L249,1067.83 L250,1067.39 L251,1066.95 L252,1066.51 L253,1066.08 L254,1065.64 L255,1065.21 L256,1064.77 L257,1064.33 L258,1063.89 L259,1063.45 L260,1063 L261,1062.55 L262,1062.11 L263,1061.67 L264,1061.23 L265,1060.79 L266,1060.36 L267,1059.92 L268,1059.49 L269,1059.05 L270,1058.61 L271,1058.17 L272,1057.73 L273,1057.28 L274,1056.83 L275,1056.38 L276,1055.92 L277,1055.45 L278,1054.97 L279,1054.49 L280,1054 L281,1053.5 L282,1053 L283,1052.5 L284,1051.99 L285,1051.48 L286,1050.97 L287,1050.45 L288,1049.92 L289,1049.39 L290,1048.85 L291,1048.3 L292,1047.75 L293,1047.19 L294,1046.62 L295,1046.04 L296,1045.45 L297,1044.85 L298,1044.25 L299,1043.63 L300,1043 L301,1042.36 L302,1041.71 L303,1041.05 L304,1040.37 L305,1039.69 L306,1038.99 L307,1038.28 L308,1037.56 L309,1036.83 L310,1036.09 L311,1035.34 L312,1034.57 L313,1033.79 L314,1033 L315,1032.2 L316,1031.38 L317,1030.56 L318,1029.72 L319,1028.86 L320,1028 L321,1027.13 L322,1026.27 L323,1025.4 L324,1024.51 L325,1023.58 L326,1022.6 L327,1021.57 L328,1020.47 L329,1019.28 L330,1018 L331,1016.52 L332,1014.78 L333,1012.84 L334,1010.75 L335,1008.56 L336,1006.32 L337,1004.09 L338,1001.93 L339,999.88 L340,998 L341,996.25 L342,994.54 L343,992.87 L344,991.24 L345,989.64 L346,988.08 L347,986.53 L348,985.01 L349,983.5 L350,982 L351,980.51 L352,979.03 L353,977.56 L354,976.1 L355,974.67 L356,973.27 L357,971.89 L358,970.56 L359,969.26 L360,968 L361,966.8 L362,965.64 L363,964.52 L364,963.43 L365,962.37 L366,961.31 L367,960.25 L368,959.19 L369,958.11 L370,957 L371,955.88 L372,954.75 L373,953.62 L374,952.48 L375,951.34 L376,950.19 L377,949.04 L378,947.87 L379,946.69 L380,945.5 L381,944.27 L382,943 L383,941.7 L384,940.38 L385,939.06 L386,937.76 L387,936.48 L388,935.26 L389,934.09 L390,933 L391,931.97 L392,930.95 L393,929.97 L394,929.02 L395,928.09 L396,927.2 L397,926.34 L398,925.52 L399,924.74 L400,924 L401,923.3 L402,922.65 L403,922.02 L404,921.43 L405,920.85 L406,920.28 L407,919.72 L408,919.16 L409,918.59 L410,918 L411,917.4 L412,916.81 L413,916.23 L414,915.64 L415,915.06 L416,914.47 L417,913.87 L418,913.26 L419,912.64 L420,912 L421,911.34 L422,910.65 L423,909.95 L424,909.23 L425,908.5 L426,907.77 L427,907.05 L428,906.35 L429,905.66 L430,905 L431,904.36 L432,903.72 L433,903.1 L434,902.48 L435,901.87 L436,901.28 L437,900.69 L438,900.12 L439,899.55 L440,899 L441,898.47 L442,897.96 L443,897.46 L444,896.98 L445,896.5 L446,896.02 L447,895.54 L448,895.04 L449,894.53 L450,894 L451,893.44 L452,892.85 L453,892.25 L454,891.63 L455,891 L456,890.37 L457,889.75 L458,889.15 L459,888.56 L460,888 L461,887.46 L462,886.94 L463,886.43 L464,885.93 L465,885.44 L466,884.96 L467,884.47 L468,883.99 L469,883.5 L470,883 L471,882.5 L472,882 L473,881.5 L474,881 L475,880.5 L476,880 L477,879.5 L478,879 L479,878.5 L480,878 L481,877.5 L482,877 L483,876.5 L484,876 L485,875.5 L486,875 L487,874.5 L488,874 L489,873.5 L490,873 L491,872.5 L492,872.01 L493,871.53 L494,871.04 L495,870.56 L496,870.07 L497,869.57 L498,869.06 L499,868.54 L500,868 L501,867.45 L502,866.9 L503,866.33 L504,865.76 L505,865.18 L506,864.58 L507,863.96 L508,863.33 L509,862.67 L510,862 L511,861.29 L512,860.55 L513,859.77 L514,858.96 L515,858.14 L516,857.31 L517,856.47 L518,855.64 L519,854.81 L520,854 L521,853.21 L522,852.43 L523,851.66 L524,850.89 L525,850.11 L526,849.33 L527,848.53 L528,847.71 L529,846.87 L530,846 L531,845.1 L532,844.17 L533,843.23 L534,842.25 L535,841.26 L536,840.25 L537,839.21 L538,838.16 L539,837.09 L540,836 L541,834.88 L542,833.73 L543,832.55 L544,831.34 L545,830.11 L546,828.86 L547,827.6 L548,826.33 L549,825.05 L550,823.78 L551,822.51 L552,821.25 L553,820 L554,818.76 L555,817.53 L556,816.31 L557,815.09 L558,813.87 L559,812.64 L560,811.42 L561,810.19 L562,808.96 L563,807.71 L564,806.46 L565,805.2 L566,803.92 L567,802.63 L568,801.33 L569,800 L570,798.66 L571,797.31 L572,795.94 L573,794.57 L574,793.18 L575,791.78 L576,790.36 L577,788.93 L578,787.48 L579,786.02 L580,784.54 L581,783.05 L582,781.53 L583,780 L584,778.44 L585,776.86 L586,775.25 L587,773.62 L588,771.97 L589,770.3 L590,768.61 L591,766.91 L592,765.19 L593,763.47 L594,761.74 L595,760 L596,758.24 L597,756.44 L598,754.62 L599,752.78 L600,750.93 L601,749.07 L602,747.22 L603,745.38 L604,743.56 L605,741.76 L606,740 L607,738.28 L608,736.58 L609,734.92 L610,733.27 L611,731.63 L612,730 L613,728.37 L614,726.73 L615,725.08 L616,723.42 L617,721.72 L618,720 L619,718.25 L620,716.47 L621,714.67 L622,712.85 L623,711.03 L624,709.19 L625,707.34 L626,705.5 L627,703.66 L628,701.82 L629,700 L630,698.17 L631,696.33 L632,694.48 L633,692.62 L634,690.76 L635,688.92 L636,687.08 L637,685.27 L638,683.48 L639,681.72 L640,680 L641,678.31 L642,676.64 L643,674.99 L644,673.35 L645,671.74 L646,670.15 L647,668.58 L648,667.03 L649,665.5 L650,664 L651,662.51 L652,661.05 L653,659.59 L654,658.16 L655,656.75 L656,655.36 L657,653.98 L658,652.63 L659,651.3 L660,650 L661,648.72 L662,647.45 L663,646.2 L664,644.96 L665,643.75 L666,642.55 L667,641.38 L668,640.23 L669,639.1 L670,638 L671,636.92 L672,635.85 L673,634.8 L674,633.76 L675,632.75 L676,631.75 L677,630.78 L678,629.83 L679,628.9 L680,628 L681,627.12 L682,626.27 L683,625.44 L684,624.62 L685,623.82 L686,623.04 L687,622.27 L688,621.5 L689,620.75 L690,620 L691,619.26 L692,618.52 L693,617.8 L694,617.08 L695,616.37 L696,615.68 L697,614.99 L698,614.32 L699,613.65 L700,613 L701,612.36 L702,611.74 L703,611.13 L704,610.53 L705,609.94 L706,609.36 L707,608.77 L708,608.19 L709,607.6 L710,607 L711,606.4 L712,605.78 L713,605.17 L714,604.55 L715,603.93 L716,603.32 L717,602.72 L718,602.13 L719,601.56 L720,601 L721,600.45 L722,599.91 L723,599.37 L724,598.84 L725,598.32 L726,597.82 L727,597.33 L728,596.86 L729,596.42 L730,596 L731,595.61 L732,595.23 L733,594.87 L734,594.52 L735,594.2 L736,593.89 L737,593.6 L737,698 L736,698.26 L735,698.53 L734,698.81 L733,699.1 L732,699.39 L731,699.69 L730,700 L729,700.31 L728,700.63 L727,700.96 L726,701.29 L725,701.63 L724,701.98 L723,702.34 L722,702.71 L721,703.1 L720,703.5 L719,703.92 L718,704.36 L717,704.81 L716,705.28 L715,705.76 L714,706.27 L713,706.8 L712,707.34 L711,707.91 L710,708.5 L709,709.11 L708,709.76 L707,710.43 L706,711.13 L705,711.87 L704,712.63 L703,713.43 L702,714.25 L701,715.11 L700,716 L699,716.97 L698,718.05 L697,719.2 L696,720.4 L695,721.61 L694,722.8 L693,723.94 L692,725 L691,725.98 L690,726.92 L689,727.82 L688,728.71 L687,729.57 L686,730.43 L685,731.3 L684,732.17 L683,733.07 L682,734 L681,734.95 L680,735.9 L679,736.87 L678,737.84 L677,738.81 L676,739.8 L675,740.8 L674,741.82 L673,742.84 L672,743.88 L671,744.93 L670,746 L669,747.09 L668,748.2 L667,749.34 L666,750.49 L665,751.66 L664,752.84 L663,754.03 L662,755.22 L661,756.42 L660,757.62 L659,758.81 L658,760 L657,761.18 L656,762.37 L655,763.56 L654,764.75 L653,765.94 L652,767.14 L651,768.34 L650,769.55 L649,770.77 L648,772 L647,773.23 L646,774.45 L645,775.67 L644,776.9 L643,778.13 L642,779.37 L641,780.62 L640,781.89 L639,783.18 L638,784.49 L637,785.83 L636,787.2 L635,788.61 L634,790.05 L633,791.53 L632,793.03 L631,794.56 L630,796.12 L629,797.69 L628,799.27 L627,800.86 L626,802.47 L625,804.07 L624,805.67 L623,807.27 L622,808.86 L621,810.44 L620,812 L619,813.56 L618,815.15 L617,816.74 L616,818.35 L615,819.97 L614,821.59 L613,823.21 L612,824.83 L611,826.44 L610,828.04 L609,829.62 L608,831.19 L607,832.73 L606,834.25 L605,835.74 L604,837.2 L603,838.62 L602,840 L601,841.34 L600,842.64 L599,843.92 L598,845.17 L597,846.39 L596,847.59 L595,848.78 L594,849.96 L593,851.13 L592,852.3 L591,853.46 L590,854.63 L589,855.81 L588,857 L587,858.2 L586,859.43 L585,860.67 L584,861.94 L583,863.22 L582,864.51 L581,865.81 L580,867.1 L579,868.39 L578,869.67 L577,870.94 L576,872.18 L575,873.41 L574,874.6 L573,875.77 L572,876.89 L571,877.98 L570,879.01 L569,880 L568,880.93 L567,881.82 L566,882.67 L565,883.49 L564,884.28 L563,885.05 L562,885.81 L561,886.56 L560,887.32 L559,888.08 L558,888.87 L557,889.67 L556,890.5 L555,891.36 L554,892.23 L553,893.12 L552,894.02 L551,894.93 L550,895.84 L549,896.76 L548,897.67 L547,898.58 L546,899.48 L545,900.38 L544,901.26 L543,902.12 L542,902.96 L541,903.79 L540,904.61 L539,905.42 L538,906.22 L537,907.01 L536,907.81 L535,908.6 L534,909.41 L533,910.22 L532,911.05 L531,911.89 L530,912.75 L529,913.65 L528,914.59 L527,915.57 L526,916.56 L525,917.55 L524,918.53 L523,919.48 L522,920.38 L521,921.23 L520,922 L519,922.7 L518,923.36 L517,923.99 L516,924.58 L515,925.16 L514,925.72 L513,926.28 L512,926.84 L511,927.41 L510,928 L509,928.6 L508,929.22 L507,929.83 L506,930.45 L505,931.07 L504,931.68 L503,932.28 L502,932.87 L501,933.44 L500,934 L499,934.54 L498,935.06 L497,935.57 L496,936.07 L495,936.56 L494,937.04 L493,937.53 L492,938.01 L491,938.5 L490,939 L489,939.5 L488,940 L487,940.5 L486,941 L485,941.5 L484,942 L483,942.5 L482,943 L481,943.5 L480,944 L479,944.5 L478,945 L477,945.5 L476,946 L475,946.5 L474,947 L473,947.5 L472,948 L471,948.5 L470,949 L469,949.5 L468,950 L467,950.5 L466,951 L465,951.5 L464,952 L463,952.5 L462,953 L461,953.5 L460,954 L459,954.5 L458,955 L457,955.5 L456,956 L455,956.5 L454,957 L453,957.5 L452,958 L451,958.5 L450,959 L449,959.5 L448,960 L447,960.5 L446,961 L445,961.5 L444,962 L443,962.5 L442,963 L441,963.5 L440,964 L439,964.5 L438,964.99 L437,965.47 L436,965.96 L435,966.44 L434,966.93 L433,967.43 L432,967.94 L431,968.46 L430,969 L429,969.55 L428,970.12 L427,970.69 L426,971.28 L425,971.87 L424,972.48 L423,973.1 L422,973.72 L421,974.36 L420,975 L419,975.66 L418,976.33 L417,977.02 L416,977.72 L415,978.43 L414,979.15 L413,979.87 L412,980.58 L411,981.3 L410,982 L409,982.69 L408,983.37 L407,984.04 L406,984.72 L405,985.39 L404,986.07 L403,986.77 L402,987.49 L401,988.23 L400,989 L399,989.81 L398,990.66 L397,991.55 L396,992.46 L395,993.39 L394,994.33 L393,995.27 L392,996.2 L391,997.11 L390,998 L389,998.87 L388,999.75 L387,1000.62 L386,1001.49 L385,1002.35 L384,1003.2 L383,1004.04 L382,1004.88 L381,1005.7 L380,1006.5 L379,1007.3 L378,1008.09 L377,1008.87 L376,1009.65 L375,1010.41 L374,1011.16 L373,1011.9 L372,1012.62 L371,1013.32 L370,1014 L369,1014.64 L368,1015.23 L367,1015.79 L366,1016.33 L365,1016.86 L364,1017.41 L363,1017.98 L362,1018.6 L361,1019.26 L360,1020 L359,1020.84 L358,1021.78 L357,1022.81 L356,1023.91 L355,1025.07 L354,1026.26 L353,1027.46 L352,1028.67 L351,1029.85 L350,1031 L349,1032.13 L348,1033.27 L347,1034.42 L346,1035.57 L345,1036.73 L344,1037.88 L343,1039.04 L342,1040.18 L341,1041.32 L340,1042.44 L339,1043.56 L338,1044.69 L337,1045.82 L336,1046.94 L335,1048.06 L334,1049.16 L333,1050.24 L332,1051.3 L331,1052.33 L330,1053.33 L329,1054.31 L328,1055.28 L327,1056.23 L326,1057.17 L325,1058.09 L324,1058.99 L323,1059.85 L322,1060.68 L321,1061.47 L320,1062.22 L319,1062.94 L318,1063.63 L317,1064.31 L316,1064.97 L315,1065.62 L314,1066.25 L313,1066.87 L312,1067.47 L311,1068.07 L310,1068.65 L309,1069.22 L308,1069.78 L307,1070.33 L306,1070.87 L305,1071.4 L304,1071.93 L303,1072.46 L302,1072.97 L301,1073.49 L300,1074 L299,1074.51 L298,1075 L297,1075.49 L296,1075.97 L295,1076.44 L294,1076.91 L293,1077.37 L292,1077.82 L291,1078.27 L290,1078.72 L289,1079.16 L288,1079.59 L287,1080.02 L286,1080.45 L285,1080.88 L284,1081.31 L283,1081.73 L282,1082.15 L281,1082.58 L280,1083 L279,1083.42 L278,1083.84 L277,1084.25 L276,1084.66 L275,1085.07 L274,1085.47 L273,1085.87 L272,1086.27 L271,1086.66 L270,1087.06 L269,1087.45 L268,1087.85 L267,1088.24 L266,1088.63 L265,1089.02 L264,1089.42 L263,1089.81 L262,1090.2 L261,1090.6 L260,1091 L259,1091.4 L258,1091.8 L257,1092.19 L256,1092.58 L255,1092.98 L254,1093.37 L253,1093.76 L252,1094.15 L251,1094.54 L250,1094.93 L249,1095.33 L248,1095.72 L247,1096.12 L246,1096.52 L245,1096.93 L244,1097.33 L243,1097.74 L242,1098.16 L241,1098.58 L240,1099 L239,1099.43 L238,1099.86 L237,1100.3 L236,1100.74 L235,1101.19 L234,1101.64 L233,1102.1 L232,1102.56 L231,1103.03 L230,1103.5 L229,1103.97 L228,1104.45 L227,1104.93 L226,1105.42 L225,1105.91 L224,1106.41 L223,1106.92 L222,1107.43 L221,1107.96 L220,1108.5 L219,1109.06 L218,1109.63 L217,1110.22 L216,1110.82 L215,1111.43 L214,1112.05 L213,1112.67 L212,1113.28 L211,1113.9 L210,1114.5 L209,1115.1 L208,1115.71 L207,1116.32 L206,1116.93 L205,1117.53 L204,1118.14 L203,1118.74 L202,1119.33 L201,1119.92 L200,1120.5 L199,1121.08 L198,1121.65 L197,1122.23 L196,1122.8 L195,1123.36 L194,1123.92 L193,1124.46 L192,1124.99 L191,1125.5 L190,1126 L189,1126.49 L188,1126.97 L187,1127.44 L186,1127.9 L185,1128.35 L184,1128.76 L183,1129.15 L182,1129.5 L181,1129.82 L180,1130.11 L179,1130.37 L178,1130.62 L177,1130.86 L176,1131.1 L175,1131.33 L174,1131.56 L173,1131.8 L172,1132.05 L171,1132.31 L170,1132.6 L169,1132.9 L168,1133.21 L167,1133.53 L166,1133.86 L165,1134.19 L164,1134.53 L163,1134.87 L162,1135.22 L161,1135.58 L160,1135.95 L159,1136.32 L158,1136.7 L157,1137.09 L156,1137.49 L155,1137.89 L154,1138.3 L153,1138.71 L152,1139.13 L151,1139.56 L150,1140Z" fill="#1f77b4" fill-opacity="0.1" stroke="#1f77b4" stroke-opacity="0.1" stroke-width="1.39" stroke-linejoin="round"/>
<path d="M150,1134.12 L151,1133.58 L152,1133.04 L153,1132.49 L154,1131.94 L155,1131.38 L156,1130.82 L157,1130.26 L158,1129.7 L159,1129.14 L160,1128.58 L161,1128.02 L162,1127.47 L163,1126.92 L164,1126.37 L165,1125.82 L166,1125.27 L167,1124.71 L168,1124.15 L169,1123.58 L170,1123 L171,1122.42 L172,1121.84 L173,1121.26 L174,1120.68 L175,1120.09 L176,1119.5 L177,1118.89 L178,1118.28 L179,1117.65 L180,1117 L181,1116.34 L182,1115.65 L183,1114.9 L184,1114.07 L185,1113.22 L186,1112.41 L187,1111.66 L188,1110.92 L189,1110.2 L190,1109.5 L191,1108.81 L192,1108.12 L193,1107.43 L194,1106.74 L195,1106.05 L196,1105.35 L197,1104.65 L198,1103.95 L199,1103.23 L200,1102.5 L201,1101.76 L202,1101.02 L203,1100.27 L204,1099.52 L205,1098.77 L206,1098.01 L207,1097.26 L208,1096.51 L209,1095.76 L210,1095.02 L211,1094.27 L212,1093.53 L213,1092.8 L214,1092.06 L215,1091.34 L216,1090.62 L217,1089.92 L218,1089.23 L219,1088.56 L220,1087.9 L221,1087.25 L222,1086.61 L223,1085.97 L224,1085.33 L225,1084.71 L226,1084.1 L227,1083.5 L228,1082.92 L229,1082.36 L230,1081.82 L231,1081.31 L232,1080.81 L233,1080.32 L234,1079.84 L235,1079.38 L236,1078.91 L237,1078.46 L238,1078 L239,1077.54 L240,1077.08 L241,1076.61 L242,1076.14 L243,1075.68 L244,1075.22 L245,1074.77 L246,1074.31 L247,1073.87 L248,1073.43 L249,1073 L250,1072.57 L251,1072.16 L252,1071.75 L253,1071.34 L254,1070.94 L255,1070.54 L256,1070.14 L257,1069.74 L258,1069.33 L259,1068.92 L260,1068.5 L261,1068.07 L262,1067.64 L263,1067.21 L264,1066.78 L265,1066.35 L266,1065.91 L267,1065.48 L268,1065.05 L269,1064.61 L270,1064.17 L271,1063.73 L272,1063.29 L273,1062.84 L274,1062.39 L275,1061.94 L276,1061.48 L277,1061.02 L278,1060.55 L279,1060.08 L280,1059.6 L281,1059.12 L282,1058.65 L283,1058.18 L284,1057.7 L285,1057.23 L286,1056.74 L287,1056.25 L288,1055.74 L289,1055.22 L290,1054.68 L291,1054.11 L292,1053.51 L293,1052.89 L294,1052.24 L295,1051.58 L296,1050.91 L297,1050.24 L298,1049.57 L299,1048.9 L300,1048.25 L301,1047.61 L302,1046.97 L303,1046.33 L304,1045.68 L305,1045.04 L306,1044.39 L307,1043.72 L308,1043.05 L309,1042.36 L310,1041.66 L311,1040.94 L312,1040.21 L313,1039.48 L314,1038.73 L315,1037.97 L316,1037.19 L317,1036.4 L318,1035.6 L319,1034.78 L320,1033.95 L321,1033.11 L322,1032.26 L323,1031.4 L324,1030.51 L325,1029.6 L326,1028.65 L327,1027.65 L328,1026.6 L329,1025.48 L330,1024.3 L331,1022.98 L332,1021.49 L333,1019.85 L334,1018.11 L335,1016.3 L336,1014.45 L337,1012.61 L338,1010.79 L339,1009.05 L340,1007.41 L341,1005.85 L342,1004.31 L343,1002.8 L344,1001.31 L345,999.83 L346,998.36 L347,996.91 L348,995.47 L349,994.04 L350,992.61 L351,991.18 L352,989.76 L353,988.34 L354,986.93 L355,985.53 L356,984.15 L357,982.79 L358,981.45 L359,980.14 L360,978.85 L361,977.6 L362,976.38 L363,975.19 L364,974.01 L365,972.86 L366,971.7 L367,970.56 L368,969.41 L369,968.25 L370,967.07 L371,965.89 L372,964.71 L373,963.53 L374,962.35 L375,961.17 L376,959.99 L377,958.81 L378,957.63 L379,956.45 L380,955.26 L381,954.04 L382,952.77 L383,951.48 L384,950.17 L385,948.88 L386,947.61 L387,946.39 L388,945.23 L389,944.16 L390,943.19 L391,942.31 L392,941.47 L393,940.66 L394,939.9 L395,939.16 L396,938.44 L397,937.75 L398,937.07 L399,936.39 L400,935.73 L401,935.06 L402,934.4 L403,933.74 L404,933.08 L405,932.42 L406,931.77 L407,931.12 L408,930.47 L409,929.82 L410,929.16 L411,928.51 L412,927.86 L413,927.21 L414,926.57 L415,925.92 L416,925.27 L417,924.62 L418,923.98 L419,923.33 L420,922.67 L421,922.02 L422,921.35 L423,920.68 L424,920 L425,919.32 L426,918.65 L427,917.98 L428,917.31 L429,916.66 L430,916.02 L431,915.4 L432,914.77 L433,914.15 L434,913.54 L435,912.93 L436,912.33 L437,911.74 L438,911.16 L439,910.59 L440,910.02 L441,909.48 L442,908.95 L443,908.43 L444,907.92 L445,907.41 L446,906.91 L447,906.4 L448,905.88 L449,905.36 L450,904.81 L451,904.25 L452,903.67 L453,903.08 L454,902.48 L455,901.87 L456,901.26 L457,900.66 L458,900.08 L459,899.5 L460,898.95 L461,898.42 L462,897.9 L463,897.39 L464,896.89 L465,896.4 L466,895.91 L467,895.43 L468,894.95 L469,894.47 L470,893.99 L471,893.51 L472,893.05 L473,892.58 L474,892.12 L475,891.67 L476,891.21 L477,890.75 L478,890.29 L479,889.82 L480,889.34 L481,888.97 L482,888.59 L483,888.21 L484,887.82 L485,887.44 L486,887.04 L487,886.65 L488,886.25 L489,885.86 L490,885.46 L491,885.07 L492,884.67 L493,884.27 L494,883.88 L495,883.48 L496,883.07 L497,882.66 L498,882.25 L499,881.84 L500,881.42 L501,880.99 L502,880.58 L503,880.16 L504,879.74 L505,879.31 L506,878.87 L507,878.14 L508,877.39 L509,876.61 L510,875.82 L511,874.99 L512,874.14 L513,873.26 L514,872.36 L515,871.45 L516,870.52 L517,869.59 L518,868.64 L519,867.7 L520,866.77 L521,865.84 L522,864.91 L523,863.98 L524,863.05 L525,862.11 L526,861.16 L527,860.19 L528,859.21 L529,858.2 L530,857.53 L531,856.83 L532,856.11 L533,855.38 L534,854.61 L535,853.81 L536,852.99 L537,852.15 L538,851.28 L539,850.39 L540,849.48 L541,848.55 L542,847.59 L543,846.61 L544,845.61 L545,844.6 L546,843.58 L547,842.55 L548,841.53 L549,840.51 L550,839.5 L551,838.5 L552,837.51 L553,836.55 L554,835.61 L555,834.7 L556,833.55 L557,832.41 L558,831.28 L559,830.15 L560,829.03 L561,827.9 L562,826.77 L563,825.63 L564,824.49 L565,823.33 L566,822.15 L567,820.96 L568,819.75 L569,818.52 L570,817.26 L571,815.98 L572,814.68 L573,813.35 L574,812 L575,810.63 L576,809.22 L577,807.8 L578,806.35 L579,804.88 L580,803.39 L581,801.87 L582,800.33 L583,798.77 L584,797.19 L585,795.58 L586,793.94 L587,792.29 L588,790.61 L589,788.91 L590,787.2 L591,785.52 L592,783.83 L593,782.13 L594,780.42 L595,778.71 L596,776.98 L597,775.22 L598,773.45 L599,771.66 L600,769.87 L601,768.07 L602,766.28 L603,764.49 L604,762.72 L605,760.97 L606,759.24 L607,757.54 L608,755.86 L609,754.2 L610,752.54 L611,750.88 L612,749.21 L613,747.55 L614,745.87 L615,744.18 L616,742.47 L617,740.75 L618,739 L619,737.23 L620,735.44 L621,733.63 L622,731.81 L623,729.99 L624,728.15 L625,726.31 L626,724.47 L627,722.63 L628,720.8 L629,718.97 L630,717.14 L631,715.3 L632,713.52 L633,711.73 L634,709.95 L635,708.18 L636,706.42 L637,704.68 L638,702.95 L639,701.25 L640,699.58 L641,697.93 L642,696.31 L643,694.7 L644,693.1 L645,691.53 L646,689.98 L647,688.45 L648,686.95 L649,685.46 L650,684 L651,682.53 L652,681.08 L653,679.63 L654,678.2 L655,676.79 L656,675.39 L657,674 L658,672.64 L659,671.3 L660,669.97 L661,668.67 L662,667.39 L663,666.13 L664,664.89 L665,663.67 L666,662.48 L667,661.32 L668,660.18 L669,659.08 L670,658 L671,656.87 L672,655.76 L673,654.67 L674,653.6 L675,652.56 L676,651.53 L677,650.52 L678,649.53 L679,648.56 L680,647.62 L681,646.69 L682,645.78 L683,644.9 L684,644.02 L685,643.16 L686,642.31 L687,641.47 L688,640.64 L689,639.82 L690,639 L691,638.21 L692,637.44 L693,636.67 L694,635.91 L695,635.16 L696,634.41 L697,633.68 L698,632.96 L699,632.25 L700,631.55 L701,630.86 L702,630.18 L703,629.51 L704,628.86 L705,628.21 L706,627.56 L707,626.92 L708,626.28 L709,625.64 L710,625 L711,624.39 L712,623.78 L713,623.17 L714,622.56 L715,621.94 L716,621.34 L717,620.74 L718,620.15 L719,619.57 L720,619.01 L721,618.46 L722,617.91 L723,617.37 L724,616.84 L725,616.32 L726,615.82 L727,615.33 L728,614.87 L729,614.42 L730,614 L731,613.38 L732,612.77 L733,612.18 L734,611.61 L735,611.06 L736,610.52 L737,610 L737,679 L736,679.33 L735,679.66 L734,680.01 L733,680.37 L732,680.73 L731,681.11 L730,681.5 L729,681.91 L728,682.34 L727,682.77 L726,683.21 L725,683.66 L724,684.13 L723,684.6 L722,685.09 L721,685.6 L720,686.11 L719,686.64 L718,687.18 L717,687.74 L716,688.31 L715,688.89 L714,689.48 L713,690.09 L712,690.71 L711,691.35 L710,692 L709,692.6 L708,693.22 L707,693.86 L706,694.53 L705,695.22 L704,695.93 L703,696.66 L702,697.42 L701,698.2 L700,699 L699,699.63 L698,700.32 L697,701.06 L696,701.83 L695,702.61 L694,703.37 L693,704.1 L692,704.77 L691,705.4 L690,706 L689,706.92 L688,707.83 L687,708.73 L686,709.63 L685,710.54 L684,711.46 L683,712.39 L682,713.34 L681,714.32 L680,715.3 L679,716.22 L678,717.15 L677,718.09 L676,719.05 L675,720.02 L674,721 L673,721.89 L672,722.79 L671,723.72 L670,724.66 L669,725.63 L668,726.63 L667,727.66 L666,728.71 L665,729.79 L664,730.89 L663,732 L662,733.27 L661,734.55 L660,735.84 L659,737.13 L658,738.43 L657,739.73 L656,741.04 L655,742.36 L654,743.68 L653,745 L652,746.75 L651,748.5 L650,750.26 L649,752.02 L648,753.79 L647,755.56 L646,757.34 L645,759.11 L644,760.6 L643,761.82 L642,763.05 L641,764.29 L640,765.56 L639,766.84 L638,768.15 L637,769.48 L636,770.84 L635,772.23 L634,773.64 L633,775.09 L632,776.55 L631,778.04 L630,779.54 L629,781.05 L628,782.58 L627,784.12 L626,785.66 L625,787.2 L624,788.89 L623,790.58 L622,792.26 L621,793.93 L620,795.59 L619,797.24 L618,798.91 L617,800.58 L616,802.25 L615,803.93 L614,805.6 L613,807.27 L612,808.93 L611,810.58 L610,812.22 L609,813.84 L608,815.44 L607,817.03 L606,818.6 L605,820.16 L604,821.7 L603,823.22 L602,824.72 L601,826.19 L600,827.64 L599,829.07 L598,830.48 L597,831.87 L596,833.25 L595,834.62 L594,835.97 L593,837.32 L592,838.66 L591,840 L590,841.21 L589,842.41 L588,843.63 L587,844.84 L586,846.07 L585,847.3 L584,848.55 L583,849.79 L582,851.03 L581,852.26 L580,853.48 L579,854.69 L578,855.88 L577,857.05 L576,858.2 L575,859.58 L574,860.93 L573,862.25 L572,863.52 L571,864.76 L570,865.95 L569,867.1 L568,868.2 L567,869.27 L566,870.3 L565,871.3 L564,872.28 L563,873.24 L562,874.19 L561,875.14 L560,876.09 L559,877.04 L558,878.01 L557,878.99 L556,880 L555,880.85 L554,881.73 L553,882.62 L552,883.52 L551,884.45 L550,885.38 L549,886.32 L548,887.26 L547,888.21 L546,889.16 L545,890.09 L544,891.03 L543,891.94 L542,892.85 L541,893.74 L540,894.62 L539,895.48 L538,896.34 L537,897.18 L536,898.02 L535,898.85 L534,899.67 L533,900.48 L532,901.29 L531,902.1 L530,902.92 L529,903.76 L528,904.62 L527,905.5 L526,906.39 L525,907.28 L524,908.15 L523,908.99 L522,909.81 L521,910.57 L520,911.28 L519,911.95 L518,912.58 L517,913.18 L516,913.77 L515,914.33 L514,914.88 L513,915.43 L512,915.98 L511,916.53 L510,917.09 L509,917.65 L508,918.22 L507,918.77 L506,919.33 L505,919.88 L504,920.42 L503,920.96 L502,921.49 L501,922.02 L500,922.54 L499,923.05 L498,923.55 L497,924.05 L496,924.54 L495,925.03 L494,925.52 L493,926.01 L492,926.49 L491,926.97 L490,927.46 L489,927.94 L488,928.43 L487,928.91 L486,929.4 L485,929.88 L484,930.36 L483,930.84 L482,931.31 L481,931.78 L480,932.24 L479,932.72 L478,933.19 L477,933.65 L476,934.11 L475,934.57 L474,935.02 L473,935.48 L472,935.95 L471,936.41 L470,936.89 L469,937.37 L468,937.86 L467,938.35 L466,938.84 L465,939.34 L464,939.84 L463,940.34 L462,940.84 L461,941.35 L460,941.86 L459,942.37 L458,942.88 L457,943.4 L456,943.92 L455,944.44 L454,944.97 L453,945.49 L452,946.02 L451,946.54 L450,947.06 L449,947.59 L448,948.1 L447,948.62 L446,949.14 L445,949.66 L444,950.18 L443,950.7 L442,951.22 L441,951.75 L440,952.27 L439,952.8 L438,953.33 L437,953.85 L436,954.38 L435,954.9 L434,955.44 L433,955.97 L432,956.51 L431,957.07 L430,957.62 L429,958.19 L428,958.76 L427,959.34 L426,959.92 L425,960.52 L424,961.12 L423,961.73 L422,962.35 L421,962.98 L420,963.62 L419,964.29 L418,964.97 L417,965.67 L416,966.39 L415,967.11 L414,967.84 L413,968.58 L412,969.31 L411,970.04 L410,970.76 L409,971.48 L408,972.21 L407,972.93 L406,973.65 L405,974.38 L404,975.1 L403,975.82 L402,976.54 L401,977.26 L400,977.98 L399,978.69 L398,979.41 L397,980.13 L396,980.86 L395,981.6 L394,982.35 L393,983.11 L392,983.87 L391,984.65 L390,985.44 L389,986.27 L388,987.15 L387,988.07 L386,989.03 L385,990.01 L384,991.01 L383,992 L382,992.99 L381,993.96 L380,994.91 L379,995.84 L378,996.77 L377,997.7 L376,998.64 L375,999.57 L374,1000.49 L373,1001.41 L372,1002.33 L371,1003.23 L370,1004.12 L369,1004.99 L368,1005.83 L367,1006.65 L366,1007.47 L365,1008.28 L364,1009.1 L363,1009.94 L362,1010.8 L361,1011.71 L360,1012.65 L359,1013.67 L358,1014.75 L357,1015.89 L356,1017.07 L355,1018.29 L354,1019.53 L353,1020.78 L352,1022.02 L351,1023.25 L350,1024.46 L349,1025.65 L348,1026.84 L347,1028.04 L346,1029.24 L345,1030.43 L344,1031.62 L343,1032.81 L342,1033.98 L341,1035.15 L340,1036.3 L339,1037.44 L338,1038.59 L337,1039.73 L336,1040.86 L335,1041.97 L334,1043.08 L333,1044.16 L332,1045.22 L331,1046.26 L330,1047.26 L329,1048.25 L328,1049.22 L327,1050.18 L326,1051.12 L325,1052.03 L324,1052.93 L323,1053.79 L322,1054.63 L321,1055.43 L320,1056.19 L319,1056.93 L318,1057.65 L317,1058.34 L316,1059.03 L315,1059.69 L314,1060.34 L313,1060.98 L312,1061.6 L311,1062.22 L310,1062.82 L309,1063.41 L308,1063.99 L307,1064.55 L306,1065.11 L305,1065.65 L304,1066.2 L303,1066.74 L302,1067.29 L301,1067.84 L300,1068.4 L299,1068.97 L298,1069.56 L297,1070.15 L296,1070.75 L295,1071.35 L294,1071.93 L293,1072.51 L292,1073.06 L291,1073.59 L290,1074.09 L289,1074.57 L288,1075.03 L287,1075.47 L286,1075.91 L285,1076.33 L284,1076.76 L283,1077.18 L282,1077.6 L281,1078.02 L280,1078.45 L279,1078.88 L278,1079.31 L277,1079.74 L276,1080.16 L275,1080.59 L274,1081.01 L273,1081.43 L272,1081.84 L271,1082.25 L270,1082.66 L269,1083.07 L268,1083.48 L267,1083.89 L266,1084.29 L265,1084.7 L264,1085.1 L263,1085.5 L262,1085.9 L261,1086.3 L260,1086.69 L259,1087.08 L258,1087.47 L257,1087.84 L256,1088.22 L255,1088.59 L254,1088.96 L253,1089.33 L252,1089.71 L251,1090.09 L250,1090.48 L249,1090.87 L248,1091.27 L247,1091.68 L246,1092.09 L245,1092.51 L244,1092.93 L243,1093.35 L242,1093.78 L241,1094.2 L240,1094.62 L239,1095.04 L238,1095.46 L237,1095.88 L236,1096.29 L235,1096.71 L234,1097.14 L233,1097.57 L232,1098.02 L231,1098.48 L230,1098.95 L229,1099.44 L228,1099.95 L227,1100.48 L226,1101.02 L225,1101.58 L224,1102.14 L223,1102.72 L222,1103.3 L221,1103.89 L220,1104.47 L219,1105.07 L218,1105.69 L217,1106.32 L216,1106.96 L215,1107.61 L214,1108.26 L213,1108.91 L212,1109.55 L211,1110.19 L210,1110.83 L209,1111.45 L208,1112.08 L207,1112.7 L206,1113.33 L205,1113.95 L204,1114.56 L203,1115.18 L202,1115.78 L201,1116.38 L200,1116.97 L199,1117.54 L198,1118.11 L197,1118.67 L196,1119.23 L195,1119.78 L194,1120.33 L193,1120.87 L192,1121.41 L191,1121.96 L190,1122.5 L189,1123.05 L188,1123.62 L187,1124.2 L186,1124.79 L185,1125.42 L184,1126.08 L183,1126.7 L182,1127.22 L181,1127.66 L180,1128.05 L179,1128.42 L178,1128.76 L177,1129.08 L176,1129.39 L175,1129.68 L174,1129.97 L173,1130.27 L172,1130.56 L171,1130.87 L170,1131.2 L169,1131.54 L168,1131.87 L167,1132.2 L166,1132.54 L165,1132.87 L164,1133.21 L163,1133.56 L162,1133.91 L161,1134.27 L160,1134.64 L159,1135.02 L158,1135.4 L157,1135.8 L156,1136.2 L155,1136.6 L154,1137.01 L153,1137.43 L152,1137.84 L151,1138.26 L150,1138.67Z" fill="#1f77b4" fill-opacity="0.1" stroke="#1f77b4" stroke-opacity="0.1" stroke-width="1.39" stroke-linejoin="round"/>
<path d="M150,1134.98 L151,1134.52 L152,1134.04 L153,1133.55 L154,1133.06 L155,1132.56 L156,1132.06 L157,1131.56 L158,1131.06 L159,1130.57 L160,1130.08 L161,1129.6 L162,1129.13 L163,1128.67 L164,1128.2 L165,1127.74 L166,1127.27 L167,1126.8 L168,1126.32 L169,1125.83 L170,1125.33 L171,1124.82 L172,1124.32 L173,1123.82 L174,1123.32 L175,1122.81 L176,1122.29 L177,1121.75 L178,1121.19 L179,1120.61 L180,1120.01 L181,1119.37 L182,1118.71 L183,1117.91 L184,1116.98 L185,1116.03 L186,1115.15 L187,1114.36 L188,1113.61 L189,1112.89 L190,1112.2 L191,1111.53 L192,1110.88 L193,1110.24 L194,1109.61 L195,1108.99 L196,1108.37 L197,1107.74 L198,1107.1 L199,1106.45 L200,1105.78 L201,1105.1 L202,1104.41 L203,1103.71 L204,1103.01 L205,1102.31 L206,1101.6 L207,1100.89 L208,1100.17 L209,1099.46 L210,1098.75 L211,1098.03 L212,1097.31 L213,1096.59 L214,1095.87 L215,1095.15 L216,1094.43 L217,1093.73 L218,1093.03 L219,1092.35 L220,1091.68 L221,1091.02 L222,1090.35 L223,1089.68 L224,1089.02 L225,1088.37 L226,1087.74 L227,1087.12 L228,1086.52 L229,1085.96 L230,1085.43 L231,1084.93 L232,1084.45 L233,1084 L234,1083.55 L235,1083.12 L236,1082.7 L237,1082.28 L238,1081.86 L239,1081.43 L240,1080.99 L241,1080.54 L242,1080.09 L243,1079.64 L244,1079.18 L245,1078.73 L246,1078.28 L247,1077.84 L248,1077.41 L249,1076.98 L250,1076.57 L251,1076.17 L252,1075.78 L253,1075.4 L254,1075.03 L255,1074.65 L256,1074.28 L257,1073.91 L258,1073.53 L259,1073.14 L260,1072.73 L261,1072.32 L262,1071.91 L263,1071.49 L264,1071.06 L265,1070.63 L266,1070.2 L267,1069.77 L268,1069.33 L269,1068.9 L270,1068.46 L271,1068.02 L272,1067.58 L273,1067.13 L274,1066.68 L275,1066.23 L276,1065.77 L277,1065.31 L278,1064.85 L279,1064.39 L280,1063.92 L281,1063.46 L282,1063.01 L283,1062.56 L284,1062.11 L285,1061.66 L286,1061.19 L287,1060.72 L288,1060.23 L289,1059.71 L290,1059.17 L291,1058.59 L292,1057.96 L293,1057.28 L294,1056.58 L295,1055.86 L296,1055.13 L297,1054.4 L298,1053.67 L299,1052.97 L300,1052.3 L301,1051.65 L302,1051.02 L303,1050.4 L304,1049.78 L305,1049.17 L306,1048.55 L307,1047.92 L308,1047.28 L309,1046.63 L310,1045.95 L311,1045.27 L312,1044.57 L313,1043.86 L314,1043.14 L315,1042.41 L316,1041.67 L317,1040.91 L318,1040.14 L319,1039.35 L320,1038.54 L321,1037.72 L322,1036.88 L323,1036.02 L324,1035.15 L325,1034.24 L326,1033.31 L327,1032.34 L328,1031.32 L329,1030.27 L330,1029.16 L331,1027.96 L332,1026.66 L333,1025.26 L334,1023.79 L335,1022.27 L336,1020.73 L337,1019.17 L338,1017.63 L339,1016.13 L340,1014.67 L341,1013.26 L342,1011.86 L343,1010.46 L344,1009.07 L345,1007.68 L346,1006.3 L347,1004.92 L348,1003.54 L349,1002.17 L350,1000.79 L351,999.41 L352,998.03 L353,996.65 L354,995.28 L355,993.91 L356,992.55 L357,991.2 L358,989.86 L359,988.53 L360,987.23 L361,985.94 L362,984.67 L363,983.42 L364,982.18 L365,980.95 L366,979.73 L367,978.51 L368,977.29 L369,976.07 L370,974.84 L371,973.61 L372,972.39 L373,971.17 L374,969.96 L375,968.75 L376,967.55 L377,966.35 L378,965.16 L379,963.97 L380,962.79 L381,961.57 L382,960.31 L383,959.02 L384,957.73 L385,956.45 L386,955.21 L387,954.03 L388,952.93 L389,951.93 L390,951.05 L391,950.28 L392,949.57 L393,948.91 L394,948.29 L395,947.69 L396,947.12 L397,946.55 L398,945.97 L399,945.38 L400,944.77 L401,944.13 L402,943.46 L403,942.77 L404,942.07 L405,941.35 L406,940.63 L407,939.91 L408,939.19 L409,938.48 L410,937.78 L411,937.08 L412,936.39 L413,935.69 L414,934.99 L415,934.3 L416,933.61 L417,932.92 L418,932.24 L419,931.57 L420,930.91 L421,930.26 L422,929.6 L423,928.96 L424,928.31 L425,927.67 L426,927.03 L427,926.4 L428,925.77 L429,925.15 L430,924.53 L431,923.91 L432,923.3 L433,922.68 L434,922.07 L435,921.47 L436,920.86 L437,920.27 L438,919.68 L439,919.1 L440,918.53 L441,917.97 L442,917.42 L443,916.89 L444,916.36 L445,915.83 L446,915.3 L447,914.78 L448,914.25 L449,913.71 L450,913.16 L451,912.6 L452,912.02 L453,911.44 L454,910.84 L455,910.25 L456,909.66 L457,909.08 L458,908.51 L459,907.95 L460,907.41 L461,906.88 L462,906.36 L463,905.85 L464,905.35 L465,904.85 L466,904.36 L467,903.88 L468,903.4 L469,902.93 L470,902.47 L471,902.01 L472,901.57 L473,901.13 L474,900.71 L475,900.28 L476,899.86 L477,899.43 L478,898.99 L479,898.55 L480,898.09 L481,897.71 L482,897.32 L483,896.93 L484,896.52 L485,896.11 L486,895.7 L487,895.28 L488,894.86 L489,894.44 L490,894.02 L491,893.6 L492,893.18 L493,892.75 L494,892.31 L495,891.88 L496,891.44 L497,891 L498,890.56 L499,890.12 L500,889.69 L501,889.26 L502,888.84 L503,888.42 L504,888 L505,887.59 L506,887.16 L507,886.73 L508,886.28 L509,885.81 L510,885.32 L511,884.8 L512,884.28 L513,883.73 L514,883.18 L515,882.62 L516,882.05 L517,881.47 L518,880.88 L519,880.29 L520,879.5 L521,878.49 L522,877.47 L523,876.45 L524,875.42 L525,874.37 L526,873.32 L527,872.24 L528,871.15 L529,870.05 L530,868.91 L531,867.76 L532,866.59 L533,865.39 L534,864.15 L535,862.88 L536,861.58 L537,860.25 L538,858.89 L539,857.8 L540,856.98 L541,856.14 L542,855.28 L543,854.4 L544,853.51 L545,852.61 L546,851.7 L547,850.79 L548,849.89 L549,849 L550,848.12 L551,847.26 L552,846.42 L553,845.61 L554,844.82 L555,844.06 L556,843.32 L557,842.6 L558,841.9 L559,841.21 L560,840.54 L561,839.86 L562,839.2 L563,838.53 L564,837.65 L565,836.54 L566,835.41 L567,834.26 L568,833.09 L569,831.89 L570,830.66 L571,829.4 L572,828.11 L573,826.79 L574,825.43 L575,824.04 L576,822.61 L577,821.16 L578,819.68 L579,818.17 L580,816.63 L581,815.06 L582,813.47 L583,811.86 L584,810.22 L585,808.56 L586,806.87 L587,805.16 L588,803.43 L589,801.68 L590,799.91 L591,798.13 L592,796.34 L593,794.53 L594,792.71 L595,790.89 L596,789.05 L597,787.2 L598,785.34 L599,783.47 L600,781.59 L601,779.71 L602,777.84 L603,775.96 L604,774.1 L605,772.25 L606,770.42 L607,768.61 L608,766.82 L609,765.03 L610,763.24 L611,761.45 L612,759.64 L613,757.83 L614,756.01 L615,754.17 L616,752.32 L617,750.45 L618,748.57 L619,746.66 L620,744.74 L621,742.97 L622,741.18 L623,739.38 L624,737.58 L625,735.78 L626,733.97 L627,732.16 L628,730.36 L629,728.56 L630,726.77 L631,725.31 L632,723.86 L633,722.4 L634,720.96 L635,719.52 L636,718.1 L637,716.69 L638,715.3 L639,713.91 L640,712.55 L641,711.21 L642,709.88 L643,708.57 L644,707.29 L645,706.02 L646,704.77 L647,703.54 L648,702.34 L649,701.16 L650,700 L651,698.78 L652,697.57 L653,696.36 L654,695.16 L655,693.97 L656,692.8 L657,691.64 L658,690.49 L659,689.37 L660,688.26 L661,686.91 L662,685.59 L663,684.28 L664,683.01 L665,681.76 L666,680.54 L667,679.35 L668,678.2 L669,677.08 L670,676 L671,674.73 L672,673.48 L673,672.25 L674,671.05 L675,669.86 L676,668.7 L677,667.55 L678,666.42 L679,665.32 L680,664.22 L681,663.15 L682,662.09 L683,661.05 L684,660.01 L685,658.99 L686,657.98 L687,656.98 L688,655.98 L689,654.99 L690,654 L691,653.22 L692,652.45 L693,651.68 L694,650.93 L695,650.18 L696,649.45 L697,648.72 L698,648 L699,647.29 L700,646.58 L701,645.89 L702,645.21 L703,644.54 L704,643.87 L705,643.22 L706,642.57 L707,641.92 L708,641.28 L709,640.64 L710,640 L711,639.39 L712,638.78 L713,638.17 L714,637.56 L715,636.96 L716,636.35 L717,635.75 L718,635.17 L719,634.59 L720,634.02 L721,633.46 L722,632.91 L723,632.37 L724,631.84 L725,631.33 L726,630.82 L727,630.34 L728,629.87 L729,629.42 L730,629 L731,628.52 L732,628.06 L733,627.61 L734,627.19 L735,626.78 L736,626.38 L737,626 L737,665 L736,665.25 L735,665.51 L734,665.78 L733,666.06 L732,666.36 L731,666.67 L730,667 L729,667.33 L728,667.67 L727,668.03 L726,668.4 L725,668.79 L724,669.19 L723,669.6 L722,670.03 L721,670.47 L720,670.92 L719,671.38 L718,671.86 L717,672.34 L716,672.84 L715,673.34 L714,673.86 L713,674.38 L712,674.91 L711,675.45 L710,676 L709,676.63 L708,677.28 L707,677.94 L706,678.62 L705,679.31 L704,680.02 L703,680.74 L702,681.48 L701,682.23 L700,683 L699,683.71 L698,684.45 L697,685.23 L696,686.03 L695,686.83 L694,687.63 L693,688.42 L692,689.19 L691,689.93 L690,690.67 L689,691.39 L688,692.11 L687,692.83 L686,693.55 L685,694.27 L684,695 L683,695.84 L682,696.69 L681,697.56 L680,698.44 L679,699.33 L678,700.24 L677,701.16 L676,702.09 L675,703.04 L674,704.01 L673,705 L672,705.9 L671,706.83 L670,707.78 L669,708.75 L668,709.77 L667,710.82 L666,711.9 L665,713.01 L664,714.14 L663,715.3 L662,716.67 L661,718.06 L660,719.47 L659,720.88 L658,722.31 L657,723.75 L656,725.2 L655,726.65 L654,728.11 L653,729.58 L652,731.05 L651,732.52 L650,734 L649,735.33 L648,736.67 L647,738.03 L646,739.41 L645,740.8 L644,742.21 L643,743.63 L642,745.07 L641,746.53 L640,748 L639,749.67 L638,751.35 L637,753.04 L636,754.76 L635,756.49 L634,758.24 L633,760 L632,761.93 L631,763.86 L630,765.81 L629,767.76 L628,769.71 L627,771.67 L626,773.63 L625,775.59 L624,777.54 L623,779.49 L622,781.43 L621,783.37 L620,785.29 L619,787.2 L618,788.79 L617,790.37 L616,791.96 L615,793.55 L614,795.12 L613,796.69 L612,798.26 L611,799.8 L610,801.34 L609,802.86 L608,804.36 L607,805.84 L606,807.33 L605,808.81 L604,810.28 L603,811.75 L602,813.2 L601,814.64 L600,816.08 L599,817.5 L598,818.91 L597,820.32 L596,821.71 L595,823.1 L594,824.49 L593,825.86 L592,827.23 L591,828.6 L590,829.96 L589,831.31 L588,832.66 L587,834.01 L586,835.35 L585,836.69 L584,838.02 L583,839.34 L582,840.72 L581,842.16 L580,843.57 L579,844.96 L578,846.33 L577,847.68 L576,848.99 L575,850.27 L574,851.52 L573,852.74 L572,853.91 L571,855.04 L570,856.14 L569,857.19 L568,858.2 L567,859.15 L566,860.07 L565,860.97 L564,861.85 L563,862.71 L562,863.57 L561,864.42 L560,865.28 L559,866.14 L558,867.01 L557,867.89 L556,868.8 L555,869.73 L554,870.68 L553,871.66 L552,872.66 L551,873.67 L550,874.71 L549,875.75 L548,876.81 L547,877.87 L546,878.94 L545,880 L544,881.02 L543,882.03 L542,883.03 L541,884.02 L540,884.99 L539,885.95 L538,886.89 L537,887.82 L536,888.73 L535,889.62 L534,890.48 L533,891.33 L532,892.16 L531,892.97 L530,893.79 L529,894.61 L528,895.43 L527,896.26 L526,897.09 L525,897.91 L524,898.72 L523,899.51 L522,900.27 L521,901 L520,901.7 L519,902.37 L518,903.01 L517,903.63 L516,904.23 L515,904.82 L514,905.4 L513,905.98 L512,906.54 L511,907.11 L510,907.68 L509,908.25 L508,908.8 L507,909.35 L506,909.88 L505,910.41 L504,910.94 L503,911.46 L502,911.98 L501,912.5 L500,913.02 L499,913.54 L498,914.07 L497,914.59 L496,915.12 L495,915.64 L494,916.16 L493,916.68 L492,917.19 L491,917.71 L490,918.22 L489,918.72 L488,919.23 L487,919.74 L486,920.25 L485,920.75 L484,921.25 L483,921.74 L482,922.23 L481,922.7 L480,923.17 L479,923.63 L478,924.07 L477,924.51 L476,924.94 L475,925.36 L474,925.79 L473,926.21 L472,926.65 L471,927.09 L470,927.55 L469,928.02 L468,928.49 L467,928.97 L466,929.46 L465,929.95 L464,930.45 L463,930.96 L462,931.46 L461,931.97 L460,932.49 L459,933 L458,933.53 L457,934.06 L456,934.6 L455,935.14 L454,935.69 L453,936.23 L452,936.78 L451,937.32 L450,937.86 L449,938.39 L448,938.93 L447,939.46 L446,940 L445,940.53 L444,941.06 L443,941.6 L442,942.14 L441,942.68 L440,943.23 L439,943.78 L438,944.33 L437,944.89 L436,945.44 L435,946 L434,946.56 L433,947.13 L432,947.7 L431,948.27 L430,948.85 L429,949.43 L428,950.01 L427,950.58 L426,951.17 L425,951.75 L424,952.35 L423,952.95 L422,953.57 L421,954.2 L420,954.85 L419,955.52 L418,956.21 L417,956.92 L416,957.64 L415,958.38 L414,959.12 L413,959.87 L412,960.62 L411,961.36 L410,962.1 L409,962.84 L408,963.59 L407,964.35 L406,965.12 L405,965.88 L404,966.63 L403,967.37 L402,968.1 L401,968.8 L400,969.47 L399,970.11 L398,970.73 L397,971.33 L396,971.92 L395,972.51 L394,973.11 L393,973.72 L392,974.37 L391,975.04 L390,975.75 L389,976.55 L388,977.43 L387,978.4 L386,979.42 L385,980.5 L384,981.6 L383,982.71 L382,983.82 L381,984.91 L380,985.97 L379,987 L378,988.04 L377,989.09 L376,990.14 L375,991.2 L374,992.26 L373,993.32 L372,994.38 L371,995.44 L370,996.5 L369,997.55 L368,998.58 L367,999.61 L366,1000.63 L365,1001.66 L364,1002.69 L363,1003.73 L362,1004.79 L361,1005.88 L360,1006.99 L359,1008.13 L358,1009.32 L357,1010.55 L356,1011.79 L355,1013.06 L354,1014.34 L353,1015.62 L352,1016.9 L351,1018.16 L350,1019.41 L349,1020.65 L348,1021.88 L347,1023.12 L346,1024.35 L345,1025.57 L344,1026.79 L343,1028 L342,1029.2 L341,1030.39 L340,1031.56 L339,1032.73 L338,1033.88 L337,1035.03 L336,1036.16 L335,1037.28 L334,1038.39 L333,1039.47 L332,1040.53 L331,1041.57 L330,1042.59 L329,1043.58 L328,1044.55 L327,1045.51 L326,1046.44 L325,1047.36 L324,1048.25 L323,1049.12 L322,1049.95 L321,1050.76 L320,1051.54 L319,1052.3 L318,1053.03 L317,1053.74 L316,1054.44 L315,1055.12 L314,1055.78 L313,1056.43 L312,1057.07 L311,1057.7 L310,1058.33 L309,1058.93 L308,1059.52 L307,1060.1 L306,1060.66 L305,1061.22 L304,1061.77 L303,1062.33 L302,1062.9 L301,1063.48 L300,1064.08 L299,1064.71 L298,1065.36 L297,1066.04 L296,1066.73 L295,1067.41 L294,1068.09 L293,1068.75 L292,1069.39 L291,1069.98 L290,1070.52 L289,1071.02 L288,1071.5 L287,1071.96 L286,1072.4 L285,1072.83 L284,1073.25 L283,1073.66 L282,1074.08 L281,1074.51 L280,1074.94 L279,1075.38 L278,1075.82 L277,1076.26 L276,1076.7 L275,1077.13 L274,1077.57 L273,1078 L272,1078.43 L271,1078.85 L270,1079.27 L269,1079.69 L268,1080.11 L267,1080.53 L266,1080.95 L265,1081.36 L264,1081.77 L263,1082.18 L262,1082.58 L261,1082.98 L260,1083.37 L259,1083.76 L258,1084.13 L257,1084.49 L256,1084.85 L255,1085.21 L254,1085.56 L253,1085.92 L252,1086.28 L251,1086.66 L250,1087.04 L249,1087.43 L248,1087.84 L247,1088.26 L246,1088.68 L245,1089.11 L244,1089.54 L243,1089.97 L242,1090.4 L241,1090.83 L240,1091.25 L239,1091.66 L238,1092.07 L237,1092.46 L236,1092.86 L235,1093.26 L234,1093.67 L233,1094.08 L232,1094.51 L231,1094.97 L230,1095.44 L229,1095.94 L228,1096.48 L227,1097.04 L226,1097.63 L225,1098.23 L224,1098.85 L223,1099.48 L222,1100.11 L221,1100.74 L220,1101.37 L219,1102 L218,1102.65 L217,1103.31 L216,1103.98 L215,1104.66 L214,1105.33 L213,1106.01 L212,1106.68 L211,1107.34 L210,1107.99 L209,1108.63 L208,1109.27 L207,1109.91 L206,1110.55 L205,1111.18 L204,1111.81 L203,1112.43 L202,1113.04 L201,1113.64 L200,1114.24 L199,1114.82 L198,1115.38 L197,1115.93 L196,1116.48 L195,1117.02 L194,1117.56 L193,1118.1 L192,1118.65 L191,1119.22 L190,1119.8 L189,1120.4 L188,1121.04 L187,1121.7 L186,1122.38 L185,1123.16 L184,1124.01 L183,1124.81 L182,1125.47 L181,1125.99 L180,1126.47 L179,1126.91 L178,1127.32 L177,1127.7 L176,1128.07 L175,1128.41 L174,1128.75 L173,1129.08 L172,1129.42 L171,1129.76 L170,1130.12 L169,1130.48 L168,1130.83 L167,1131.18 L166,1131.52 L165,1131.86 L164,1132.2 L163,1132.55 L162,1132.9 L161,1133.26 L160,1133.63 L159,1134.01 L158,1134.4 L157,1134.8 L156,1135.2 L155,1135.61 L154,1136.03 L153,1136.44 L152,1136.85 L151,1137.25 L150,1137.64Z" fill="#1f77b4" fill-opacity="0.1" stroke="#1f77b4" stroke-opacity="0.1" stroke-width="1.39" stroke-linejoin="round"/>
<line x1="77.5" x2="785.5" y1="1145.5" y2="1145.5" stroke="#b0b0b0" stroke-width="1.111"/>
<line x1="77.5" x2="785.5" y1="1073.5" y2="1073.5" stroke="#b0b0b0" stroke-width="1.111"/>
<line x1="77.5" x2="785.5" y1="1002.5" y2="1002.5" stroke="#b0b0b0" stroke-width="1.111"/>
<line x1="77.5" x2="785.5" y1="930.5" y2="930.5" stroke="#b0b0b0" stroke-width="1.111"/>
<line x1="77.5" x2="785.5" y1="858.5" y2="858.5" stroke="#b0b0b0" stroke-width="1.111"/>
<line x1="77.5" x2="785.5" y1="787.5" y2="787.5" stroke="#b0b0b0" stroke-width="1.111"/>
<line x1="77.5" x2="785.5" y1="715.5" y2="715.5" stroke="#b0b0b0" stroke-width="1.111"/>
<line x1="77.5" x2="785.5" y1="643.5" y2="643.5" stroke="#b0b0b0" stroke-width="1.111"/>
<path d="M77.96,1144.2 L78.96,1144.2 L79.96,1144.2 L80.96,1144.2 L81.96,1144.2 L82.96,1144.2 L83.96,1144.2 L84.96,1144.2 L85.96,1144.2 L86.96,1144.2 L87.96,1144.2 L88.96,1144.2 L89.96,1144.2 L90.96,1144.2 L91.96,1144.2 L92.96,1144.2 L93.96,1144.2 L94.96,1144.2 L95.96,1144.2 L96.96,1144.2 L97.96,1144.2 L98.96,1144.2 L99.96,1144.2 L100.96,1144.2 L101.96,1144.2 L102.96,1144.2 L103.96,1144.2 L104.96,1144.2 L105.96,1144.2 L106.96,1144.2 L107.96,1144.2 L108.96,1144.2 L109.96,1144.2 L110.96,1144.2 L111.96,1144.19 L112.96,1144.17 L113.96,1144.14 L114.96,1144.11 L115.96,1144.07 L116.96,1144.02 L117.96,1143.97 L118.96,1143.92 L119.96,1143.86 L120.96,1143.79 L121.96,1143.72 L122.96,1143.65 L123.96,1143.57 L124.96,1143.49 L125.96,1143.4 L126.96,1143.29 L127.96,1143.14 L128.96,1142.94 L129.96,1142.71 L130.96,1142.44 L131.96,1142.15 L132.96,1141.84 L133.96,1141.52 L134.96,1141.18 L135.96,1140.84 L136.96,1140.49 L137.96,1140.15 L138.96,1139.83 L139.96,1139.51 L140.96,1139.21 L141.96,1138.9 L142.96,1138.58 L143.96,1138.26 L144.96,1137.94 L145.96,1137.6 L146.96,1137.27 L147.96,1136.92 L148.96,1136.57 L149.96,1136.21 L150.96,1135.84 L151.96,1135.46 L152.96,1135.06 L153.96,1134.65 L154.96,1134.24 L155.96,1133.82 L156.96,1133.41 L157.96,1133 L158.96,1132.6 L159.96,1132.22 L160.96,1131.84 L161.96,1131.48 L162.96,1131.13 L163.96,1130.79 L164.96,1130.45 L165.96,1130.1 L166.96,1129.75 L167.96,1129.39 L168.96,1129.01 L169.96,1128.62 L170.96,1128.22 L171.96,1127.83 L172.96,1127.44 L173.96,1127.05 L174.96,1126.64 L175.96,1126.23 L176.96,1125.79 L177.96,1125.32 L178.96,1124.81 L179.96,1124.27 L180.96,1123.67 L181.96,1123.03 L182.96,1122.19 L183.96,1121.13 L184.96,1120.02 L185.96,1119.03 L186.96,1118.2 L187.96,1117.43 L188.96,1116.7 L189.96,1116.03 L190.96,1115.39 L191.96,1114.79 L192.96,1114.23 L193.96,1113.68 L194.96,1113.15 L195.96,1112.62 L196.96,1112.1 L197.96,1111.56 L198.96,1111 L199.96,1110.42 L200.96,1109.82 L201.96,1109.21 L202.96,1108.59 L203.96,1107.95 L204.96,1107.31 L205.96,1106.67 L206.96,1106.02 L207.96,1105.36 L208.96,1104.69 L209.96,1104.03 L210.96,1103.35 L211.96,1102.66 L212.96,1101.96 L213.96,1101.25 L214.96,1100.54 L215.96,1099.82 L216.96,1099.11 L217.96,1098.4 L218.96,1097.71 L219.96,1097.03 L220.96,1096.34 L221.96,1095.65 L222.96,1094.95 L223.96,1094.24 L224.96,1093.55 L225.96,1092.88 L226.96,1092.23 L227.96,1091.62 L228.96,1091.04 L229.96,1090.52 L230.96,1090.04 L231.96,1089.6 L232.96,1089.19 L233.96,1088.79 L234.96,1088.41 L235.96,1088.04 L236.96,1087.68 L237.96,1087.3 L238.96,1086.92 L239.96,1086.52 L240.96,1086.1 L241.96,1085.66 L242.96,1085.22 L243.96,1084.78 L244.96,1084.33 L245.96,1083.89 L246.96,1083.45 L247.96,1083.03 L248.96,1082.61 L249.96,1082.22 L250.96,1081.84 L251.96,1081.48 L252.96,1081.13 L253.96,1080.79 L254.96,1080.46 L255.96,1080.12 L256.96,1079.79 L257.96,1079.44 L258.96,1079.09 L259.96,1078.72 L260.96,1078.33 L261.96,1077.93 L262.96,1077.52 L263.96,1077.11 L264.96,1076.68 L265.96,1076.25 L266.96,1075.82 L267.96,1075.39 L268.96,1074.95 L269.96,1074.52 L270.96,1074.08 L271.96,1073.64 L272.96,1073.19 L273.96,1072.74 L274.96,1072.29 L275.96,1071.83 L276.96,1071.38 L277.96,1070.92 L278.96,1070.47 L279.96,1070.02 L280.96,1069.58 L281.96,1069.15 L282.96,1068.74 L283.96,1068.32 L284.96,1067.91 L285.96,1067.48 L286.96,1067.03 L287.96,1066.56 L288.96,1066.06 L289.96,1065.52 L290.96,1064.92 L291.96,1064.24 L292.96,1063.5 L293.96,1062.72 L294.96,1061.91 L295.96,1061.09 L296.96,1060.28 L297.96,1059.48 L298.96,1058.73 L299.96,1058.03 L300.96,1057.38 L301.96,1056.75 L302.96,1056.15 L303.96,1055.57 L304.96,1055 L305.96,1054.43 L306.96,1053.85 L307.96,1053.26 L308.96,1052.66 L309.96,1052.03 L310.96,1051.38 L311.96,1050.72 L312.96,1050.06 L313.96,1049.39 L314.96,1048.7 L315.96,1048.01 L316.96,1047.29 L317.96,1046.56 L318.96,1045.81 L319.96,1045.03 L320.96,1044.23 L321.96,1043.41 L322.96,1042.57 L323.96,1041.7 L324.96,1040.81 L325.96,1039.9 L326.96,1038.97 L327.96,1038.02 L328.96,1037.04 L329.96,1036.04 L330.96,1035.02 L331.96,1033.98 L332.96,1032.91 L333.96,1031.83 L334.96,1030.73 L335.96,1029.6 L336.96,1028.46 L337.96,1027.31 L338.96,1026.13 L339.96,1024.94 L340.96,1023.74 L341.96,1022.52 L342.96,1021.29 L343.96,1020.04 L344.96,1018.79 L345.96,1017.52 L346.96,1016.24 L347.96,1014.96 L348.96,1013.66 L349.96,1012.36 L350.96,1011.05 L351.96,1009.73 L352.96,1008.41 L353.96,1007.08 L354.96,1005.75 L355.96,1004.42 L356.96,1003.08 L357.96,1001.74 L358.96,1000.4 L359.96,999.06 L360.96,997.72 L361.96,996.39 L362.96,995.05 L363.96,993.72 L364.96,992.39 L365.96,991.07 L366.96,989.75 L367.96,988.43 L368.96,987.13 L369.96,985.83 L370.96,984.54 L371.96,983.26 L372.96,981.98 L373.96,980.72 L374.96,979.47 L375.96,978.24 L376.96,977.01 L377.96,975.8 L378.96,974.61 L379.96,973.43 L380.96,972.22 L381.96,970.97 L382.96,969.69 L383.96,968.41 L384.96,967.15 L385.96,965.95 L386.96,964.82 L387.96,963.79 L388.96,962.89 L389.96,962.15 L390.96,961.53 L391.96,961 L392.96,960.54 L393.96,960.12 L394.96,959.72 L395.96,959.34 L396.96,958.95 L397.96,958.52 L398.96,958.06 L399.96,957.52 L400.96,956.91 L401.96,956.24 L402.96,955.52 L403.96,954.75 L404.96,953.95 L405.96,953.14 L406.96,952.31 L407.96,951.5 L408.96,950.7 L409.96,949.93 L410.96,949.18 L411.96,948.41 L412.96,947.65 L413.96,946.88 L414.96,946.12 L415.96,945.37 L416.96,944.63 L417.96,943.91 L418.96,943.2 L419.96,942.53 L420.96,941.87 L421.96,941.24 L422.96,940.63 L423.96,940.03 L424.96,939.45 L425.96,938.86 L426.96,938.28 L427.96,937.7 L428.96,937.12 L429.96,936.52 L430.96,935.92 L431.96,935.32 L432.96,934.71 L433.96,934.1 L434.96,933.5 L435.96,932.89 L436.96,932.29 L437.96,931.7 L438.96,931.11 L439.96,930.52 L440.96,929.95 L441.96,929.38 L442.96,928.81 L443.96,928.25 L444.96,927.7 L445.96,927.14 L446.96,926.59 L447.96,926.04 L448.96,925.48 L449.96,924.92 L450.96,924.36 L451.96,923.79 L452.96,923.22 L453.96,922.65 L454.96,922.08 L455.96,921.51 L456.96,920.95 L457.96,920.39 L458.96,919.85 L459.96,919.32 L460.96,918.8 L461.96,918.28 L462.96,917.77 L463.96,917.27 L464.96,916.77 L465.96,916.28 L466.96,915.8 L467.96,915.32 L468.96,914.87 L469.96,914.42 L470.96,913.99 L471.96,913.58 L472.96,913.18 L473.96,912.8 L474.96,912.42 L475.96,912.04 L476.96,911.66 L477.96,911.26 L478.96,910.85 L479.96,910.42 L480.96,909.97 L481.96,909.5 L482.96,909.01 L483.96,908.52 L484.96,908.01 L485.96,907.5 L486.96,906.98 L487.96,906.46 L488.96,905.94 L489.96,905.42 L490.96,904.9 L491.96,904.36 L492.96,903.82 L493.96,903.27 L494.96,902.72 L495.96,902.17 L496.96,901.62 L497.96,901.08 L498.96,900.55 L499.96,900.02 L500.96,899.51 L501.96,899.02 L502.96,898.53 L503.96,898.05 L504.96,897.57 L505.96,897.09 L506.96,896.6 L507.96,896.1 L508.96,895.57 L509.96,895.02 L510.96,894.46 L511.96,893.88 L512.96,893.3 L513.96,892.71 L514.96,892.11 L515.96,891.5 L516.96,890.89 L517.96,890.26 L518.96,889.63 L519.96,888.98 L520.96,888.32 L521.96,887.65 L522.96,886.97 L523.96,886.28 L524.96,885.57 L525.96,884.85 L526.96,884.12 L527.96,883.37 L528.96,882.61 L529.96,881.83 L530.96,881.04 L531.96,880.24 L532.96,879.41 L533.96,878.53 L534.96,877.62 L535.96,876.67 L536.96,875.68 L537.96,874.66 L538.96,873.62 L539.96,872.56 L540.96,871.48 L541.96,870.38 L542.96,869.28 L543.96,868.17 L544.96,867.05 L545.96,865.94 L546.96,864.83 L547.96,863.73 L548.96,862.64 L549.96,861.56 L550.96,860.51 L551.96,859.48 L552.96,858.48 L553.96,857.51 L554.96,856.57 L555.96,855.66 L556.96,854.76 L557.96,853.88 L558.96,853.01 L559.96,852.16 L560.96,851.3 L561.96,850.45 L562.96,849.6 L563.96,848.73 L564.96,847.86 L565.96,846.98 L566.96,846.07 L567.96,845.14 L568.96,844.19 L569.96,843.21 L570.96,842.19 L571.96,841.14 L572.96,840.04 L573.96,838.91 L574.96,837.73 L575.96,836.52 L576.96,835.27 L577.96,833.99 L578.96,832.68 L579.96,831.33 L580.96,829.96 L581.96,828.56 L582.96,827.13 L583.96,825.68 L584.96,824.2 L585.96,822.7 L586.96,821.18 L587.96,819.65 L588.96,818.09 L589.96,816.52 L590.96,814.94 L591.96,813.34 L592.96,811.73 L593.96,810.11 L594.96,808.49 L595.96,806.85 L596.96,805.21 L597.96,803.57 L598.96,801.93 L599.96,800.28 L600.96,798.64 L601.96,796.99 L602.96,795.35 L603.96,793.72 L604.96,792.09 L605.96,790.47 L606.96,788.86 L607.96,787.26 L608.96,785.66 L609.96,784.04 L610.96,782.4 L611.96,780.75 L612.96,779.08 L613.96,777.39 L614.96,775.69 L615.96,773.98 L616.96,772.26 L617.96,770.52 L618.96,768.78 L619.96,767.03 L620.96,765.27 L621.96,763.51 L622.96,761.74 L623.96,759.96 L624.96,758.19 L625.96,756.41 L626.96,754.63 L627.96,752.85 L628.96,751.08 L629.96,749.3 L630.96,747.54 L631.96,745.77 L632.96,744.01 L633.96,742.26 L634.96,740.52 L635.96,738.78 L636.96,737.06 L637.96,735.35 L638.96,733.65 L639.96,731.96 L640.96,730.29 L641.96,728.64 L642.96,727 L643.96,725.38 L644.96,723.78 L645.96,722.19 L646.96,720.63 L647.96,719.1 L648.96,717.58 L649.96,716.09 L650.96,714.63 L651.96,713.16 L652.96,711.7 L653.96,710.25 L654.96,708.8 L655.96,707.36 L656.96,705.94 L657.96,704.53 L658.96,703.13 L659.96,701.76 L660.96,700.4 L661.96,699.07 L662.96,697.76 L663.96,696.48 L664.96,695.24 L665.96,694.02 L666.96,692.84 L667.96,691.7 L668.96,690.6 L669.96,689.54 L670.96,688.52 L671.96,687.52 L672.96,686.55 L673.96,685.6 L674.96,684.67 L675.96,683.77 L676.96,682.88 L677.96,682.01 L678.96,681.16 L679.96,680.32 L680.96,679.5 L681.96,678.69 L682.96,677.9 L683.96,677.11 L684.96,676.33 L685.96,675.56 L686.96,674.8 L687.96,674.04 L688.96,673.28 L689.96,672.53 L690.96,671.78 L691.96,671.04 L692.96,670.31 L693.96,669.59 L694.96,668.87 L695.96,668.16 L696.96,667.46 L697.96,666.77 L698.96,666.09 L699.96,665.41 L700.96,664.74 L701.96,664.08 L702.96,663.42 L703.96,662.78 L704.96,662.13 L705.96,661.5 L706.96,660.87 L707.96,660.25 L708.96,659.63 L709.96,659.02 L710.96,658.42 L711.96,657.81 L712.96,657.2 L713.96,656.6 L714.96,655.99 L715.96,655.39 L716.96,654.8 L717.96,654.21 L718.96,653.63 L719.96,653.05 L720.96,652.49 L721.96,651.94 L722.96,651.39 L723.96,650.86 L724.96,650.35 L725.96,649.85 L726.96,649.36 L727.96,648.9 L728.96,648.45 L729.96,648.02 L730.96,647.61 L731.96,647.22 L732.96,646.85 L733.96,646.49 L734.96,646.15 L735.96,645.83 L737,645.5" fill="none" stroke="#1f77b4" stroke-width="2.08" stroke-linejoin="round"/>
<path d="M781.5,633.64 L781.5,1147.5 M784.9,1147.5 L784.9,632.82" fill="none" stroke="#1f77b4" stroke-width="2.08" stroke-linejoin="miter"/>
<path d="M77.96,1145.2 L79.69,1145.2 L81.41,1145.2 L83.14,1145.2 L84.86,1145.2 L86.59,1145.2 L88.31,1145.2 L90.04,1145.2 L91.76,1145.2 L93.49,1145.2 L95.22,1145.2 L96.94,1145.2 L98.67,1145.2 L100.39,1145.2 L102.12,1145.2 L103.84,1145.2 L105.57,1145.2 L107.3,1145.2 L109.02,1145.2 L110.75,1145.2 L112.47,1145.18 L114.2,1145.13 L115.92,1145.07 L117.65,1144.99 L119.37,1144.89 L121.1,1144.78 L122.83,1144.66 L124.55,1144.52 L126.28,1144.37 L128,1144.13 L129.73,1143.75 L131.45,1143.49 L133.18,1142.94 L134.9,1142.39 L136.63,1141.69 L138.36,1140.75 L140.08,1140.13 L141.81,1139.93 L143.53,1139.6 L145.26,1139.01 L146.98,1138.45 L148.71,1137.75 L150.44,1136.73 L152.16,1135.93 L153.89,1135.66 L155.61,1135.24 L157.34,1134.47 L159.06,1133.79 L160.79,1133 L162.51,1132 L164.24,1131.31 L165.97,1131.08 L167.69,1130.72 L169.42,1130.04 L171.14,1129.37 L172.87,1128.57 L174.59,1127.45 L176.32,1126.57 L178.04,1126.25 L179.77,1125.72 L181.5,1124.67 L183.22,1123.48 L184.95,1121.32 L186.67,1118.78 L188.4,1117.32 L190.12,1116.88 L191.85,1116.24 L193.58,1115.18 L195.3,1114.27 L197.03,1113.2 L198.75,1111.65 L200.48,1110.43 L202.2,1110.02 L203.93,1109.38 L205.65,1108.21 L207.38,1107.11 L209.11,1105.77 L210.83,1103.87 L212.56,1102.45 L214.28,1101.98 L216.01,1101.25 L217.73,1099.94 L219.46,1098.75 L221.18,1097.37 L222.91,1095.4 L224.64,1094.02 L226.36,1093.58 L228.09,1092.93 L229.81,1091.87 L231.54,1091.04 L233.26,1090.17 L234.99,1089.1 L236.72,1088.35 L238.44,1088.1 L240.17,1087.7 L241.89,1086.93 L243.62,1086.18 L245.34,1085.28 L247.07,1084.05 L248.79,1083.23 L250.52,1082.98 L252.25,1082.61 L253.97,1081.97 L255.7,1081.4 L257.42,1080.72 L259.15,1079.71 L260.87,1078.92 L262.6,1078.65 L264.32,1078.22 L266.05,1077.45 L267.78,1076.71 L269.5,1075.83 L271.23,1074.6 L272.95,1073.69 L274.68,1073.39 L276.4,1072.92 L278.13,1072.09 L279.86,1071.32 L281.58,1070.42 L283.31,1069.25 L285.03,1068.4 L286.76,1068.1 L288.48,1067.62 L290.21,1066.68 L291.93,1065.65 L293.66,1064.16 L295.39,1061.88 L297.11,1060.28 L298.84,1059.78 L300.56,1059.06 L302.29,1057.88 L304.01,1056.87 L305.74,1055.7 L307.46,1054.06 L309.19,1052.8 L310.92,1052.37 L312.64,1051.7 L314.37,1050.48 L316.09,1049.31 L317.82,1047.85 L319.54,1045.71 L321.27,1044.11 L323,1043.56 L324.72,1042.72 L326.45,1041.11 L328.17,1039.51 L329.9,1037.4 L331.62,1033.82 L333.35,1030.76 L335.07,1029.69 L336.8,1028.04 L338.53,1025.07 L340.25,1022.46 L341.98,1019.49 L343.7,1015.4 L345.43,1012.55 L347.15,1011.63 L348.88,1010.26 L350.6,1007.91 L352.33,1005.87 L354.06,1003.53 L355.78,1000.47 L357.51,998.38 L359.23,997.71 L360.96,996.69 L362.68,994.96 L364.41,993.45 L366.14,991.68 L367.86,989.21 L369.59,987.34 L371.31,986.73 L373.04,985.79 L374.76,984.01 L376.49,982.17 L378.21,979.34 L379.94,975.39 L381.67,972.76 L383.39,971.9 L385.12,970.62 L386.84,968.45 L388.57,966.72 L390.29,965.1 L392.02,963.59 L393.74,962.76 L395.47,962.51 L397.2,962.11 L398.92,961.33 L400.65,960.45 L402.37,959.13 L404.1,956.98 L405.82,955.33 L407.55,954.78 L409.28,953.96 L411,952.55 L412.73,951.26 L414.45,949.7 L416.18,947.6 L417.9,946.16 L419.63,945.71 L421.35,945.04 L423.08,943.88 L424.81,942.87 L426.53,941.68 L428.26,940.04 L429.98,938.84 L431.71,938.44 L433.43,937.82 L435.16,936.7 L436.88,935.68 L438.61,934.46 L440.34,932.83 L442.06,931.69 L443.79,931.32 L445.51,930.75 L447.24,929.73 L448.96,928.79 L450.69,927.66 L452.42,926.06 L454.14,924.91 L455.87,924.53 L457.59,923.96 L459.32,922.95 L461.04,922.05 L462.77,921 L464.49,919.59 L466.22,918.62 L467.95,918.3 L469.67,917.84 L471.4,917.03 L473.12,916.34 L474.85,915.56 L476.57,914.48 L478.3,913.66 L480.02,913.36 L481.75,912.9 L483.48,912.02 L485.2,911.18 L486.93,910.13 L488.65,908.67 L490.38,907.61 L492.1,907.25 L493.83,906.7 L495.56,905.69 L497.28,904.76 L499.01,903.66 L500.73,902.23 L502.46,901.29 L504.18,900.99 L505.91,900.52 L507.63,899.63 L509.36,898.72 L511.09,897.44 L512.81,895.15 L514.54,893.3 L516.26,892.68 L517.99,891.74 L519.71,890.15 L521.44,888.85 L523.16,887.38 L524.89,885.47 L526.62,884.15 L528.34,883.72 L530.07,883.07 L531.79,881.94 L533.52,880.97 L535.24,879.66 L536.97,877.52 L538.7,875.86 L540.42,875.3 L542.15,874.42 L543.87,872.82 L545.6,871.28 L547.32,869.38 L549.05,866.62 L550.77,864.54 L552.5,863.83 L554.23,862.71 L555.95,860.64 L557.68,858.66 L559.4,856.2 L561.13,852.65 L562.85,850 L564.58,849.11 L566.3,847.74 L568.03,845.23 L569.76,842.88 L571.48,840.03 L573.21,835.83 L574.93,832.76 L576.66,831.78 L578.38,830.35 L580.11,828.04 L581.84,826.11 L583.56,823.86 L585.29,820.51 L587.01,817.67 L588.74,816.64 L590.46,815.01 L592.19,811.94 L593.91,809.04 L595.64,805.62 L597.37,801.29 L599.09,798.62 L600.82,797.8 L602.54,796.58 L604.27,794.47 L605.99,792.51 L607.72,790.01 L609.44,786.01 L611.17,782.57 L612.9,781.34 L614.62,779.42 L616.35,775.89 L618.07,772.68 L619.8,769.07 L621.52,764.37 L623.25,761.05 L624.98,759.94 L626.7,758.24 L628.43,755.2 L630.15,752.39 L631.88,749.02 L633.6,744.33 L635.33,740.94 L637.05,739.81 L638.78,738.06 L640.51,734.84 L642.23,731.83 L643.96,728.2 L645.68,723.23 L647.41,719.77 L649.13,718.65 L650.86,716.96 L652.58,714.05 L654.31,711.45 L656.04,708.44 L657.76,704.4 L659.49,701.55 L661.21,700.61 L662.94,699.16 L664.66,696.52 L666.39,694.11 L668.12,691.39 L669.84,688.06 L671.57,685.8 L673.29,685.08 L675.02,684.01 L676.74,682.23 L678.47,680.8 L680.19,679.39 L681.92,677.87 L683.65,676.93 L685.37,676.63 L687.1,676.17 L688.82,675.31 L690.55,674.41 L692.27,673.22 L694,671.47 L695.72,670.15 L697.45,669.71 L699.18,669.01 L700.9,667.74 L702.63,666.5 L704.35,664.91 L706.08,662.7 L707.8,661.17 L709.53,660.69 L711.26,659.98 L712.98,658.74 L714.71,657.63 L716.43,656.34 L718.16,654.61 L719.88,653.39 L721.61,652.98 L723.33,652.34 L725.06,651.2 L726.79,650.21 L728.51,649.14 L730.24,648.03 L731.96,647.42 L733.69,647.23 L735.41,646.97 L737.14,646.5 L738.86,646.08 L740.59,645.62 L742.32,645.04 L744.04,644.61 L745.77,644.46 L747.49,644.23 L749.22,643.77 L750.94,643.28 L752.67,642.55 L754.4,641.34 L756.12,640.46 L757.85,640.18 L759.57,639.78 L761.3,639.15 L763.02,638.64 L764.75,638.06 L766.47,637.31 L768.2,636.78 L769.93,636.6 L771.65,636.33 L773.38,635.85 L775.1,635.4 L776.83,634.88 L778.55,634.17 L780.28,633.67 L782,633.5 L783.73,633.26 L785.46,632.69" fill="none" stroke="#ff7f0e" stroke-width="3" stroke-linejoin="round" stroke-linecap="round"/>
<path d="M77.96,1145.2h0M79.69,1145.2h0M81.41,1145.2h0M83.14,1145.2h0M84.86,1145.2h0M86.59,1145.2h0M88.31,1145.2h0M90.04,1145.2h0M91.76,1145.2h0M93.49,1145.2h0M95.22,1145.2h0M96.94,1145.2h0M98.67,1145.2h0M100.39,1145.2h0M102.12,1145.2h0M103.84,1145.2h0M105.57,1145.2h0M107.3,1145.2h0M109.02,1145.2h0M110.75,1145.2h0M112.47,1145.18h0M114.2,1145.13h0M115.92,1145.07h0M117.65,1144.99h0M119.37,1144.89h0M121.1,1144.78h0M122.83,1144.66h0M124.55,1144.52h0M126.28,1144.37h0M128,1144.13h0M129.73,1143.75h0M131.45,1143.49h0M133.18,1142.94h0M134.9,1142.39h0M136.63,1141.69h0M138.36,1140.75h0M140.08,1140.13h0M141.81,1139.93h0M143.53,1139.6h0M145.26,1139.01h0M146.98,1138.45h0M148.71,1137.75h0M150.44,1136.73h0M152.16,1135.93h0M153.89,1135.66h0M155.61,1135.24h0M157.34,1134.47h0M159.06,1133.79h0M160.79,1133h0M162.51,1132h0M164.24,1131.31h0M165.97,1131.08h0M167.69,1130.72h0M169.42,1130.04h0M171.14,1129.37h0M172.87,1128.57h0M174.59,1127.45h0M176.32,1126.57h0M178.04,1126.25h0M179.77,1125.72h0M181.5,1124.67h0M183.22,1123.48h0M184.95,1121.32h0M186.67,1118.78h0M188.4,1117.32h0M190.12,1116.88h0M191.85,1116.24h0M193.58,1115.18h0M195.3,1114.27h0M197.03,1113.2h0M198.75,1111.65h0M200.48,1110.43h0M202.2,1110.02h0M203.93,1109.38h0M205.65,1108.21h0M207.38,1107.11h0M209.11,1105.77h0M210.83,1103.87h0M212.56,1102.45h0M214.28,1101.98h0M216.01,1101.25h0M217.73,1099.94h0M219.46,1098.75h0M221.18,1097.37h0M222.91,1095.4h0M224.64,1094.02h0M226.36,1093.58h0M228.09,1092.93h0M229.81,1091.87h0M231.54,1091.04h0M233.26,1090.17h0M234.99,1089.1h0M236.72,1088.35h0M238.44,1088.1h0M240.17,1087.7h0M241.89,1086.93h0M243.62,1086.18h0M245.34,1085.28h0M247.07,1084.05h0M248.79,1083.23h0M250.52,1082.98h0M252.25,1082.61h0M253.97,1081.97h0M255.7,1081.4h0M257.42,1080.72h0M259.15,1079.71h0M260.87,1078.92h0M262.6,1078.65h0M264.32,1078.22h0M266.05,1077.45h0M267.78,1076.71h0M269.5,1075.83h0M271.23,1074.6h0M272.95,1073.69h0M274.68,1073.39h0M276.4,1072.92h0M278.13,1072.09h0M279.86,1071.32h0M281.58,1070.42h0M283.31,1069.25h0M285.03,1068.4h0M286.76,1068.1h0M288.48,1067.62h0M290.21,1066.68h0M291.93,1065.65h0M293.66,1064.16h0M295.39,1061.88h0M297.11,1060.28h0M298.84,1059.78h0M300.56,1059.06h0M302.29,1057.88h0M304.01,1056.87h0M305.74,1055.7h0M307.46,1054.06h0M309.19,1052.8h0M310.92,1052.37h0M312.64,1051.7h0M314.37,1050.48h0M316.09,1049.31h0M317.82,1047.85h0M319.54,1045.71h0M321.27,1044.11h0M323,1043.56h0M324.72,1042.72h0M326.45,1041.11h0M328.17,1039.51h0M329.9,1037.4h0M331.62,1033.82h0M333.35,1030.76h0M335.07,1029.69h0M336.8,1028.04h0M338.53,1025.07h0M340.25,1022.46h0M341.98,1019.49h0M343.7,1015.4h0M345.43,1012.55h0M347.15,1011.63h0M348.88,1010.26h0M350.6,1007.91h0M352.33,1005.87h0M354.06,1003.53h0M355.78,1000.47h0M357.51,998.38h0M359.23,997.71h0M360.96,996.69h0M362.68,994.96h0M364.41,993.45h0M366.14,991.68h0M367.86,989.21h0M369.59,987.34h0M371.31,986.73h0M373.04,985.79h0M374.76,984.01h0M376.49,982.17h0M378.21,979.34h0M379.94,975.39h0M381.67,972.76h0M383.39,971.9h0M385.12,970.62h0M386.84,968.45h0M388.57,966.72h0M390.29,965.1h0M392.02,963.59h0M393.74,962.76h0M395.47,962.51h0M397.2,962.11h0M398.92,961.33h0M400.65,960.45h0M402.37,959.13h0M404.1,956.98h0M405.82,955.33h0M407.55,954.78h0M409.28,953.96h0M411,952.55h0M412.73,951.26h0M414.45,949.7h0M416.18,947.6h0M417.9,946.16h0M419.63,945.71h0M421.35,945.04h0M423.08,943.88h0M424.81,942.87h0M426.53,941.68h0M428.26,940.04h0M429.98,938.84h0M431.71,938.44h0M433.43,937.82h0M435.16,936.7h0M436.88,935.68h0M438.61,934.46h0M440.34,932.83h0M442.06,931.69h0M443.79,931.32h0M445.51,930.75h0M447.24,929.73h0M448.96,928.79h0M450.69,927.66h0M452.42,926.06h0M454.14,924.91h0M455.87,924.53h0M457.59,923.96h0M459.32,922.95h0M461.04,922.05h0M462.77,921h0M464.49,919.59h0M466.22,918.62h0M467.95,918.3h0M469.67,917.84h0M471.4,917.03h0M473.12,916.34h0M474.85,915.56h0M476.57,914.48h0M478.3,913.66h0M480.02,913.36h0M481.75,912.9h0M483.48,912.02h0M485.2,911.18h0M486.93,910.13h0M488.65,908.67h0M490.38,907.61h0M492.1,907.25h0M493.83,906.7h0M495.56,905.69h0M497.28,904.76h0M499.01,903.66h0M500.73,902.23h0M502.46,901.29h0M504.18,900.99h0M505.91,900.52h0M507.63,899.63h0M509.36,898.72h0M511.09,897.44h0M512.81,895.15h0M514.54,893.3h0M516.26,892.68h0M517.99,891.74h0M519.71,890.15h0M521.44,888.85h0M523.16,887.38h0M524.89,885.47h0M526.62,884.15h0M528.34,883.72h0M530.07,883.07h0M531.79,881.94h0M533.52,880.97h0M535.24,879.66h0M536.97,877.52h0M538.7,875.86h0M540.42,875.3h0M542.15,874.42h0M543.87,872.82h0M545.6,871.28h0M547.32,869.38h0M549.05,866.62h0M550.77,864.54h0M552.5,863.83h0M554.23,862.71h0M555.95,860.64h0M557.68,858.66h0M559.4,856.2h0M561.13,852.65h0M562.85,850h0M564.58,849.11h0M566.3,847.74h0M568.03,845.23h0M569.76,842.88h0M571.48,840.03h0M573.21,835.83h0M574.93,832.76h0M576.66,831.78h0M578.38,830.35h0M580.11,828.04h0M581.84,826.11h0M583.56,823.86h0M585.29,820.51h0M587.01,817.67h0M588.74,816.64h0M590.46,815.01h0M592.19,811.94h0M593.91,809.04h0M595.64,805.62h0M597.37,801.29h0M599.09,798.62h0M600.82,797.8h0M602.54,796.58h0M604.27,794.47h0M605.99,792.51h0M607.72,790.01h0M609.44,786.01h0M611.17,782.57h0M612.9,781.34h0M614.62,779.42h0M616.35,775.89h0M618.07,772.68h0M619.8,769.07h0M621.52,764.37h0M623.25,761.05h0M624.98,759.94h0M626.7,758.24h0M628.43,755.2h0M630.15,752.39h0M631.88,749.02h0M633.6,744.33h0M635.33,740.94h0M637.05,739.81h0M638.78,738.06h0M640.51,734.84h0M642.23,731.83h0M643.96,728.2h0M645.68,723.23h0M647.41,719.77h0M649.13,718.65h0M650.86,716.96h0M652.58,714.05h0M654.31,711.45h0M656.04,708.44h0M657.76,704.4h0M659.49,701.55h0M661.21,700.61h0M662.94,699.16h0M664.66,696.52h0M666.39,694.11h0M668.12,691.39h0M669.84,688.06h0M671.57,685.8h0M673.29,685.08h0M675.02,684.01h0M676.74,682.23h0M678.47,680.8h0M680.19,679.39h0M681.92,677.87h0M683.65,676.93h0M685.37,676.63h0M687.1,676.17h0M688.82,675.31h0M690.55,674.41h0M692.27,673.22h0M694,671.47h0M695.72,670.15h0M697.45,669.71h0M699.18,669.01h0M700.9,667.74h0M702.63,666.5h0M704.35,664.91h0M706.08,662.7h0M707.8,661.17h0M709.53,660.69h0M711.26,659.98h0M712.98,658.74h0M714.71,657.63h0M716.43,656.34h0M718.16,654.61h0M719.88,653.39h0M721.61,652.98h0M723.33,652.34h0M725.06,651.2h0M726.79,650.21h0M728.51,649.14h0M730.24,648.03h0M731.96,647.42h0M733.69,647.23h0M735.41,646.97h0M737.14,646.5h0M738.86,646.08h0M740.59,645.62h0M742.32,645.04h0M744.04,644.61h0M745.77,644.46h0M747.49,644.23h0M749.22,643.77h0M750.94,643.28h0M752.67,642.55h0M754.4,641.34h0M756.12,640.46h0M757.85,640.18h0M759.57,639.78h0M761.3,639.15h0M763.02,638.64h0M764.75,638.06h0M766.47,637.31h0M768.2,636.78h0M769.93,636.6h0M771.65,636.33h0M773.38,635.85h0M775.1,635.4h0M776.83,634.88h0M778.55,634.17h0M780.28,633.67h0M782,633.5h0M783.73,633.26h0M785.46,632.69h0" fill="none" stroke="#ff7f0e" stroke-width="10.1" stroke-linecap="round"/>
<line x1="737" x2="737" y1="1146.2" y2="592.5" stroke="#1f77b4" stroke-opacity="0.5" stroke-width="2.08" stroke-dasharray="7.71 3.33"/>
</g>
<rect x="77.5" y="592.5" width="708" height="553" fill="none" stroke="#000" stroke-width="1.111"/>
<line x1="72.64" x2="77.5" y1="1145.5" y2="1145.5" stroke="#000" stroke-width="1.111"/>
<text x="68.65" y="1150.6" font-size="14.4" text-anchor="end" textLength="9.19" lengthAdjust="spacingAndGlyphs">0</text>
<line x1="72.64" x2="77.5" y1="1073.5" y2="1073.5" stroke="#000" stroke-width="1.111"/>
<text x="66.55" y="1078.6" font-size="14.4" text-anchor="end" textLength="34.03" lengthAdjust="spacingAndGlyphs">1000</text>
<line x1="72.64" x2="77.5" y1="1002.5" y2="1002.5" stroke="#000" stroke-width="1.111"/>
<text x="66.55" y="1007.6" font-size="14.4" text-anchor="end" textLength="34.03" lengthAdjust="spacingAndGlyphs">2000</text>
<line x1="72.64" x2="77.5" y1="930.5" y2="930.5" stroke="#000" stroke-width="1.111"/>
<text x="66.55" y="935.6" font-size="14.4" text-anchor="end" textLength="34.03" lengthAdjust="spacingAndGlyphs">3000</text>
<line x1="72.64" x2="77.5" y1="858.5" y2="858.5" stroke="#000" stroke-width="1.111"/>
<text x="66.55" y="863.6" font-size="14.4" text-anchor="end" textLength="34.03" lengthAdjust="spacingAndGlyphs">4000</text>
<line x1="72.64" x2="77.5" y1="787.5" y2="787.5" stroke="#000" stroke-width="1.111"/>
<text x="66.55" y="792.6" font-size="14.4" text-anchor="end" textLength="34.03" lengthAdjust="spacingAndGlyphs">5000</text>
<line x1="72.64" x2="77.5" y1="715.5" y2="715.5" stroke="#000" stroke-width="1.111"/>
<text x="66.55" y="720.6" font-size="14.4" text-anchor="end" textLength="34.03" lengthAdjust="spacingAndGlyphs">6000</text>
<line x1="72.64" x2="77.5" y1="643.5" y2="643.5" stroke="#000" stroke-width="1.111"/>
<text x="66.55" y="648.6" font-size="14.4" text-anchor="end" textLength="34.03" lengthAdjust="spacingAndGlyphs">7000</text>
<line x1="77.5" x2="77.5" y1="1145.5" y2="1150.36" stroke="#000" stroke-width="1.111"/>
<line x1="785.5" x2="785.5" y1="1145.5" y2="1150.36" stroke="#000" stroke-width="1.111"/>
<line x1="126.5" x2="126.5" y1="1145.5" y2="1150.36" stroke="#000" stroke-width="1.111"/>
<line x1="178.5" x2="178.5" y1="1145.5" y2="1150.36" stroke="#000" stroke-width="1.111"/>
<line x1="231.5" x2="231.5" y1="1145.5" y2="1150.36" stroke="#000" stroke-width="1.111"/>
<line x1="283.5" x2="283.5" y1="1145.5" y2="1150.36" stroke="#000" stroke-width="1.111"/>
<line x1="336.5" x2="336.5" y1="1145.5" y2="1150.36" stroke="#000" stroke-width="1.111"/>
<line x1="390.5" x2="390.5" y1="1145.5" y2="1150.36" stroke="#000" stroke-width="1.111"/>
<line x1="442.5" x2="442.5" y1="1145.5" y2="1150.36" stroke="#000" stroke-width="1.111"/>
<line x1="495.5" x2="495.5" y1="1145.5" y2="1150.36" stroke="#000" stroke-width="1.111"/>
<line x1="547.5" x2="547.5" y1="1145.5" y2="1150.36" stroke="#000" stroke-width="1.111"/>
<line x1="600.5" x2="600.5" y1="1145.5" y2="1150.36" stroke="#000" stroke-width="1.111"/>
<line x1="654.5" x2="654.5" y1="1145.5" y2="1150.36" stroke="#000" stroke-width="1.111"/>
<line x1="702.5" x2="702.5" y1="1145.5" y2="1150.36" stroke="#000" stroke-width="1.111"/>
<line x1="756.5" x2="756.5" y1="1145.5" y2="1150.36" stroke="#000" stroke-width="1.111"/>
<line x1="86.5" x2="86.5" y1="1145.5" y2="1148.28" stroke="#000" stroke-width="0.83"/>
<line x1="98.5" x2="98.5" y1="1145.5" y2="1148.28" stroke="#000" stroke-width="0.83"/>
<line x1="110.5" x2="110.5" y1="1145.5" y2="1148.28" stroke="#000" stroke-width="0.83"/>
<line x1="122.5" x2="122.5" y1="1145.5" y2="1148.28" stroke="#000" stroke-width="0.83"/>
<line x1="134.5" x2="134.5" y1="1145.5" y2="1148.28" stroke="#000" stroke-width="0.83"/>
<line x1="146.5" x2="146.5" y1="1145.5" y2="1148.28" stroke="#000" stroke-width="0.83"/>
<line x1="159.5" x2="159.5" y1="1145.5" y2="1148.28" stroke="#000" stroke-width="0.83"/>
<line x1="171.5" x2="171.5" y1="1145.5" y2="1148.28" stroke="#000" stroke-width="0.83"/>
<line x1="183.5" x2="183.5" y1="1145.5" y2="1148.28" stroke="#000" stroke-width="0.83"/>
<line x1="195.5" x2="195.5" y1="1145.5" y2="1148.28" stroke="#000" stroke-width="0.83"/>
<line x1="207.5" x2="207.5" y1="1145.5" y2="1148.28" stroke="#000" stroke-width="0.83"/>
<line x1="219.5" x2="219.5" y1="1145.5" y2="1148.28" stroke="#000" stroke-width="0.83"/>
<line x1="231.5" x2="231.5" y1="1145.5" y2="1148.28" stroke="#000" stroke-width="0.83"/>
<line x1="243.5" x2="243.5" y1="1145.5" y2="1148.28" stroke="#000" stroke-width="0.83"/>
<line x1="255.5" x2="255.5" y1="1145.5" y2="1148.28" stroke="#000" stroke-width="0.83"/>
<line x1="267.5" x2="267.5" y1="1145.5" y2="1148.28" stroke="#000" stroke-width="0.83"/>
<line x1="279.5" x2="279.5" y1="1145.5" y2="1148.28" stroke="#000" stroke-width="0.83"/>
<line x1="291.5" x2="291.5" y1="1145.5" y2="1148.28" stroke="#000" stroke-width="0.83"/>
<line x1="304.5" x2="304.5" y1="1145.5" y2="1148.28" stroke="#000" stroke-width="0.83"/>
<line x1="316.5" x2="316.5" y1="1145.5" y2="1148.28" stroke="#000" stroke-width="0.83"/>
<line x1="328.5" x2="328.5" y1="1145.5" y2="1148.28" stroke="#000" stroke-width="0.83"/>
<line x1="340.5" x2="340.5" y1="1145.5" y2="1148.28" stroke="#000" stroke-width="0.83"/>
<line x1="352.5" x2="352.5" y1="1145.5" y2="1148.28" stroke="#000" stroke-width="0.83"/>
<line x1="364.5" x2="364.5" y1="1145.5" y2="1148.28" stroke="#000" stroke-width="0.83"/>
<line x1="376.5" x2="376.5" y1="1145.5" y2="1148.28" stroke="#000" stroke-width="0.83"/>
<line x1="388.5" x2="388.5" y1="1145.5" y2="1148.28" stroke="#000" stroke-width="0.83"/>
<line x1="400.5" x2="400.5" y1="1145.5" y2="1148.28" stroke="#000" stroke-width="0.83"/>
<line x1="412.5" x2="412.5" y1="1145.5" y2="1148.28" stroke="#000" stroke-width="0.83"/>
<line x1="424.5" x2="424.5" y1="1145.5" y2="1148.28" stroke="#000" stroke-width="0.83"/>
<line x1="436.5" x2="436.5" y1="1145.5" y2="1148.28" stroke="#000" stroke-width="0.83"/>
<line x1="448.5" x2="448.5" y1="1145.5" y2="1148.28" stroke="#000" stroke-width="0.83"/>
<line x1="461.5" x2="461.5" y1="1145.5" y2="1148.28" stroke="#000" stroke-width="0.83"/>
<line x1="473.5" x2="473.5" y1="1145.5" y2="1148.28" stroke="#000" stroke-width="0.83"/>
<line x1="485.5" x2="485.5" y1="1145.5" y2="1148.28" stroke="#000" stroke-width="0.83"/>
<line x1="497.5" x2="497.5" y1="1145.5" y2="1148.28" stroke="#000" stroke-width="0.83"/>
<line x1="509.5" x2="509.5" y1="1145.5" y2="1148.28" stroke="#000" stroke-width="0.83"/>
<line x1="521.5" x2="521.5" y1="1145.5" y2="1148.28" stroke="#000" stroke-width="0.83"/>
<line x1="533.5" x2="533.5" y1="1145.5" y2="1148.28" stroke="#000" stroke-width="0.83"/>
<line x1="545.5" x2="545.5" y1="1145.5" y2="1148.28" stroke="#000" stroke-width="0.83"/>
<line x1="557.5" x2="557.5" y1="1145.5" y2="1148.28" stroke="#000" stroke-width="0.83"/>
<line x1="569.5" x2="569.5" y1="1145.5" y2="1148.28" stroke="#000" stroke-width="0.83"/>
<line x1="581.5" x2="581.5" y1="1145.5" y2="1148.28" stroke="#000" stroke-width="0.83"/>
<line x1="593.5" x2="593.5" y1="1145.5" y2="1148.28" stroke="#000" stroke-width="0.83"/>
<line x1="605.5" x2="605.5" y1="1145.5" y2="1148.28" stroke="#000" stroke-width="0.83"/>
<line x1="618.5" x2="618.5" y1="1145.5" y2="1148.28" stroke="#000" stroke-width="0.83"/>
<line x1="630.5" x2="630.5" y1="1145.5" y2="1148.28" stroke="#000" stroke-width="0.83"/>
<line x1="642.5" x2="642.5" y1="1145.5" y2="1148.28" stroke="#000" stroke-width="0.83"/>
<line x1="654.5" x2="654.5" y1="1145.5" y2="1148.28" stroke="#000" stroke-width="0.83"/>
<line x1="666.5" x2="666.5" y1="1145.5" y2="1148.28" stroke="#000" stroke-width="0.83"/>
<line x1="678.5" x2="678.5" y1="1145.5" y2="1148.28" stroke="#000" stroke-width="0.83"/>
<line x1="690.5" x2="690.5" y1="1145.5" y2="1148.28" stroke="#000" stroke-width="0.83"/>
<line x1="702.5" x2="702.5" y1="1145.5" y2="1148.28" stroke="#000" stroke-width="0.83"/>
<line x1="714.5" x2="714.5" y1="1145.5" y2="1148.28" stroke="#000" stroke-width="0.83"/>
<line x1="726.5" x2="726.5" y1="1145.5" y2="1148.28" stroke="#000" stroke-width="0.83"/>
<line x1="738.5" x2="738.5" y1="1145.5" y2="1148.28" stroke="#000" stroke-width="0.83"/>
<line x1="750.5" x2="750.5" y1="1145.5" y2="1148.28" stroke="#000" stroke-width="0.83"/>
<line x1="763.5" x2="763.5" y1="1145.5" y2="1148.28" stroke="#000" stroke-width="0.83"/>
<line x1="775.5" x2="775.5" y1="1145.5" y2="1148.28" stroke="#000" stroke-width="0.83"/>
<text x="126.28" y="1166.1" font-size="14.4" text-anchor="middle" textLength="23.4" lengthAdjust="spacingAndGlyphs">Apr</text>
<text x="178.04" y="1166.1" font-size="14.4" text-anchor="middle" textLength="27.98" lengthAdjust="spacingAndGlyphs">May</text>
<text x="231.54" y="1166.1" font-size="14.4" text-anchor="middle" textLength="21.16" lengthAdjust="spacingAndGlyphs">Jun</text>
<text x="283.31" y="1166.1" font-size="14.4" text-anchor="middle" textLength="16.33" lengthAdjust="spacingAndGlyphs">Jul</text>
<text x="336.8" y="1166.1" font-size="14.4" text-anchor="middle" textLength="26.42" lengthAdjust="spacingAndGlyphs">Aug</text>
<text x="390.29" y="1166.1" font-size="14.4" text-anchor="middle" textLength="25.54" lengthAdjust="spacingAndGlyphs">Sep</text>
<text x="442.06" y="1166.1" font-size="14.4" text-anchor="middle" textLength="23.4" lengthAdjust="spacingAndGlyphs">Oct</text>
<text x="495.56" y="1166.1" font-size="14.4" text-anchor="middle" textLength="26.42" lengthAdjust="spacingAndGlyphs">Nov</text>
<text x="547.32" y="1166.1" font-size="14.4" text-anchor="middle" textLength="26.23" lengthAdjust="spacingAndGlyphs">Dec</text>
<text x="600.82" y="1166.1" font-size="14.4" text-anchor="middle" textLength="20.86" lengthAdjust="spacingAndGlyphs">Jan</text>
<text x="600.82" y="1182.2" font-size="14.4" text-anchor="middle" textLength="34.28" lengthAdjust="spacingAndGlyphs">2021</text>
<text x="654.31" y="1166.1" font-size="14.4" text-anchor="middle" textLength="23.98" lengthAdjust="spacingAndGlyphs">Feb</text>
<text x="702.63" y="1166.1" font-size="14.4" text-anchor="middle" textLength="25.54" lengthAdjust="spacingAndGlyphs">Mar</text>
<text x="756.12" y="1166.1" font-size="14.4" text-anchor="middle" textLength="23.4" lengthAdjust="spacingAndGlyphs">Apr</text>
<rect x="84.5" y="599.5" width="98" height="25" rx="2.8" ry="2.8" fill="#fff" fill-opacity="0.8" stroke="#ccc" stroke-opacity="0.8" stroke-width="1.15"/>
<line x1="90.1" x2="117.9" y1="610" y2="610" stroke="#1f77b4" stroke-width="2.0" stroke-linecap="square"/>
<text x="129.83" y="615.4" font-size="14.4" text-anchor="start" textLength="46.73" lengthAdjust="spacingAndGlyphs">deaths</text>
<text x="396.9" y="36.2" font-size="17.2" text-anchor="middle" textLength="159.6" lengthAdjust="spacingAndGlyphs">Mississippi 28 days</text>
</svg></body></html>
